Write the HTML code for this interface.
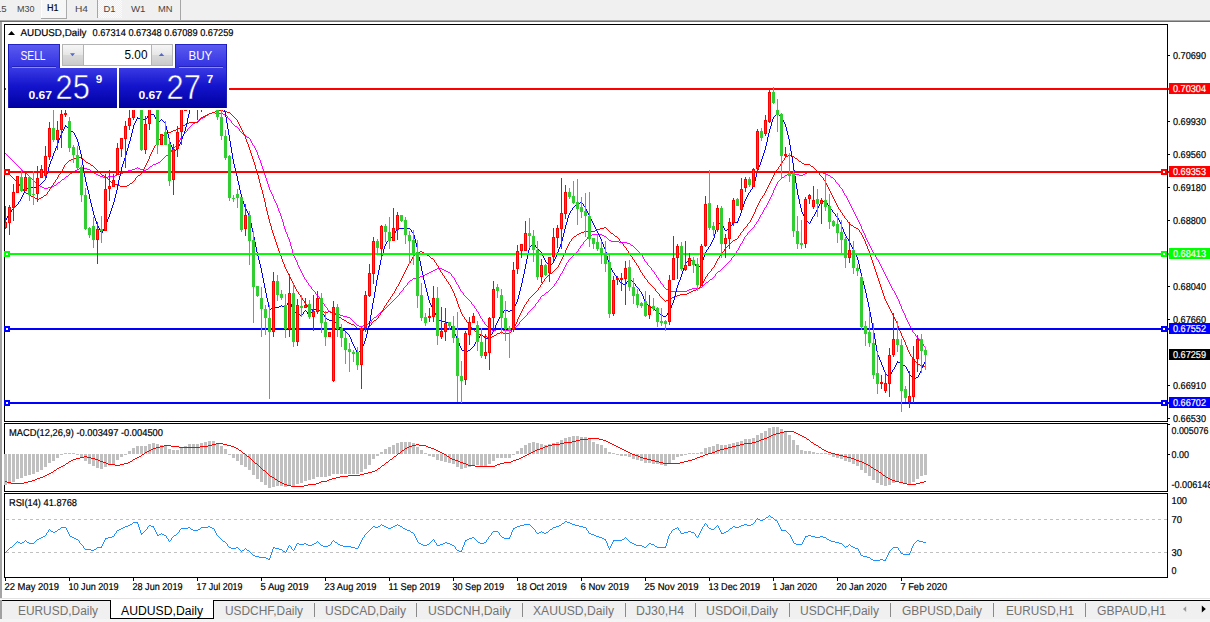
<!DOCTYPE html>
<html><head><meta charset="utf-8"><title>AUDUSD,Daily</title>
<style>
html,body{margin:0;padding:0;background:#fff;overflow:hidden;}
body{width:1210px;height:622px;font-family:"Liberation Sans",sans-serif;}
svg{display:block;}
svg text{font-family:"Liberation Sans",sans-serif;}
.c{shape-rendering:crispEdges;}
</style></head><body>
<svg width="1210" height="622" viewBox="0 0 1210 622">
<rect x="0" y="0" width="1210" height="622" fill="#fff" />
<rect x="0" y="0" width="1210" height="20" fill="#f0f0f0" />
<rect x="0" y="20" width="1210" height="1" fill="#a8a8a8" />
<rect x="0" y="21" width="1210" height="1" fill="#6e6e6e" />
<rect x="0" y="22" width="2" height="577" fill="#a4a4a4" />
<text x="6.6" y="11.8" font-size="9.6" fill="#454545" text-anchor="end" >M15</text>
<text x="17" y="11.8" font-size="9.6" fill="#454545" textLength="17.5" lengthAdjust="spacingAndGlyphs" >M30</text>
<rect x="41" y="0" width="26" height="19" fill="#f6f6f6" />
<rect x="41" y="0" width="1" height="19" fill="#fdfdfd" />
<rect x="66" y="0" width="1" height="19" fill="#ababab" />
<rect x="41" y="18" width="26" height="1" fill="#a6a6a6" />
<text x="47" y="10.8" font-size="10" fill="#000" textLength="11.5" lengthAdjust="spacingAndGlyphs" text-rendering="geometricPrecision" stroke="#000" stroke-width="0.2" >H1</text>
<text x="75" y="11.8" font-size="9.6" fill="#454545" textLength="13" lengthAdjust="spacingAndGlyphs" >H4</text>
<rect x="97" y="0" width="1" height="18" fill="#a6a6a6" />
<defs><pattern id="hatch" width="2" height="2" patternUnits="userSpaceOnUse"><rect width="2" height="2" fill="#f0f0f0"/><rect width="1" height="1" fill="#fbfbfb"/><rect x="1" y="1" width="1" height="1" fill="#fbfbfb"/></pattern></defs>
<rect x="98" y="0" width="24" height="18" fill="url(#hatch)" />
<text x="103.5" y="11.8" font-size="9.6" fill="#454545" textLength="12" lengthAdjust="spacingAndGlyphs" >D1</text>
<text x="131" y="11.8" font-size="9.6" fill="#454545" textLength="14.5" lengthAdjust="spacingAndGlyphs" >W1</text>
<text x="158" y="11.8" font-size="9.6" fill="#454545" textLength="14.5" lengthAdjust="spacingAndGlyphs" >MN</text>
<rect x="180" y="0" width="1" height="20" fill="#a6a6a6" />
<path class="c" d="M5.5 153v1M6.5 154v1M7.5 155v1M8.5 156v1M9.5 157v1M10.5 158v1M11.5 159v1M12.5 160v1M13.5 161v1M14.5 162v1M15.5 163v1M16.5 164v1M17.5 165v1M18.5 166v1M19.5 167v1M20.5 168v1M21.5 169v1M22.5 170v1M23.5 171v1M24.5 172v1M25.5 173v1M26.5 173v1M27.5 174v1M28.5 175v1M29.5 176v1M30.5 177v1M31.5 178v1M32.5 179v1M33.5 180v1M34.5 181v1M35.5 182v1M36.5 183v1M37.5 184v1M38.5 185v1M39.5 185v1M40.5 186v1M41.5 186v1M42.5 187v1M43.5 187v1M44.5 188v1M45.5 188v1M46.5 188v1M47.5 188v1M48.5 187v1M49.5 187v1M50.5 187v1M51.5 187v1M52.5 186v1M53.5 186v1M54.5 185v1M55.5 185v1M56.5 184v1M57.5 183v1M58.5 182v1M59.5 182v1M60.5 181v1M61.5 180v1M62.5 179v1M63.5 179v1M64.5 178v1M65.5 177v1M66.5 176v1M67.5 176v1M68.5 175v1M69.5 174v1M70.5 173v1M71.5 173v1M72.5 172v1M73.5 172v1M74.5 171v1M75.5 170v1M76.5 170v1M77.5 169v1M78.5 169v1M79.5 168v1M80.5 168v1M81.5 167v1M82.5 167v1M83.5 168v1M84.5 168v1M85.5 168v1M86.5 168v1M87.5 169v1M88.5 169v1M89.5 169v1M90.5 170v1M91.5 171v1M92.5 171v1M93.5 172v1M94.5 173v1M95.5 173v1M96.5 174v1M97.5 174v1M98.5 175v1M99.5 175v1M100.5 176v1M101.5 176v1M102.5 176v1M103.5 177v1M104.5 177v1M105.5 177v1M106.5 177v1M107.5 177v1M108.5 176v1M109.5 176v1M110.5 176v1M111.5 176v1M112.5 176v1M113.5 176v1M114.5 176v1M115.5 175v1M116.5 175v1M117.5 174v1M118.5 174v1M119.5 174v1M120.5 173v1M121.5 173v1M122.5 173v1M123.5 172v1M124.5 172v1M125.5 171v1M126.5 171v1M127.5 171v1M128.5 170v1M129.5 170v1M130.5 170v1M131.5 170v1M132.5 169v1M133.5 169v1M134.5 169v1M135.5 168v1M136.5 168v1M137.5 167v1M138.5 168v1M139.5 168v1M140.5 169v1M141.5 169v1M142.5 169v1M143.5 170v1M144.5 170v1M145.5 170v1M146.5 169v1M147.5 169v1M148.5 168v1M149.5 167v1M150.5 166v1M151.5 166v1M152.5 165v1M153.5 164v1M154.5 164v1M155.5 164v1M156.5 163v1M157.5 163v1M158.5 162v1M159.5 162v1M160.5 161v1M161.5 160v1M162.5 159v1M163.5 158v1M164.5 157v1M165.5 156v1M166.5 155v1M167.5 155v1M168.5 154v1M169.5 153v1M170.5 152v1M171.5 150v2M172.5 149v1M173.5 148v1M174.5 147v1M175.5 146v1M176.5 145v1M177.5 144v1M178.5 142v2M179.5 140v2M180.5 138v2M181.5 137v1M182.5 136v1M183.5 134v2M184.5 133v1M185.5 132v1M186.5 131v1M187.5 129v2M188.5 128v1M189.5 127v1M190.5 126v1M191.5 125v1M192.5 124v1M193.5 123v1M194.5 123v1M195.5 122v1M196.5 122v1M197.5 121v1M198.5 120v1M199.5 120v1M200.5 119v1M201.5 118v1M202.5 118v1M203.5 117v1M204.5 117v1M205.5 116v1M206.5 115v1M207.5 115v1M208.5 114v1M209.5 113v1M210.5 113v1M211.5 113v1M212.5 112v1M213.5 112v1M214.5 112v1M215.5 113v1M216.5 113v1M217.5 113v1M218.5 113v1M219.5 113v1M220.5 113v1M221.5 113v1M222.5 113v1M223.5 114v1M224.5 114v1M225.5 114v1M226.5 115v1M227.5 116v2M228.5 118v1M229.5 119v1M230.5 120v1M231.5 121v2M232.5 123v1M233.5 124v1M234.5 125v1M235.5 126v1M236.5 126v1M237.5 127v1M238.5 128v1M239.5 129v2M240.5 131v1M241.5 132v1M242.5 133v1M243.5 134v1M244.5 134v1M245.5 135v1M246.5 136v1M247.5 137v1M248.5 137v1M249.5 138v1M250.5 139v2M251.5 141v2M252.5 143v2M253.5 145v1M254.5 146v2M255.5 148v2M256.5 150v2M257.5 152v3M258.5 155v3M259.5 158v2M260.5 160v3M261.5 163v3M262.5 166v3M263.5 169v3M264.5 172v3M265.5 175v3M266.5 178v3M267.5 181v3M268.5 184v3M269.5 187v3M270.5 190v2M271.5 192v2M272.5 194v2M273.5 196v3M274.5 199v2M275.5 201v2M276.5 203v2M277.5 205v3M278.5 208v3M279.5 211v2M280.5 213v3M281.5 216v3M282.5 219v3M283.5 222v4M284.5 226v3M285.5 229v3M286.5 232v2M287.5 234v3M288.5 237v2M289.5 239v3M290.5 242v4M291.5 246v3M292.5 249v4M293.5 253v3M294.5 256v2M295.5 258v2M296.5 260v2M297.5 262v3M298.5 265v2M299.5 267v2M300.5 269v2M301.5 271v2M302.5 273v2M303.5 275v2M304.5 277v2M305.5 279v1M306.5 280v2M307.5 282v1M308.5 283v2M309.5 285v1M310.5 286v1M311.5 287v2M312.5 289v1M313.5 290v1M314.5 291v1M315.5 292v2M316.5 294v1M317.5 295v1M318.5 296v1M319.5 297v2M320.5 299v1M321.5 300v1M322.5 301v2M323.5 303v1M324.5 304v2M325.5 306v1M326.5 307v1M327.5 308v2M328.5 310v1M329.5 311v1M330.5 311v1M331.5 312v1M332.5 312v1M333.5 312v1M334.5 312v1M335.5 313v1M336.5 313v1M337.5 313v1M338.5 314v1M339.5 314v1M340.5 315v1M341.5 315v1M342.5 315v1M343.5 316v1M344.5 316v1M345.5 316v1M346.5 316v1M347.5 317v1M348.5 317v1M349.5 317v1M350.5 318v1M351.5 319v1M352.5 320v1M353.5 321v1M354.5 322v1M355.5 323v1M356.5 324v1M357.5 325v1M358.5 325v1M359.5 326v1M360.5 326v1M361.5 326v1M362.5 326v1M363.5 325v1M364.5 325v1M365.5 324v1M366.5 324v1M367.5 324v1M368.5 323v1M369.5 323v1M370.5 322v1M371.5 320v2M372.5 319v1M373.5 318v1M374.5 317v1M375.5 317v1M376.5 316v1M377.5 315v1M378.5 314v1M379.5 313v1M380.5 312v1M381.5 311v1M382.5 310v1M383.5 310v1M384.5 309v1M385.5 308v1M386.5 307v1M387.5 306v1M388.5 305v1M389.5 304v1M390.5 303v1M391.5 302v1M392.5 301v1M393.5 300v1M394.5 299v1M395.5 298v1M396.5 297v1M397.5 296v1M398.5 295v1M399.5 293v2M400.5 292v1M401.5 291v1M402.5 290v1M403.5 288v2M404.5 287v1M405.5 286v1M406.5 285v1M407.5 283v2M408.5 282v1M409.5 281v1M410.5 280v1M411.5 280v1M412.5 279v1M413.5 278v1M414.5 278v1M415.5 278v1M416.5 277v1M417.5 277v1M418.5 277v1M419.5 277v1M420.5 276v1M421.5 276v1M422.5 276v1M423.5 275v1M424.5 275v1M425.5 274v1M426.5 274v1M427.5 273v1M428.5 273v1M429.5 272v1M430.5 272v1M431.5 271v1M432.5 271v1M433.5 270v1M434.5 270v1M435.5 269v1M436.5 269v1M437.5 268v1M438.5 268v1M439.5 268v1M440.5 268v1M441.5 268v1M442.5 269v1M443.5 269v1M444.5 270v1M445.5 270v1M446.5 271v1M447.5 271v1M448.5 272v1M449.5 272v1M450.5 273v1M451.5 274v2M452.5 276v1M453.5 277v1M454.5 278v2M455.5 280v2M456.5 282v2M457.5 284v1M458.5 285v2M459.5 287v2M460.5 289v2M461.5 291v1M462.5 292v1M463.5 293v2M464.5 295v1M465.5 296v1M466.5 297v1M467.5 298v1M468.5 299v1M469.5 300v1M470.5 301v1M471.5 302v2M472.5 304v1M473.5 305v1M474.5 306v2M475.5 308v1M476.5 309v2M477.5 311v1M478.5 312v2M479.5 314v2M480.5 316v2M481.5 318v1M482.5 319v2M483.5 321v1M484.5 322v2M485.5 324v1M486.5 325v1M487.5 326v1M488.5 327v1M489.5 328v1M490.5 329v1M491.5 329v1M492.5 330v1M493.5 330v1M494.5 330v1M495.5 330v1M496.5 329v1M497.5 329v1M498.5 329v1M499.5 329v1M500.5 329v1M501.5 329v1M502.5 329v1M503.5 330v1M504.5 330v1M505.5 330v1M506.5 330v1M507.5 330v1M508.5 330v1M509.5 330v1M510.5 330v1M511.5 330v1M512.5 329v1M513.5 329v1M514.5 328v1M515.5 327v1M516.5 326v1M517.5 325v1M518.5 324v1M519.5 322v2M520.5 321v1M521.5 320v1M522.5 319v1M523.5 318v1M524.5 317v1M525.5 316v1M526.5 315v1M527.5 313v2M528.5 312v1M529.5 311v1M530.5 310v1M531.5 309v1M532.5 308v1M533.5 307v1M534.5 306v1M535.5 304v2M536.5 303v1M537.5 302v1M538.5 300v2M539.5 299v1M540.5 297v2M541.5 296v1M542.5 295v1M543.5 295v1M544.5 294v1M545.5 293v1M546.5 292v1M547.5 292v1M548.5 291v1M549.5 290v1M550.5 289v1M551.5 288v1M552.5 287v1M553.5 286v1M554.5 284v2M555.5 283v1M556.5 281v2M557.5 280v1M558.5 278v2M559.5 276v2M560.5 274v2M561.5 273v1M562.5 271v2M563.5 269v2M564.5 267v2M565.5 265v2M566.5 263v2M567.5 262v1M568.5 260v2M569.5 259v1M570.5 258v1M571.5 257v1M572.5 256v1M573.5 255v1M574.5 254v1M575.5 253v1M576.5 252v1M577.5 251v1M578.5 249v2M579.5 248v1M580.5 246v2M581.5 245v1M582.5 244v1M583.5 242v2M584.5 241v1M585.5 240v1M586.5 239v1M587.5 237v2M588.5 236v1M589.5 235v1M590.5 235v1M591.5 235v1M592.5 234v1M593.5 234v1M594.5 234v1M595.5 234v1M596.5 234v1M597.5 234v1M598.5 234v1M599.5 234v1M600.5 234v1M601.5 234v1M602.5 235v1M603.5 235v1M604.5 236v1M605.5 236v1M606.5 237v1M607.5 238v1M608.5 239v1M609.5 240v1M610.5 240v1M611.5 241v1M612.5 241v1M613.5 241v1M614.5 241v1M615.5 241v1M616.5 241v1M617.5 241v1M618.5 241v1M619.5 242v1M620.5 242v1M621.5 242v1M622.5 242v1M623.5 242v1M624.5 242v1M625.5 242v1M626.5 242v1M627.5 243v1M628.5 243v1M629.5 243v1M630.5 244v1M631.5 245v1M632.5 245v1M633.5 246v1M634.5 247v1M635.5 248v1M636.5 249v1M637.5 250v1M638.5 251v1M639.5 252v1M640.5 253v1M641.5 254v1M642.5 255v2M643.5 257v2M644.5 259v2M645.5 261v1M646.5 262v1M647.5 263v2M648.5 265v1M649.5 266v1M650.5 267v1M651.5 268v2M652.5 270v1M653.5 271v1M654.5 272v2M655.5 274v1M656.5 275v2M657.5 277v1M658.5 278v2M659.5 280v1M660.5 281v2M661.5 283v1M662.5 284v1M663.5 285v2M664.5 287v1M665.5 288v1M666.5 289v1M667.5 289v1M668.5 290v1M669.5 290v1M670.5 290v1M671.5 291v1M672.5 291v1M673.5 291v1M674.5 291v1M675.5 291v1M676.5 291v1M677.5 291v1M678.5 291v1M679.5 291v1M680.5 291v1M681.5 291v1M682.5 291v1M683.5 291v1M684.5 291v1M685.5 291v1M686.5 291v1M687.5 290v1M688.5 290v1M689.5 289v1M690.5 289v1M691.5 289v1M692.5 288v1M693.5 288v1M694.5 288v1M695.5 288v1M696.5 288v1M697.5 288v1M698.5 288v1M699.5 288v1M700.5 287v1M701.5 287v1M702.5 286v1M703.5 285v1M704.5 284v1M705.5 283v1M706.5 282v1M707.5 282v1M708.5 281v1M709.5 280v1M710.5 279v1M711.5 279v1M712.5 278v1M713.5 277v1M714.5 276v1M715.5 274v2M716.5 273v1M717.5 272v1M718.5 271v1M719.5 271v1M720.5 270v1M721.5 269v1M722.5 268v1M723.5 267v1M724.5 266v1M725.5 265v1M726.5 264v1M727.5 263v1M728.5 262v1M729.5 261v1M730.5 260v1M731.5 258v2M732.5 257v1M733.5 256v1M734.5 254v2M735.5 253v1M736.5 251v2M737.5 250v1M738.5 248v2M739.5 246v2M740.5 244v2M741.5 243v1M742.5 241v2M743.5 239v2M744.5 237v2M745.5 236v1M746.5 235v1M747.5 233v2M748.5 232v1M749.5 231v1M750.5 230v1M751.5 229v1M752.5 228v1M753.5 227v1M754.5 225v2M755.5 224v1M756.5 222v2M757.5 221v1M758.5 219v2M759.5 217v2M760.5 215v2M761.5 214v1M762.5 212v2M763.5 210v2M764.5 208v2M765.5 207v1M766.5 205v2M767.5 203v2M768.5 201v2M769.5 199v2M770.5 197v2M771.5 195v2M772.5 193v2M773.5 190v3M774.5 188v2M775.5 186v2M776.5 184v2M777.5 182v2M778.5 181v1M779.5 180v1M780.5 179v1M781.5 178v1M782.5 177v1M783.5 177v1M784.5 176v1M785.5 175v1M786.5 175v1M787.5 174v1M788.5 174v1M789.5 173v1M790.5 173v1M791.5 173v1M792.5 173v1M793.5 173v1M794.5 173v1M795.5 174v1M796.5 174v1M797.5 174v1M798.5 174v1M799.5 175v1M800.5 175v1M801.5 175v1M802.5 175v1M803.5 174v1M804.5 174v1M805.5 173v1M806.5 173v1M807.5 172v1M808.5 172v1M809.5 171v1M810.5 171v1M811.5 171v1M812.5 171v1M813.5 171v1M814.5 171v1M815.5 171v1M816.5 171v1M817.5 171v1M818.5 171v1M819.5 172v1M820.5 172v1M821.5 172v1M822.5 172v1M823.5 173v1M824.5 173v1M825.5 173v1M826.5 174v1M827.5 174v1M828.5 175v1M829.5 175v1M830.5 176v1M831.5 177v1M832.5 177v1M833.5 178v1M834.5 179v1M835.5 180v2M836.5 182v1M837.5 183v1M838.5 184v1M839.5 185v2M840.5 187v1M841.5 188v1M842.5 189v2M843.5 191v2M844.5 193v2M845.5 195v1M846.5 196v2M847.5 198v2M848.5 200v2M849.5 202v2M850.5 204v2M851.5 206v2M852.5 208v2M853.5 210v2M854.5 212v2M855.5 214v2M856.5 216v2M857.5 218v2M858.5 220v2M859.5 222v2M860.5 224v2M861.5 226v3M862.5 229v2M863.5 231v2M864.5 233v2M865.5 235v3M866.5 238v2M867.5 240v2M868.5 242v2M869.5 244v2M870.5 246v2M871.5 248v2M872.5 250v2M873.5 252v1M874.5 253v2M875.5 255v2M876.5 257v2M877.5 259v1M878.5 260v2M879.5 262v2M880.5 264v2M881.5 266v2M882.5 268v2M883.5 270v2M884.5 272v2M885.5 274v2M886.5 276v2M887.5 278v2M888.5 280v2M889.5 282v2M890.5 284v2M891.5 286v2M892.5 288v2M893.5 290v1M894.5 291v2M895.5 293v2M896.5 295v2M897.5 297v2M898.5 299v2M899.5 301v3M900.5 304v2M901.5 306v3M902.5 309v2M903.5 311v2M904.5 313v2M905.5 315v3M906.5 318v2M907.5 320v2M908.5 322v2M909.5 324v2M910.5 326v2M911.5 328v2M912.5 330v2M913.5 332v1M914.5 333v1M915.5 334v2M916.5 336v1M917.5 337v1M918.5 338v1M919.5 339v2M920.5 341v1M921.5 342v1M922.5 343v1M923.5 344v2M924.5 346v1M925.5 347v1" fill="none" stroke="#ff00ff" stroke-width="1"/>
<path class="c" d="M5.5 170v1M6.5 171v1M7.5 172v1M8.5 173v1M9.5 174v1M10.5 175v1M11.5 176v1M12.5 177v1M13.5 178v1M14.5 179v1M15.5 180v1M16.5 181v1M17.5 182v1M18.5 183v1M19.5 184v2M20.5 186v1M21.5 187v1M22.5 188v1M23.5 189v2M24.5 191v1M25.5 192v1M26.5 193v1M27.5 193v1M28.5 194v1M29.5 195v1M30.5 195v1M31.5 196v1M32.5 196v1M33.5 197v1M34.5 197v1M35.5 198v1M36.5 198v1M37.5 199v1M38.5 199v1M39.5 198v1M40.5 198v1M41.5 197v1M42.5 197v1M43.5 196v1M44.5 195v1M45.5 195v1M46.5 194v1M47.5 192v2M48.5 191v1M49.5 189v2M50.5 188v1M51.5 186v2M52.5 185v1M53.5 183v2M54.5 182v1M55.5 180v2M56.5 179v1M57.5 177v2M58.5 175v2M59.5 174v1M60.5 172v2M61.5 171v1M62.5 169v2M63.5 167v2M64.5 165v2M65.5 164v1M66.5 163v1M67.5 162v1M68.5 161v1M69.5 160v1M70.5 160v1M71.5 159v1M72.5 159v1M73.5 158v1M74.5 158v1M75.5 158v1M76.5 157v1M77.5 157v1M78.5 157v1M79.5 157v1M80.5 157v1M81.5 157v1M82.5 158v1M83.5 159v1M84.5 160v1M85.5 161v1M86.5 162v1M87.5 162v1M88.5 163v1M89.5 163v1M90.5 164v1M91.5 165v1M92.5 165v1M93.5 166v1M94.5 167v1M95.5 168v1M96.5 169v1M97.5 170v1M98.5 171v1M99.5 172v1M100.5 173v1M101.5 174v1M102.5 175v1M103.5 175v1M104.5 176v1M105.5 176v1M106.5 177v1M107.5 178v1M108.5 179v1M109.5 180v1M110.5 181v1M111.5 182v1M112.5 182v1M113.5 183v1M114.5 183v1M115.5 184v1M116.5 184v1M117.5 184v1M118.5 185v1M119.5 185v1M120.5 186v1M121.5 186v1M122.5 186v1M123.5 186v1M124.5 186v1M125.5 186v1M126.5 186v1M127.5 185v1M128.5 185v1M129.5 184v1M130.5 183v1M131.5 183v1M132.5 182v1M133.5 181v1M134.5 180v1M135.5 178v2M136.5 177v1M137.5 176v1M138.5 175v1M139.5 175v1M140.5 174v1M141.5 173v1M142.5 171v2M143.5 169v2M144.5 167v2M145.5 165v2M146.5 163v2M147.5 161v2M148.5 159v2M149.5 156v3M150.5 154v2M151.5 152v2M152.5 150v2M153.5 148v2M154.5 146v2M155.5 145v1M156.5 143v2M157.5 142v1M158.5 140v2M159.5 139v1M160.5 137v2M161.5 136v1M162.5 135v1M163.5 135v1M164.5 134v1M165.5 133v1M166.5 133v1M167.5 133v1M168.5 132v1M169.5 132v1M170.5 132v1M171.5 131v1M172.5 131v1M173.5 130v1M174.5 130v1M175.5 130v1M176.5 129v1M177.5 129v1M178.5 128v1M179.5 128v1M180.5 127v1M181.5 126v1M182.5 126v1M183.5 125v1M184.5 125v1M185.5 124v1M186.5 124v1M187.5 123v1M188.5 123v1M189.5 122v1M190.5 122v1M191.5 122v1M192.5 122v1M193.5 122v1M194.5 122v1M195.5 122v1M196.5 122v1M197.5 122v1M198.5 121v1M199.5 119v2M200.5 118v1M201.5 117v1M202.5 117v1M203.5 116v1M204.5 116v1M205.5 115v1M206.5 115v1M207.5 114v1M208.5 114v1M209.5 113v1M210.5 113v1M211.5 113v1M212.5 112v1M213.5 112v1M214.5 112v1M215.5 111v1M216.5 111v1M217.5 110v1M218.5 110v1M219.5 110v1M220.5 110v1M221.5 110v1M222.5 110v1M223.5 111v1M224.5 111v1M225.5 111v1M226.5 111v1M227.5 112v1M228.5 112v1M229.5 112v1M230.5 113v1M231.5 114v1M232.5 115v1M233.5 116v1M234.5 117v1M235.5 118v1M236.5 119v1M237.5 120v2M238.5 122v2M239.5 124v2M240.5 126v2M241.5 128v2M242.5 130v2M243.5 132v2M244.5 134v2M245.5 136v3M246.5 139v3M247.5 142v2M248.5 144v3M249.5 147v3M250.5 150v3M251.5 153v3M252.5 156v3M253.5 159v3M254.5 162v3M255.5 165v4M256.5 169v3M257.5 172v3M258.5 175v4M259.5 179v4M260.5 183v4M261.5 187v3M262.5 190v4M263.5 194v4M264.5 198v4M265.5 202v5M266.5 207v4M267.5 211v4M268.5 215v4M269.5 219v4M270.5 223v3M271.5 226v4M272.5 230v3M273.5 233v3M274.5 236v3M275.5 239v3M276.5 242v3M277.5 245v3M278.5 248v3M279.5 251v2M280.5 253v3M281.5 256v3M282.5 259v3M283.5 262v2M284.5 264v3M285.5 267v2M286.5 269v2M287.5 271v2M288.5 273v2M289.5 275v2M290.5 277v2M291.5 279v2M292.5 281v2M293.5 283v2M294.5 285v2M295.5 287v2M296.5 289v2M297.5 291v1M298.5 292v2M299.5 294v1M300.5 295v2M301.5 297v1M302.5 298v2M303.5 300v1M304.5 301v2M305.5 303v1M306.5 304v1M307.5 305v2M308.5 307v1M309.5 308v1M310.5 308v1M311.5 309v1M312.5 309v1M313.5 309v1M314.5 309v1M315.5 309v1M316.5 309v1M317.5 309v1M318.5 309v1M319.5 310v1M320.5 310v1M321.5 310v1M322.5 311v1M323.5 311v1M324.5 312v1M325.5 312v1M326.5 312v1M327.5 312v1M328.5 311v1M329.5 311v1M330.5 312v1M331.5 312v1M332.5 313v1M333.5 313v1M334.5 314v1M335.5 314v1M336.5 315v1M337.5 315v1M338.5 316v1M339.5 317v1M340.5 317v1M341.5 318v1M342.5 319v1M343.5 319v1M344.5 320v1M345.5 320v1M346.5 321v1M347.5 322v1M348.5 322v1M349.5 323v1M350.5 323v1M351.5 324v1M352.5 324v1M353.5 324v1M354.5 325v1M355.5 326v1M356.5 327v1M357.5 328v1M358.5 329v1M359.5 329v1M360.5 330v1M361.5 330v1M362.5 330v1M363.5 330v1M364.5 329v1M365.5 329v1M366.5 328v1M367.5 328v1M368.5 327v1M369.5 326v1M370.5 325v1M371.5 323v2M372.5 322v1M373.5 321v1M374.5 320v1M375.5 320v1M376.5 319v1M377.5 318v1M378.5 316v2M379.5 315v1M380.5 313v2M381.5 312v1M382.5 310v2M383.5 308v2M384.5 306v2M385.5 305v1M386.5 303v2M387.5 302v1M388.5 300v2M389.5 299v1M390.5 297v2M391.5 296v1M392.5 294v2M393.5 293v1M394.5 291v2M395.5 289v2M396.5 287v2M397.5 286v1M398.5 284v2M399.5 282v2M400.5 280v2M401.5 278v2M402.5 276v2M403.5 274v2M404.5 272v2M405.5 270v2M406.5 268v2M407.5 266v2M408.5 264v2M409.5 263v1M410.5 261v2M411.5 259v2M412.5 257v2M413.5 256v1M414.5 255v1M415.5 254v1M416.5 253v1M417.5 252v1M418.5 252v1M419.5 252v1M420.5 251v1M421.5 251v1M422.5 252v1M423.5 252v1M424.5 253v1M425.5 253v1M426.5 254v1M427.5 255v1M428.5 255v1M429.5 256v1M430.5 257v1M431.5 258v1M432.5 258v1M433.5 259v1M434.5 260v2M435.5 262v1M436.5 263v2M437.5 265v1M438.5 266v2M439.5 268v2M440.5 270v2M441.5 272v1M442.5 273v2M443.5 275v1M444.5 276v2M445.5 278v1M446.5 279v2M447.5 281v1M448.5 282v2M449.5 284v1M450.5 285v2M451.5 287v2M452.5 289v2M453.5 291v2M454.5 293v3M455.5 296v2M456.5 298v3M457.5 301v3M458.5 304v3M459.5 307v2M460.5 309v3M461.5 312v2M462.5 314v2M463.5 316v1M464.5 317v2M465.5 319v1M466.5 320v2M467.5 322v1M468.5 323v2M469.5 325v1M470.5 326v1M471.5 327v1M472.5 328v1M473.5 329v1M474.5 330v1M475.5 331v1M476.5 331v1M477.5 332v1M478.5 333v1M479.5 334v1M480.5 334v1M481.5 335v1M482.5 335v1M483.5 336v1M484.5 336v1M485.5 336v1M486.5 336v1M487.5 337v1M488.5 337v1M489.5 337v1M490.5 337v1M491.5 337v1M492.5 336v1M493.5 336v1M494.5 335v1M495.5 335v1M496.5 334v1M497.5 333v1M498.5 333v1M499.5 333v1M500.5 332v1M501.5 332v1M502.5 332v1M503.5 333v1M504.5 333v1M505.5 333v1M506.5 333v1M507.5 333v1M508.5 333v1M509.5 333v1M510.5 332v1M511.5 330v2M512.5 329v1M513.5 328v1M514.5 326v2M515.5 324v2M516.5 322v2M517.5 319v3M518.5 317v2M519.5 315v2M520.5 313v2M521.5 311v2M522.5 309v2M523.5 307v2M524.5 305v2M525.5 304v1M526.5 302v2M527.5 301v1M528.5 299v2M529.5 298v1M530.5 297v1M531.5 296v1M532.5 295v1M533.5 294v1M534.5 293v1M535.5 292v1M536.5 291v1M537.5 290v1M538.5 288v2M539.5 287v1M540.5 285v2M541.5 284v1M542.5 282v2M543.5 281v1M544.5 279v2M545.5 278v1M546.5 277v1M547.5 276v1M548.5 275v1M549.5 274v1M550.5 273v1M551.5 273v1M552.5 272v1M553.5 271v1M554.5 270v1M555.5 269v1M556.5 268v1M557.5 267v1M558.5 265v2M559.5 263v2M560.5 261v2M561.5 259v2M562.5 257v2M563.5 255v2M564.5 253v2M565.5 250v3M566.5 248v2M567.5 246v2M568.5 244v2M569.5 242v2M570.5 241v1M571.5 239v2M572.5 238v1M573.5 237v1M574.5 236v1M575.5 236v1M576.5 235v1M577.5 234v1M578.5 234v1M579.5 233v1M580.5 233v1M581.5 232v1M582.5 232v1M583.5 232v1M584.5 231v1M585.5 231v1M586.5 231v1M587.5 231v1M588.5 231v1M589.5 231v1M590.5 231v1M591.5 231v1M592.5 231v1M593.5 231v1M594.5 231v1M595.5 230v1M596.5 230v1M597.5 229v1M598.5 229v1M599.5 229v1M600.5 228v1M601.5 228v1M602.5 228v1M603.5 228v1M604.5 227v1M605.5 227v1M606.5 228v1M607.5 229v1M608.5 230v1M609.5 231v1M610.5 232v1M611.5 233v1M612.5 233v1M613.5 234v1M614.5 235v1M615.5 236v1M616.5 236v1M617.5 237v1M618.5 238v1M619.5 239v2M620.5 241v1M621.5 242v1M622.5 243v1M623.5 244v2M624.5 246v1M625.5 247v1M626.5 248v2M627.5 250v1M628.5 251v2M629.5 253v1M630.5 254v2M631.5 256v1M632.5 257v2M633.5 259v1M634.5 260v2M635.5 262v1M636.5 263v2M637.5 265v1M638.5 266v2M639.5 268v2M640.5 270v2M641.5 272v1M642.5 273v2M643.5 275v1M644.5 276v2M645.5 278v1M646.5 279v1M647.5 280v2M648.5 282v1M649.5 283v1M650.5 284v1M651.5 285v1M652.5 286v1M653.5 287v1M654.5 288v1M655.5 289v2M656.5 291v1M657.5 292v1M658.5 293v1M659.5 294v2M660.5 296v1M661.5 297v1M662.5 298v1M663.5 299v1M664.5 300v1M665.5 301v1M666.5 300v1M667.5 300v1M668.5 299v1M669.5 298v1M670.5 298v1M671.5 298v1M672.5 297v1M673.5 297v1M674.5 297v1M675.5 296v1M676.5 296v1M677.5 295v1M678.5 295v1M679.5 295v1M680.5 294v1M681.5 294v1M682.5 294v1M683.5 294v1M684.5 294v1M685.5 294v1M686.5 294v1M687.5 293v1M688.5 293v1M689.5 292v1M690.5 292v1M691.5 291v1M692.5 291v1M693.5 290v1M694.5 290v1M695.5 290v1M696.5 289v1M697.5 289v1M698.5 288v1M699.5 287v1M700.5 286v1M701.5 285v1M702.5 283v2M703.5 281v2M704.5 279v2M705.5 277v2M706.5 276v1M707.5 274v2M708.5 273v1M709.5 272v1M710.5 271v1M711.5 269v2M712.5 268v1M713.5 267v1M714.5 265v2M715.5 263v2M716.5 261v2M717.5 259v2M718.5 258v1M719.5 256v2M720.5 255v1M721.5 254v1M722.5 252v2M723.5 251v1M724.5 249v2M725.5 248v1M726.5 247v1M727.5 246v1M728.5 245v1M729.5 244v1M730.5 243v1M731.5 242v1M732.5 241v1M733.5 240v1M734.5 240v1M735.5 239v1M736.5 239v1M737.5 238v1M738.5 236v2M739.5 235v1M740.5 233v2M741.5 232v1M742.5 231v1M743.5 229v2M744.5 228v1M745.5 227v1M746.5 226v1M747.5 224v2M748.5 223v1M749.5 222v1M750.5 220v2M751.5 218v2M752.5 216v2M753.5 214v2M754.5 212v2M755.5 209v3M756.5 207v2M757.5 205v2M758.5 203v2M759.5 201v2M760.5 199v2M761.5 198v1M762.5 196v2M763.5 195v1M764.5 193v2M765.5 191v2M766.5 189v2M767.5 187v2M768.5 185v2M769.5 183v2M770.5 181v2M771.5 179v2M772.5 177v2M773.5 175v2M774.5 173v2M775.5 172v1M776.5 170v2M777.5 169v1M778.5 167v2M779.5 166v1M780.5 164v2M781.5 163v1M782.5 161v2M783.5 160v1M784.5 158v2M785.5 157v1M786.5 156v1M787.5 156v1M788.5 155v1M789.5 154v1M790.5 155v1M791.5 155v1M792.5 156v1M793.5 156v1M794.5 157v1M795.5 158v1M796.5 158v1M797.5 159v1M798.5 160v1M799.5 161v1M800.5 161v1M801.5 162v1M802.5 163v1M803.5 163v1M804.5 164v1M805.5 164v1M806.5 164v1M807.5 164v1M808.5 164v1M809.5 164v1M810.5 165v1M811.5 166v1M812.5 166v1M813.5 167v1M814.5 168v1M815.5 169v1M816.5 170v1M817.5 171v1M818.5 172v1M819.5 173v2M820.5 175v1M821.5 176v1M822.5 177v1M823.5 178v2M824.5 180v1M825.5 181v2M826.5 183v2M827.5 185v2M828.5 187v2M829.5 189v2M830.5 191v2M831.5 193v2M832.5 195v2M833.5 197v2M834.5 199v2M835.5 201v2M836.5 203v2M837.5 205v2M838.5 207v2M839.5 209v1M840.5 210v2M841.5 212v1M842.5 213v2M843.5 215v1M844.5 216v2M845.5 218v1M846.5 219v1M847.5 220v2M848.5 222v1M849.5 223v1M850.5 224v1M851.5 225v1M852.5 225v1M853.5 226v1M854.5 227v1M855.5 227v1M856.5 228v1M857.5 228v1M858.5 229v1M859.5 230v2M860.5 232v1M861.5 233v2M862.5 235v2M863.5 237v2M864.5 239v2M865.5 241v3M866.5 244v2M867.5 246v3M868.5 249v2M869.5 251v3M870.5 254v3M871.5 257v3M872.5 260v3M873.5 263v3M874.5 266v3M875.5 269v3M876.5 272v3M877.5 275v3M878.5 278v3M879.5 281v3M880.5 284v3M881.5 287v3M882.5 290v3M883.5 293v3M884.5 296v3M885.5 299v2M886.5 301v2M887.5 303v2M888.5 305v2M889.5 307v2M890.5 309v2M891.5 311v2M892.5 313v2M893.5 315v2M894.5 317v2M895.5 319v2M896.5 321v2M897.5 323v3M898.5 326v2M899.5 328v3M900.5 331v2M901.5 333v3M902.5 336v2M903.5 338v2M904.5 340v2M905.5 342v3M906.5 345v2M907.5 347v3M908.5 350v2M909.5 352v2M910.5 354v2M911.5 356v1M912.5 357v2M913.5 359v1M914.5 360v1M915.5 361v1M916.5 362v1M917.5 363v1M918.5 364v1M919.5 364v1M920.5 365v1M921.5 365v1M922.5 365v1M923.5 366v1M924.5 366v1M925.5 366v1" fill="none" stroke="#ff0000" stroke-width="1"/>
<path class="c" d="M5.5 220v1M6.5 218v2M7.5 216v2M8.5 214v2M9.5 213v1M10.5 212v1M11.5 210v2M12.5 209v1M13.5 208v1M14.5 207v1M15.5 206v1M16.5 205v1M17.5 204v1M18.5 202v2M19.5 201v1M20.5 199v2M21.5 197v2M22.5 195v2M23.5 193v2M24.5 191v2M25.5 189v2M26.5 188v1M27.5 188v1M28.5 187v1M29.5 186v1M30.5 186v1M31.5 187v1M32.5 187v1M33.5 187v1M34.5 187v1M35.5 187v1M36.5 187v1M37.5 187v1M38.5 186v1M39.5 185v1M40.5 184v1M41.5 183v1M42.5 182v1M43.5 181v1M44.5 180v1M45.5 178v2M46.5 174v4M47.5 171v3M48.5 167v4M49.5 164v3M50.5 161v3M51.5 159v2M52.5 156v3M53.5 153v3M54.5 151v2M55.5 148v3M56.5 146v2M57.5 143v3M58.5 140v3M59.5 138v2M60.5 135v3M61.5 133v2M62.5 131v2M63.5 129v2M64.5 127v2M65.5 125v2M66.5 126v1M67.5 127v1M68.5 128v1M69.5 129v1M70.5 130v1M71.5 131v1M72.5 131v1M73.5 132v1M74.5 133v2M75.5 135v2M76.5 137v2M77.5 139v3M78.5 142v4M79.5 146v4M80.5 150v4M81.5 154v5M82.5 159v6M83.5 165v6M84.5 171v6M85.5 177v5M86.5 182v4M87.5 186v4M88.5 190v4M89.5 194v5M90.5 199v4M91.5 203v4M92.5 207v4M93.5 211v4M94.5 215v3M95.5 218v3M96.5 221v3M97.5 224v2M98.5 226v2M99.5 228v2M100.5 230v2M101.5 232v2M102.5 231v2M103.5 229v2M104.5 227v2M105.5 224v3M106.5 222v2M107.5 219v3M108.5 217v2M109.5 214v3M110.5 211v3M111.5 208v3M112.5 205v3M113.5 202v3M114.5 198v4M115.5 194v4M116.5 190v4M117.5 185v5M118.5 180v5M119.5 176v4M120.5 171v5M121.5 167v4M122.5 164v3M123.5 161v3M124.5 158v3M125.5 155v3M126.5 151v4M127.5 148v3M128.5 144v4M129.5 141v3M130.5 137v4M131.5 133v4M132.5 129v4M133.5 125v4M134.5 123v2M135.5 121v2M136.5 119v2M137.5 117v2M138.5 118v1M139.5 118v1M140.5 119v1M141.5 119v1M142.5 119v1M143.5 119v1M144.5 119v1M145.5 119v1M146.5 118v1M147.5 116v2M148.5 115v1M149.5 114v1M150.5 114v1M151.5 114v1M152.5 114v1M153.5 114v1M154.5 115v2M155.5 117v2M156.5 119v2M157.5 121v2M158.5 121v1M159.5 121v1M160.5 120v1M161.5 119v1M162.5 120v1M163.5 121v1M164.5 122v1M165.5 123v3M166.5 126v4M167.5 130v4M168.5 134v4M169.5 138v4M170.5 142v3M171.5 145v2M172.5 147v3M173.5 150v2M174.5 150v1M175.5 150v1M176.5 149v1M177.5 148v1M178.5 146v2M179.5 144v2M180.5 142v2M181.5 139v3M182.5 136v3M183.5 134v2M184.5 131v3M185.5 127v4M186.5 123v4M187.5 118v5M188.5 114v4M189.5 110v4M190.5 108v2M191.5 106v2M192.5 104v2M193.5 102v2M194.5 100v2M195.5 98v2M196.5 96v2M197.5 95v1M198.5 95v1M199.5 95v1M200.5 94v1M201.5 94v1M202.5 94v1M203.5 93v1M204.5 93v1M205.5 92v1M206.5 91v1M207.5 91v1M208.5 90v1M209.5 89v1M210.5 88v1M211.5 86v2M212.5 85v1M213.5 84v1M214.5 85v1M215.5 86v1M216.5 86v1M217.5 87v2M218.5 89v3M219.5 92v2M220.5 94v3M221.5 97v3M222.5 100v4M223.5 104v4M224.5 108v4M225.5 112v5M226.5 117v6M227.5 123v6M228.5 129v6M229.5 135v6M230.5 141v6M231.5 147v6M232.5 153v6M233.5 159v5M234.5 164v4M235.5 168v4M236.5 172v4M237.5 176v5M238.5 181v4M239.5 185v5M240.5 190v4M241.5 194v4M242.5 198v3M243.5 201v3M244.5 204v3M245.5 207v2M246.5 209v2M247.5 211v2M248.5 213v2M249.5 215v4M250.5 219v4M251.5 223v5M252.5 228v4M253.5 232v5M254.5 237v5M255.5 242v5M256.5 247v5M257.5 252v4M258.5 256v4M259.5 260v4M260.5 264v4M261.5 268v5M262.5 273v5M263.5 278v5M264.5 283v5M265.5 288v5M266.5 293v5M267.5 298v4M268.5 302v5M269.5 307v3M270.5 309v1M271.5 308v1M272.5 308v1M273.5 307v1M274.5 307v1M275.5 307v1M276.5 307v1M277.5 307v1M278.5 307v1M279.5 306v1M280.5 306v1M281.5 305v1M282.5 306v1M283.5 306v1M284.5 307v1M285.5 307v1M286.5 305v2M287.5 303v2M288.5 301v2M289.5 299v2M290.5 301v3M291.5 304v3M292.5 307v3M293.5 310v2M294.5 312v1M295.5 312v1M296.5 313v1M297.5 313v1M298.5 314v1M299.5 314v1M300.5 315v1M301.5 315v1M302.5 314v1M303.5 312v2M304.5 311v1M305.5 310v1M306.5 311v1M307.5 312v2M308.5 314v1M309.5 315v1M310.5 313v2M311.5 312v1M312.5 310v2M313.5 309v1M314.5 309v1M315.5 309v1M316.5 308v1M317.5 308v1M318.5 309v1M319.5 310v1M320.5 310v1M321.5 311v1M322.5 312v2M323.5 314v1M324.5 315v2M325.5 317v1M326.5 318v1M327.5 319v1M328.5 319v1M329.5 320v1M330.5 320v1M331.5 320v1M332.5 319v1M333.5 319v1M334.5 320v2M335.5 322v1M336.5 323v2M337.5 325v1M338.5 326v1M339.5 327v1M340.5 327v1M341.5 328v1M342.5 329v1M343.5 330v1M344.5 330v1M345.5 331v1M346.5 332v1M347.5 333v1M348.5 334v1M349.5 335v2M350.5 337v2M351.5 339v3M352.5 342v2M353.5 344v2M354.5 346v2M355.5 348v2M356.5 350v2M357.5 352v1M358.5 352v1M359.5 351v1M360.5 351v1M361.5 349v2M362.5 346v3M363.5 344v2M364.5 341v3M365.5 338v3M366.5 334v4M367.5 330v4M368.5 326v4M369.5 321v5M370.5 315v6M371.5 309v6M372.5 303v6M373.5 298v5M374.5 292v6M375.5 286v6M376.5 280v6M377.5 275v5M378.5 270v5M379.5 265v5M380.5 260v5M381.5 256v4M382.5 253v3M383.5 249v4M384.5 246v3M385.5 244v2M386.5 242v2M387.5 241v1M388.5 239v2M389.5 238v1M390.5 237v1M391.5 237v1M392.5 236v1M393.5 235v1M394.5 233v2M395.5 231v2M396.5 229v2M397.5 228v1M398.5 228v1M399.5 228v1M400.5 228v1M401.5 228v1M402.5 228v1M403.5 228v1M404.5 228v1M405.5 228v1M406.5 228v1M407.5 228v1M408.5 228v1M409.5 228v1M410.5 229v1M411.5 230v2M412.5 232v1M413.5 233v2M414.5 235v4M415.5 239v4M416.5 243v4M417.5 247v5M418.5 252v5M419.5 257v4M420.5 261v5M421.5 266v5M422.5 271v4M423.5 275v5M424.5 280v4M425.5 284v4M426.5 288v4M427.5 292v4M428.5 296v4M429.5 300v3M430.5 303v2M431.5 305v2M432.5 307v2M433.5 309v2M434.5 311v2M435.5 313v2M436.5 315v2M437.5 317v2M438.5 319v1M439.5 320v1M440.5 320v1M441.5 321v1M442.5 321v1M443.5 321v1M444.5 321v1M445.5 321v1M446.5 322v1M447.5 322v1M448.5 323v1M449.5 323v1M450.5 324v2M451.5 326v2M452.5 328v2M453.5 330v2M454.5 332v2M455.5 334v2M456.5 336v2M457.5 338v3M458.5 341v2M459.5 343v3M460.5 346v2M461.5 348v2M462.5 350v1M463.5 350v1M464.5 351v1M465.5 351v1M466.5 351v1M467.5 351v1M468.5 350v1M469.5 350v1M470.5 349v1M471.5 348v1M472.5 347v1M473.5 346v1M474.5 344v2M475.5 342v2M476.5 340v2M477.5 339v1M478.5 338v1M479.5 336v2M480.5 335v1M481.5 334v1M482.5 335v1M483.5 336v1M484.5 337v1M485.5 338v1M486.5 338v1M487.5 338v1M488.5 337v1M489.5 337v1M490.5 335v2M491.5 334v1M492.5 332v2M493.5 330v2M494.5 328v2M495.5 325v3M496.5 323v2M497.5 321v2M498.5 319v2M499.5 317v2M500.5 315v2M501.5 314v1M502.5 313v1M503.5 311v2M504.5 310v1M505.5 309v1M506.5 310v1M507.5 310v1M508.5 311v1M509.5 311v1M510.5 310v1M511.5 310v1M512.5 309v1M513.5 308v1M514.5 306v2M515.5 304v2M516.5 302v2M517.5 299v3M518.5 295v4M519.5 291v4M520.5 287v4M521.5 283v4M522.5 278v5M523.5 274v4M524.5 269v5M525.5 264v5M526.5 259v5M527.5 255v4M528.5 250v5M529.5 247v3M530.5 246v1M531.5 245v1M532.5 244v1M533.5 243v1M534.5 244v1M535.5 245v2M536.5 247v1M537.5 248v1M538.5 249v1M539.5 250v1M540.5 251v1M541.5 252v2M542.5 254v2M543.5 256v2M544.5 258v2M545.5 260v2M546.5 262v1M547.5 263v1M548.5 264v1M549.5 265v1M550.5 264v1M551.5 264v1M552.5 263v1M553.5 261v2M554.5 259v2M555.5 257v2M556.5 255v2M557.5 252v3M558.5 249v3M559.5 247v2M560.5 244v3M561.5 241v3M562.5 237v4M563.5 233v4M564.5 229v4M565.5 225v4M566.5 222v3M567.5 218v4M568.5 215v3M569.5 213v2M570.5 211v2M571.5 210v1M572.5 208v2M573.5 207v1M574.5 206v1M575.5 205v1M576.5 204v1M577.5 203v1M578.5 203v1M579.5 203v1M580.5 202v1M581.5 202v1M582.5 203v1M583.5 204v2M584.5 206v1M585.5 207v2M586.5 209v2M587.5 211v2M588.5 213v2M589.5 215v2M590.5 217v2M591.5 219v2M592.5 221v2M593.5 223v2M594.5 225v2M595.5 227v2M596.5 229v2M597.5 231v2M598.5 233v2M599.5 235v2M600.5 237v2M601.5 239v3M602.5 242v2M603.5 244v3M604.5 247v2M605.5 249v3M606.5 252v4M607.5 256v4M608.5 260v4M609.5 264v2M610.5 266v2M611.5 268v2M612.5 270v2M613.5 272v1M614.5 273v2M615.5 275v1M616.5 276v2M617.5 278v1M618.5 279v1M619.5 280v2M620.5 282v1M621.5 283v1M622.5 283v1M623.5 284v1M624.5 284v1M625.5 284v1M626.5 282v2M627.5 281v1M628.5 279v2M629.5 278v1M630.5 279v1M631.5 280v1M632.5 281v1M633.5 282v1M634.5 283v1M635.5 284v2M636.5 286v1M637.5 287v1M638.5 288v1M639.5 289v2M640.5 291v1M641.5 292v2M642.5 294v2M643.5 296v3M644.5 299v2M645.5 301v2M646.5 303v1M647.5 304v1M648.5 305v1M649.5 306v1M650.5 307v1M651.5 307v1M652.5 308v1M653.5 308v1M654.5 309v1M655.5 310v1M656.5 310v1M657.5 311v1M658.5 312v1M659.5 313v1M660.5 314v1M661.5 315v1M662.5 315v1M663.5 316v1M664.5 316v1M665.5 316v1M666.5 315v1M667.5 313v2M668.5 312v1M669.5 310v2M670.5 308v2M671.5 305v3M672.5 303v2M673.5 300v3M674.5 296v4M675.5 292v4M676.5 288v4M677.5 285v3M678.5 282v3M679.5 280v2M680.5 277v3M681.5 274v3M682.5 271v3M683.5 268v3M684.5 265v3M685.5 263v2M686.5 262v1M687.5 261v1M688.5 260v1M689.5 259v1M690.5 260v1M691.5 260v1M692.5 261v1M693.5 261v1M694.5 262v2M695.5 264v2M696.5 266v2M697.5 268v1M698.5 267v1M699.5 266v1M700.5 265v1M701.5 263v2M702.5 260v3M703.5 257v3M704.5 254v3M705.5 252v2M706.5 250v2M707.5 249v1M708.5 247v2M709.5 246v1M710.5 244v2M711.5 242v2M712.5 240v2M713.5 238v2M714.5 234v4M715.5 230v4M716.5 226v4M717.5 223v3M718.5 223v1M719.5 223v1M720.5 223v1M721.5 223v1M722.5 224v2M723.5 226v2M724.5 228v2M725.5 230v1M726.5 230v1M727.5 229v1M728.5 229v1M729.5 228v1M730.5 226v2M731.5 225v1M732.5 223v2M733.5 222v1M734.5 222v1M735.5 222v1M736.5 222v1M737.5 221v2M738.5 218v3M739.5 216v2M740.5 213v3M741.5 210v3M742.5 207v3M743.5 204v3M744.5 201v3M745.5 199v2M746.5 197v2M747.5 195v2M748.5 193v2M749.5 192v1M750.5 190v2M751.5 189v1M752.5 187v2M753.5 185v2M754.5 181v4M755.5 177v4M756.5 173v4M757.5 170v3M758.5 167v3M759.5 165v2M760.5 162v3M761.5 159v3M762.5 156v3M763.5 153v3M764.5 150v3M765.5 146v4M766.5 142v4M767.5 137v5M768.5 133v4M769.5 129v4M770.5 126v3M771.5 122v4M772.5 119v3M773.5 117v2M774.5 116v1M775.5 115v1M776.5 114v1M777.5 113v1M778.5 114v1M779.5 115v1M780.5 116v1M781.5 117v1M782.5 118v2M783.5 120v2M784.5 122v2M785.5 124v3M786.5 127v4M787.5 131v4M788.5 135v4M789.5 139v6M790.5 145v6M791.5 151v6M792.5 157v6M793.5 163v7M794.5 170v6M795.5 176v7M796.5 183v6M797.5 189v6M798.5 195v4M799.5 199v5M800.5 204v4M801.5 208v4M802.5 212v2M803.5 214v2M804.5 216v2M805.5 218v2M806.5 220v1M807.5 221v1M808.5 222v1M809.5 223v1M810.5 221v2M811.5 219v2M812.5 217v2M813.5 216v1M814.5 214v2M815.5 212v2M816.5 210v2M817.5 208v2M818.5 206v2M819.5 204v2M820.5 202v2M821.5 200v2M822.5 200v1M823.5 201v1M824.5 201v1M825.5 201v1M826.5 202v1M827.5 203v2M828.5 205v1M829.5 206v1M830.5 207v2M831.5 209v1M832.5 210v2M833.5 212v1M834.5 213v1M835.5 214v2M836.5 216v1M837.5 217v1M838.5 218v2M839.5 220v2M840.5 222v2M841.5 224v3M842.5 227v2M843.5 229v3M844.5 232v2M845.5 234v2M846.5 236v2M847.5 238v1M848.5 239v2M849.5 241v2M850.5 243v2M851.5 245v2M852.5 247v2M853.5 249v2M854.5 251v2M855.5 253v2M856.5 255v2M857.5 257v3M858.5 260v4M859.5 264v5M860.5 269v4M861.5 273v4M862.5 277v4M863.5 281v4M864.5 285v4M865.5 289v4M866.5 293v5M867.5 298v4M868.5 302v5M869.5 307v5M870.5 312v5M871.5 317v6M872.5 323v5M873.5 328v5M874.5 333v6M875.5 339v6M876.5 345v6M877.5 351v4M878.5 355v2M879.5 357v3M880.5 360v2M881.5 362v3M882.5 365v2M883.5 367v3M884.5 370v2M885.5 372v2M886.5 374v1M887.5 375v1M888.5 375v1M889.5 376v1M890.5 374v2M891.5 372v2M892.5 370v2M893.5 369v1M894.5 367v2M895.5 365v2M896.5 363v2M897.5 361v2M898.5 362v1M899.5 362v1M900.5 363v1M901.5 363v1M902.5 364v1M903.5 365v1M904.5 365v1M905.5 366v1M906.5 367v2M907.5 369v2M908.5 371v2M909.5 373v2M910.5 375v1M911.5 376v1M912.5 377v1M913.5 378v1M914.5 378v1M915.5 378v1M916.5 377v1M917.5 377v1M918.5 375v2M919.5 373v2M920.5 371v2M921.5 368v3M922.5 366v2M923.5 364v2M924.5 362v2M925.5 360v2" fill="none" stroke="#0000ff" stroke-width="1"/>
<g class="c">
<rect x="5" y="88" width="1162" height="2" fill="#ff0000" />
</g>
<g class="c">
<rect x="5" y="171" width="1162" height="2" fill="#ff0000" />
<rect x="4" y="169" width="6" height="6" fill="#ff0000" />
<rect x="6" y="171" width="2" height="2" fill="#fff" />
<rect x="1161" y="169" width="6" height="6" fill="#ff0000" />
<rect x="1163" y="171" width="2" height="2" fill="#fff" />
</g>
<g class="c">
<rect x="5" y="253" width="1162" height="2" fill="#00ff00" />
<rect x="4" y="251" width="6" height="6" fill="#00ff00" />
<rect x="6" y="253" width="2" height="2" fill="#fff" />
<rect x="1161" y="251" width="6" height="6" fill="#00ff00" />
<rect x="1163" y="253" width="2" height="2" fill="#fff" />
</g>
<g class="c">
<rect x="5" y="328" width="1162" height="2" fill="#0000ff" />
<rect x="4" y="326" width="6" height="6" fill="#0000ff" />
<rect x="6" y="328" width="2" height="2" fill="#fff" />
<rect x="1161" y="326" width="6" height="6" fill="#0000ff" />
<rect x="1163" y="328" width="2" height="2" fill="#fff" />
</g>
<g class="c">
<rect x="5" y="402" width="1162" height="2" fill="#0000ff" />
<rect x="4" y="400" width="6" height="6" fill="#0000ff" />
<rect x="6" y="402" width="2" height="2" fill="#fff" />
<rect x="1161" y="400" width="6" height="6" fill="#0000ff" />
<rect x="1163" y="402" width="2" height="2" fill="#fff" />
</g>
<g class="c">
<rect x="5" y="206" width="1" height="23" fill="#ff0000" />
<rect x="4" y="222" width="3" height="6" fill="#ff0000" />
<rect x="5" y="223" width="1" height="4" fill="#ff4500" />
<rect x="9" y="205" width="1" height="30" fill="#ff0000" />
<rect x="8" y="207" width="3" height="16" fill="#ff0000" />
<rect x="9" y="208" width="1" height="14" fill="#ff4500" />
<rect x="13" y="184" width="1" height="37" fill="#ff0000" />
<rect x="12" y="192" width="3" height="16" fill="#ff0000" />
<rect x="13" y="193" width="1" height="14" fill="#ff4500" />
<rect x="17" y="176" width="1" height="17" fill="#ff0000" />
<rect x="16" y="176" width="3" height="17" fill="#ff0000" />
<rect x="17" y="177" width="1" height="15" fill="#ff4500" />
<rect x="21" y="170" width="1" height="22" fill="#32cd32" />
<rect x="20" y="177" width="3" height="14" fill="#32cd32" />
<rect x="25" y="173" width="1" height="18" fill="#ff0000" />
<rect x="24" y="177" width="3" height="14" fill="#ff0000" />
<rect x="25" y="178" width="1" height="12" fill="#ff4500" />
<rect x="29" y="176" width="1" height="25" fill="#32cd32" />
<rect x="28" y="177" width="3" height="18" fill="#32cd32" />
<rect x="33" y="171" width="1" height="34" fill="#32cd32" />
<rect x="32" y="194" width="3" height="1" fill="#32cd32" />
<rect x="37" y="166" width="1" height="36" fill="#ff0000" />
<rect x="36" y="178" width="3" height="16" fill="#ff0000" />
<rect x="37" y="179" width="1" height="14" fill="#ff4500" />
<rect x="41" y="165" width="1" height="13" fill="#ff0000" />
<rect x="40" y="169" width="3" height="9" fill="#ff0000" />
<rect x="41" y="170" width="1" height="7" fill="#ff4500" />
<rect x="45" y="146" width="1" height="34" fill="#ff0000" />
<rect x="44" y="156" width="3" height="20" fill="#ff0000" />
<rect x="45" y="157" width="1" height="18" fill="#ff4500" />
<rect x="49" y="122" width="1" height="38" fill="#ff0000" />
<rect x="48" y="128" width="3" height="29" fill="#ff0000" />
<rect x="49" y="129" width="1" height="27" fill="#ff4500" />
<rect x="53" y="110" width="1" height="32" fill="#32cd32" />
<rect x="52" y="128" width="3" height="12" fill="#32cd32" />
<rect x="57" y="121" width="1" height="29" fill="#ff0000" />
<rect x="56" y="130" width="3" height="10" fill="#ff0000" />
<rect x="57" y="131" width="1" height="8" fill="#ff4500" />
<rect x="61" y="110" width="1" height="38" fill="#ff0000" />
<rect x="60" y="114" width="3" height="16" fill="#ff0000" />
<rect x="61" y="115" width="1" height="14" fill="#ff4500" />
<rect x="65" y="110" width="1" height="7" fill="#ff0000" />
<rect x="64" y="113" width="3" height="2" fill="#ff0000" />
<rect x="69" y="117" width="1" height="35" fill="#32cd32" />
<rect x="68" y="121" width="3" height="27" fill="#32cd32" />
<rect x="73" y="145" width="1" height="18" fill="#32cd32" />
<rect x="72" y="147" width="3" height="8" fill="#32cd32" />
<rect x="77" y="146" width="1" height="23" fill="#32cd32" />
<rect x="76" y="155" width="3" height="13" fill="#32cd32" />
<rect x="81" y="165" width="1" height="37" fill="#32cd32" />
<rect x="80" y="167" width="3" height="28" fill="#32cd32" />
<rect x="85" y="188" width="1" height="42" fill="#32cd32" />
<rect x="84" y="195" width="3" height="34" fill="#32cd32" />
<rect x="89" y="227" width="1" height="11" fill="#32cd32" />
<rect x="88" y="228" width="3" height="7" fill="#32cd32" />
<rect x="93" y="217" width="1" height="31" fill="#32cd32" />
<rect x="92" y="226" width="3" height="14" fill="#32cd32" />
<rect x="97" y="222" width="1" height="42" fill="#ff0000" />
<rect x="96" y="229" width="3" height="11" fill="#ff0000" />
<rect x="97" y="230" width="1" height="9" fill="#ff4500" />
<rect x="101" y="216" width="1" height="27" fill="#32cd32" />
<rect x="100" y="229" width="3" height="2" fill="#32cd32" />
<rect x="105" y="174" width="1" height="57" fill="#ff0000" />
<rect x="104" y="189" width="3" height="42" fill="#ff0000" />
<rect x="105" y="190" width="1" height="40" fill="#ff4500" />
<rect x="109" y="170" width="1" height="31" fill="#ff0000" />
<rect x="108" y="186" width="3" height="3" fill="#ff0000" />
<rect x="109" y="187" width="1" height="1" fill="#ff4500" />
<rect x="113" y="174" width="1" height="13" fill="#ff0000" />
<rect x="112" y="180" width="3" height="7" fill="#ff0000" />
<rect x="113" y="181" width="1" height="5" fill="#ff4500" />
<rect x="117" y="143" width="1" height="32" fill="#ff0000" />
<rect x="116" y="148" width="3" height="27" fill="#ff0000" />
<rect x="117" y="149" width="1" height="25" fill="#ff4500" />
<rect x="121" y="138" width="1" height="19" fill="#ff0000" />
<rect x="120" y="138" width="3" height="11" fill="#ff0000" />
<rect x="121" y="139" width="1" height="9" fill="#ff4500" />
<rect x="125" y="121" width="1" height="47" fill="#ff0000" />
<rect x="124" y="126" width="3" height="13" fill="#ff0000" />
<rect x="125" y="127" width="1" height="11" fill="#ff4500" />
<rect x="129" y="105" width="1" height="25" fill="#ff0000" />
<rect x="128" y="118" width="3" height="8" fill="#ff0000" />
<rect x="129" y="119" width="1" height="6" fill="#ff4500" />
<rect x="133" y="98" width="1" height="22" fill="#ff0000" />
<rect x="132" y="101" width="3" height="17" fill="#ff0000" />
<rect x="133" y="102" width="1" height="15" fill="#ff4500" />
<rect x="137" y="99" width="1" height="8" fill="#ff0000" />
<rect x="136" y="102" width="3" height="4" fill="#ff0000" />
<rect x="137" y="103" width="1" height="2" fill="#ff4500" />
<rect x="141" y="95" width="1" height="56" fill="#32cd32" />
<rect x="140" y="98" width="3" height="52" fill="#32cd32" />
<rect x="145" y="116" width="1" height="38" fill="#ff0000" />
<rect x="144" y="124" width="3" height="26" fill="#ff0000" />
<rect x="145" y="125" width="1" height="24" fill="#ff4500" />
<rect x="149" y="92" width="1" height="38" fill="#ff0000" />
<rect x="148" y="95" width="3" height="29" fill="#ff0000" />
<rect x="149" y="96" width="1" height="27" fill="#ff4500" />
<rect x="153" y="94" width="1" height="10" fill="#ff0000" />
<rect x="152" y="98" width="3" height="4" fill="#ff0000" />
<rect x="153" y="99" width="1" height="2" fill="#ff4500" />
<rect x="157" y="95" width="1" height="59" fill="#32cd32" />
<rect x="156" y="97" width="3" height="48" fill="#32cd32" />
<rect x="161" y="134" width="1" height="11" fill="#ff0000" />
<rect x="160" y="134" width="3" height="11" fill="#ff0000" />
<rect x="161" y="135" width="1" height="9" fill="#ff4500" />
<rect x="165" y="121" width="1" height="24" fill="#32cd32" />
<rect x="164" y="132" width="3" height="13" fill="#32cd32" />
<rect x="169" y="139" width="1" height="47" fill="#32cd32" />
<rect x="168" y="144" width="3" height="37" fill="#32cd32" />
<rect x="173" y="144" width="1" height="51" fill="#ff0000" />
<rect x="172" y="149" width="3" height="31" fill="#ff0000" />
<rect x="173" y="150" width="1" height="29" fill="#ff4500" />
<rect x="177" y="126" width="1" height="31" fill="#ff0000" />
<rect x="176" y="132" width="3" height="17" fill="#ff0000" />
<rect x="177" y="133" width="1" height="15" fill="#ff4500" />
<rect x="181" y="90" width="1" height="55" fill="#ff0000" />
<rect x="180" y="92" width="3" height="40" fill="#ff0000" />
<rect x="181" y="93" width="1" height="38" fill="#ff4500" />
<rect x="185" y="90" width="1" height="21" fill="#ff0000" />
<rect x="184" y="92" width="3" height="19" fill="#ff0000" />
<rect x="185" y="93" width="1" height="17" fill="#ff4500" />
<rect x="189" y="85" width="1" height="9" fill="#ff0000" />
<rect x="188" y="88" width="3" height="4" fill="#ff0000" />
<rect x="189" y="89" width="1" height="2" fill="#ff4500" />
<rect x="193" y="86" width="1" height="20" fill="#32cd32" />
<rect x="192" y="88" width="3" height="16" fill="#32cd32" />
<rect x="197" y="95" width="1" height="25" fill="#ff0000" />
<rect x="196" y="100" width="3" height="4" fill="#ff0000" />
<rect x="197" y="101" width="1" height="2" fill="#ff4500" />
<rect x="201" y="80" width="1" height="32" fill="#ff0000" />
<rect x="200" y="84" width="3" height="16" fill="#ff0000" />
<rect x="201" y="85" width="1" height="14" fill="#ff4500" />
<rect x="205" y="60" width="1" height="26" fill="#ff0000" />
<rect x="204" y="82" width="3" height="2" fill="#ff0000" />
<rect x="209" y="70" width="1" height="12" fill="#ff0000" />
<rect x="208" y="73" width="3" height="8" fill="#ff0000" />
<rect x="209" y="74" width="1" height="6" fill="#ff4500" />
<rect x="213" y="70" width="1" height="14" fill="#32cd32" />
<rect x="212" y="73" width="3" height="7" fill="#32cd32" />
<rect x="217" y="78" width="1" height="42" fill="#32cd32" />
<rect x="216" y="80" width="3" height="37" fill="#32cd32" />
<rect x="221" y="105" width="1" height="35" fill="#32cd32" />
<rect x="220" y="117" width="3" height="19" fill="#32cd32" />
<rect x="225" y="130" width="1" height="30" fill="#32cd32" />
<rect x="224" y="136" width="3" height="22" fill="#32cd32" />
<rect x="229" y="155" width="1" height="46" fill="#32cd32" />
<rect x="228" y="156" width="3" height="42" fill="#32cd32" />
<rect x="233" y="195" width="1" height="7" fill="#32cd32" />
<rect x="232" y="198" width="3" height="1" fill="#32cd32" />
<rect x="237" y="189" width="1" height="19" fill="#32cd32" />
<rect x="236" y="194" width="3" height="4" fill="#32cd32" />
<rect x="241" y="197" width="1" height="35" fill="#32cd32" />
<rect x="240" y="197" width="3" height="33" fill="#32cd32" />
<rect x="245" y="204" width="1" height="32" fill="#ff0000" />
<rect x="244" y="215" width="3" height="14" fill="#ff0000" />
<rect x="245" y="216" width="1" height="12" fill="#ff4500" />
<rect x="249" y="211" width="1" height="54" fill="#32cd32" />
<rect x="248" y="215" width="3" height="26" fill="#32cd32" />
<rect x="253" y="231" width="1" height="92" fill="#32cd32" />
<rect x="252" y="240" width="3" height="47" fill="#32cd32" />
<rect x="257" y="286" width="1" height="11" fill="#32cd32" />
<rect x="256" y="286" width="3" height="10" fill="#32cd32" />
<rect x="261" y="287" width="1" height="50" fill="#32cd32" />
<rect x="260" y="298" width="3" height="11" fill="#32cd32" />
<rect x="265" y="305" width="1" height="30" fill="#32cd32" />
<rect x="264" y="309" width="3" height="9" fill="#32cd32" />
<rect x="269" y="305" width="1" height="94" fill="#32cd32" />
<rect x="268" y="318" width="3" height="14" fill="#32cd32" />
<rect x="273" y="272" width="1" height="65" fill="#ff0000" />
<rect x="272" y="281" width="3" height="51" fill="#ff0000" />
<rect x="273" y="282" width="1" height="49" fill="#ff4500" />
<rect x="277" y="275" width="1" height="26" fill="#32cd32" />
<rect x="276" y="281" width="3" height="14" fill="#32cd32" />
<rect x="281" y="290" width="1" height="10" fill="#32cd32" />
<rect x="280" y="294" width="3" height="4" fill="#32cd32" />
<rect x="285" y="294" width="1" height="44" fill="#32cd32" />
<rect x="284" y="305" width="3" height="24" fill="#32cd32" />
<rect x="289" y="274" width="1" height="63" fill="#ff0000" />
<rect x="288" y="293" width="3" height="36" fill="#ff0000" />
<rect x="289" y="294" width="1" height="34" fill="#ff4500" />
<rect x="293" y="284" width="1" height="63" fill="#32cd32" />
<rect x="292" y="293" width="3" height="49" fill="#32cd32" />
<rect x="297" y="299" width="1" height="47" fill="#ff0000" />
<rect x="296" y="305" width="3" height="37" fill="#ff0000" />
<rect x="297" y="306" width="1" height="35" fill="#ff4500" />
<rect x="301" y="295" width="1" height="22" fill="#32cd32" />
<rect x="300" y="306" width="3" height="2" fill="#32cd32" />
<rect x="305" y="298" width="1" height="10" fill="#ff0000" />
<rect x="304" y="305" width="3" height="3" fill="#ff0000" />
<rect x="305" y="306" width="1" height="1" fill="#ff4500" />
<rect x="309" y="300" width="1" height="19" fill="#32cd32" />
<rect x="308" y="304" width="3" height="13" fill="#32cd32" />
<rect x="313" y="295" width="1" height="36" fill="#ff0000" />
<rect x="312" y="311" width="3" height="6" fill="#ff0000" />
<rect x="313" y="312" width="1" height="4" fill="#ff4500" />
<rect x="317" y="291" width="1" height="23" fill="#ff0000" />
<rect x="316" y="298" width="3" height="14" fill="#ff0000" />
<rect x="317" y="299" width="1" height="12" fill="#ff4500" />
<rect x="321" y="293" width="1" height="40" fill="#32cd32" />
<rect x="320" y="298" width="3" height="25" fill="#32cd32" />
<rect x="325" y="311" width="1" height="35" fill="#32cd32" />
<rect x="324" y="322" width="3" height="15" fill="#32cd32" />
<rect x="329" y="332" width="1" height="5" fill="#ff0000" />
<rect x="328" y="332" width="3" height="5" fill="#ff0000" />
<rect x="329" y="333" width="1" height="3" fill="#ff4500" />
<rect x="333" y="301" width="1" height="81" fill="#ff0000" />
<rect x="332" y="307" width="3" height="74" fill="#ff0000" />
<rect x="333" y="308" width="1" height="72" fill="#ff4500" />
<rect x="337" y="304" width="1" height="33" fill="#32cd32" />
<rect x="336" y="307" width="3" height="22" fill="#32cd32" />
<rect x="341" y="324" width="1" height="23" fill="#32cd32" />
<rect x="340" y="328" width="3" height="10" fill="#32cd32" />
<rect x="345" y="332" width="1" height="32" fill="#32cd32" />
<rect x="344" y="338" width="3" height="12" fill="#32cd32" />
<rect x="349" y="343" width="1" height="29" fill="#32cd32" />
<rect x="348" y="349" width="3" height="3" fill="#32cd32" />
<rect x="353" y="350" width="1" height="12" fill="#32cd32" />
<rect x="352" y="352" width="3" height="2" fill="#32cd32" />
<rect x="357" y="347" width="1" height="23" fill="#32cd32" />
<rect x="356" y="352" width="3" height="13" fill="#32cd32" />
<rect x="361" y="327" width="1" height="62" fill="#ff0000" />
<rect x="360" y="328" width="3" height="37" fill="#ff0000" />
<rect x="361" y="329" width="1" height="35" fill="#ff4500" />
<rect x="365" y="291" width="1" height="41" fill="#ff0000" />
<rect x="364" y="295" width="3" height="33" fill="#ff0000" />
<rect x="365" y="296" width="1" height="31" fill="#ff4500" />
<rect x="369" y="264" width="1" height="33" fill="#ff0000" />
<rect x="368" y="273" width="3" height="23" fill="#ff0000" />
<rect x="369" y="274" width="1" height="21" fill="#ff4500" />
<rect x="373" y="237" width="1" height="47" fill="#ff0000" />
<rect x="372" y="241" width="3" height="33" fill="#ff0000" />
<rect x="373" y="242" width="1" height="31" fill="#ff4500" />
<rect x="377" y="239" width="1" height="15" fill="#32cd32" />
<rect x="376" y="241" width="3" height="7" fill="#32cd32" />
<rect x="381" y="225" width="1" height="35" fill="#ff0000" />
<rect x="380" y="226" width="3" height="23" fill="#ff0000" />
<rect x="381" y="227" width="1" height="21" fill="#ff4500" />
<rect x="385" y="224" width="1" height="18" fill="#32cd32" />
<rect x="384" y="226" width="3" height="6" fill="#32cd32" />
<rect x="389" y="217" width="1" height="32" fill="#32cd32" />
<rect x="388" y="232" width="3" height="9" fill="#32cd32" />
<rect x="393" y="208" width="1" height="33" fill="#ff0000" />
<rect x="392" y="228" width="3" height="13" fill="#ff0000" />
<rect x="393" y="229" width="1" height="11" fill="#ff4500" />
<rect x="397" y="212" width="1" height="28" fill="#ff0000" />
<rect x="396" y="215" width="3" height="15" fill="#ff0000" />
<rect x="397" y="216" width="1" height="13" fill="#ff4500" />
<rect x="401" y="215" width="1" height="7" fill="#32cd32" />
<rect x="400" y="215" width="3" height="6" fill="#32cd32" />
<rect x="405" y="217" width="1" height="27" fill="#32cd32" />
<rect x="404" y="220" width="3" height="15" fill="#32cd32" />
<rect x="409" y="231" width="1" height="33" fill="#32cd32" />
<rect x="408" y="235" width="3" height="6" fill="#32cd32" />
<rect x="413" y="230" width="1" height="35" fill="#32cd32" />
<rect x="412" y="240" width="3" height="13" fill="#32cd32" />
<rect x="417" y="240" width="1" height="68" fill="#32cd32" />
<rect x="416" y="252" width="3" height="44" fill="#32cd32" />
<rect x="421" y="283" width="1" height="38" fill="#32cd32" />
<rect x="420" y="295" width="3" height="23" fill="#32cd32" />
<rect x="425" y="313" width="1" height="13" fill="#32cd32" />
<rect x="424" y="317" width="3" height="6" fill="#32cd32" />
<rect x="429" y="308" width="1" height="14" fill="#ff0000" />
<rect x="428" y="316" width="3" height="2" fill="#ff0000" />
<rect x="433" y="286" width="1" height="36" fill="#ff0000" />
<rect x="432" y="298" width="3" height="19" fill="#ff0000" />
<rect x="433" y="299" width="1" height="17" fill="#ff4500" />
<rect x="437" y="287" width="1" height="58" fill="#32cd32" />
<rect x="436" y="298" width="3" height="38" fill="#32cd32" />
<rect x="441" y="307" width="1" height="32" fill="#ff0000" />
<rect x="440" y="331" width="3" height="6" fill="#ff0000" />
<rect x="441" y="332" width="1" height="4" fill="#ff4500" />
<rect x="445" y="308" width="1" height="33" fill="#ff0000" />
<rect x="444" y="323" width="3" height="9" fill="#ff0000" />
<rect x="445" y="324" width="1" height="7" fill="#ff4500" />
<rect x="449" y="322" width="1" height="8" fill="#32cd32" />
<rect x="448" y="322" width="3" height="4" fill="#32cd32" />
<rect x="453" y="316" width="1" height="27" fill="#32cd32" />
<rect x="452" y="326" width="3" height="12" fill="#32cd32" />
<rect x="457" y="312" width="1" height="90" fill="#32cd32" />
<rect x="456" y="338" width="3" height="38" fill="#32cd32" />
<rect x="461" y="361" width="1" height="42" fill="#32cd32" />
<rect x="460" y="376" width="3" height="5" fill="#32cd32" />
<rect x="465" y="331" width="1" height="54" fill="#ff0000" />
<rect x="464" y="333" width="3" height="47" fill="#ff0000" />
<rect x="465" y="334" width="1" height="45" fill="#ff4500" />
<rect x="469" y="317" width="1" height="28" fill="#ff0000" />
<rect x="468" y="322" width="3" height="13" fill="#ff0000" />
<rect x="469" y="323" width="1" height="11" fill="#ff4500" />
<rect x="473" y="313" width="1" height="10" fill="#ff0000" />
<rect x="472" y="316" width="3" height="7" fill="#ff0000" />
<rect x="473" y="317" width="1" height="5" fill="#ff4500" />
<rect x="477" y="321" width="1" height="30" fill="#32cd32" />
<rect x="476" y="325" width="3" height="17" fill="#32cd32" />
<rect x="481" y="328" width="1" height="30" fill="#32cd32" />
<rect x="480" y="342" width="3" height="14" fill="#32cd32" />
<rect x="485" y="334" width="1" height="25" fill="#ff0000" />
<rect x="484" y="352" width="3" height="4" fill="#ff0000" />
<rect x="485" y="353" width="1" height="2" fill="#ff4500" />
<rect x="489" y="317" width="1" height="53" fill="#ff0000" />
<rect x="488" y="318" width="3" height="35" fill="#ff0000" />
<rect x="489" y="319" width="1" height="33" fill="#ff4500" />
<rect x="493" y="281" width="1" height="48" fill="#ff0000" />
<rect x="492" y="289" width="3" height="29" fill="#ff0000" />
<rect x="493" y="290" width="1" height="27" fill="#ff4500" />
<rect x="497" y="284" width="1" height="14" fill="#32cd32" />
<rect x="496" y="287" width="3" height="4" fill="#32cd32" />
<rect x="501" y="289" width="1" height="45" fill="#32cd32" />
<rect x="500" y="295" width="3" height="23" fill="#32cd32" />
<rect x="505" y="301" width="1" height="40" fill="#32cd32" />
<rect x="504" y="318" width="3" height="11" fill="#32cd32" />
<rect x="509" y="326" width="1" height="32" fill="#32cd32" />
<rect x="508" y="328" width="3" height="2" fill="#32cd32" />
<rect x="513" y="262" width="1" height="70" fill="#ff0000" />
<rect x="512" y="270" width="3" height="60" fill="#ff0000" />
<rect x="513" y="271" width="1" height="58" fill="#ff4500" />
<rect x="517" y="245" width="1" height="29" fill="#ff0000" />
<rect x="516" y="251" width="3" height="18" fill="#ff0000" />
<rect x="517" y="252" width="1" height="16" fill="#ff4500" />
<rect x="521" y="244" width="1" height="14" fill="#ff0000" />
<rect x="520" y="244" width="3" height="7" fill="#ff0000" />
<rect x="521" y="245" width="1" height="5" fill="#ff4500" />
<rect x="525" y="221" width="1" height="30" fill="#ff0000" />
<rect x="524" y="233" width="3" height="18" fill="#ff0000" />
<rect x="525" y="234" width="1" height="16" fill="#ff4500" />
<rect x="529" y="218" width="1" height="30" fill="#32cd32" />
<rect x="528" y="233" width="3" height="3" fill="#32cd32" />
<rect x="533" y="230" width="1" height="32" fill="#32cd32" />
<rect x="532" y="236" width="3" height="14" fill="#32cd32" />
<rect x="537" y="241" width="1" height="39" fill="#32cd32" />
<rect x="536" y="250" width="3" height="27" fill="#32cd32" />
<rect x="541" y="259" width="1" height="24" fill="#ff0000" />
<rect x="540" y="265" width="3" height="12" fill="#ff0000" />
<rect x="541" y="266" width="1" height="10" fill="#ff4500" />
<rect x="545" y="264" width="1" height="12" fill="#32cd32" />
<rect x="544" y="265" width="3" height="10" fill="#32cd32" />
<rect x="549" y="257" width="1" height="25" fill="#ff0000" />
<rect x="548" y="257" width="3" height="16" fill="#ff0000" />
<rect x="549" y="258" width="1" height="14" fill="#ff4500" />
<rect x="553" y="228" width="1" height="33" fill="#ff0000" />
<rect x="552" y="237" width="3" height="20" fill="#ff0000" />
<rect x="553" y="238" width="1" height="18" fill="#ff4500" />
<rect x="557" y="225" width="1" height="23" fill="#ff0000" />
<rect x="556" y="228" width="3" height="10" fill="#ff0000" />
<rect x="557" y="229" width="1" height="8" fill="#ff4500" />
<rect x="561" y="178" width="1" height="71" fill="#ff0000" />
<rect x="560" y="213" width="3" height="16" fill="#ff0000" />
<rect x="561" y="214" width="1" height="14" fill="#ff4500" />
<rect x="565" y="185" width="1" height="34" fill="#ff0000" />
<rect x="564" y="192" width="3" height="22" fill="#ff0000" />
<rect x="565" y="193" width="1" height="20" fill="#ff4500" />
<rect x="569" y="188" width="1" height="11" fill="#32cd32" />
<rect x="568" y="192" width="3" height="5" fill="#32cd32" />
<rect x="573" y="181" width="1" height="23" fill="#32cd32" />
<rect x="572" y="196" width="3" height="7" fill="#32cd32" />
<rect x="577" y="179" width="1" height="46" fill="#32cd32" />
<rect x="576" y="202" width="3" height="7" fill="#32cd32" />
<rect x="581" y="197" width="1" height="21" fill="#32cd32" />
<rect x="580" y="207" width="3" height="5" fill="#32cd32" />
<rect x="585" y="193" width="1" height="44" fill="#32cd32" />
<rect x="584" y="211" width="3" height="5" fill="#32cd32" />
<rect x="589" y="192" width="1" height="55" fill="#32cd32" />
<rect x="588" y="216" width="3" height="23" fill="#32cd32" />
<rect x="593" y="238" width="1" height="11" fill="#32cd32" />
<rect x="592" y="238" width="3" height="6" fill="#32cd32" />
<rect x="597" y="234" width="1" height="17" fill="#32cd32" />
<rect x="596" y="242" width="3" height="7" fill="#32cd32" />
<rect x="601" y="241" width="1" height="23" fill="#32cd32" />
<rect x="600" y="248" width="3" height="5" fill="#32cd32" />
<rect x="605" y="241" width="1" height="31" fill="#32cd32" />
<rect x="604" y="253" width="3" height="11" fill="#32cd32" />
<rect x="609" y="254" width="1" height="64" fill="#32cd32" />
<rect x="608" y="262" width="3" height="52" fill="#32cd32" />
<rect x="613" y="276" width="1" height="40" fill="#ff0000" />
<rect x="612" y="280" width="3" height="34" fill="#ff0000" />
<rect x="613" y="281" width="1" height="32" fill="#ff4500" />
<rect x="617" y="276" width="1" height="9" fill="#ff0000" />
<rect x="616" y="278" width="3" height="2" fill="#ff0000" />
<rect x="621" y="273" width="1" height="18" fill="#ff0000" />
<rect x="620" y="278" width="3" height="2" fill="#ff0000" />
<rect x="625" y="261" width="1" height="44" fill="#ff0000" />
<rect x="624" y="268" width="3" height="11" fill="#ff0000" />
<rect x="625" y="269" width="1" height="9" fill="#ff4500" />
<rect x="629" y="260" width="1" height="31" fill="#32cd32" />
<rect x="628" y="267" width="3" height="20" fill="#32cd32" />
<rect x="633" y="278" width="1" height="26" fill="#32cd32" />
<rect x="632" y="287" width="3" height="9" fill="#32cd32" />
<rect x="637" y="289" width="1" height="19" fill="#32cd32" />
<rect x="636" y="294" width="3" height="11" fill="#32cd32" />
<rect x="641" y="302" width="1" height="6" fill="#32cd32" />
<rect x="640" y="303" width="3" height="3" fill="#32cd32" />
<rect x="645" y="291" width="1" height="26" fill="#32cd32" />
<rect x="644" y="301" width="3" height="15" fill="#32cd32" />
<rect x="649" y="295" width="1" height="24" fill="#ff0000" />
<rect x="648" y="306" width="3" height="9" fill="#ff0000" />
<rect x="649" y="307" width="1" height="7" fill="#ff4500" />
<rect x="653" y="298" width="1" height="13" fill="#32cd32" />
<rect x="652" y="306" width="3" height="3" fill="#32cd32" />
<rect x="657" y="307" width="1" height="20" fill="#32cd32" />
<rect x="656" y="308" width="3" height="14" fill="#32cd32" />
<rect x="661" y="308" width="1" height="18" fill="#32cd32" />
<rect x="660" y="321" width="3" height="2" fill="#32cd32" />
<rect x="665" y="320" width="1" height="11" fill="#32cd32" />
<rect x="664" y="321" width="3" height="3" fill="#32cd32" />
<rect x="669" y="275" width="1" height="50" fill="#ff0000" />
<rect x="668" y="280" width="3" height="42" fill="#ff0000" />
<rect x="669" y="281" width="1" height="40" fill="#ff4500" />
<rect x="673" y="236" width="1" height="44" fill="#ff0000" />
<rect x="672" y="258" width="3" height="22" fill="#ff0000" />
<rect x="673" y="259" width="1" height="20" fill="#ff4500" />
<rect x="677" y="244" width="1" height="35" fill="#ff0000" />
<rect x="676" y="246" width="3" height="12" fill="#ff0000" />
<rect x="677" y="247" width="1" height="10" fill="#ff4500" />
<rect x="681" y="242" width="1" height="29" fill="#32cd32" />
<rect x="680" y="246" width="3" height="23" fill="#32cd32" />
<rect x="685" y="241" width="1" height="30" fill="#ff0000" />
<rect x="684" y="265" width="3" height="5" fill="#ff0000" />
<rect x="685" y="266" width="1" height="3" fill="#ff4500" />
<rect x="689" y="253" width="1" height="13" fill="#ff0000" />
<rect x="688" y="258" width="3" height="8" fill="#ff0000" />
<rect x="689" y="259" width="1" height="6" fill="#ff4500" />
<rect x="693" y="257" width="1" height="16" fill="#32cd32" />
<rect x="692" y="260" width="3" height="5" fill="#32cd32" />
<rect x="697" y="258" width="1" height="33" fill="#32cd32" />
<rect x="696" y="264" width="3" height="21" fill="#32cd32" />
<rect x="701" y="244" width="1" height="42" fill="#ff0000" />
<rect x="700" y="246" width="3" height="40" fill="#ff0000" />
<rect x="701" y="247" width="1" height="38" fill="#ff4500" />
<rect x="705" y="196" width="1" height="51" fill="#ff0000" />
<rect x="704" y="204" width="3" height="42" fill="#ff0000" />
<rect x="705" y="205" width="1" height="40" fill="#ff4500" />
<rect x="709" y="170" width="1" height="60" fill="#32cd32" />
<rect x="708" y="203" width="3" height="25" fill="#32cd32" />
<rect x="713" y="222" width="1" height="14" fill="#32cd32" />
<rect x="712" y="226" width="3" height="4" fill="#32cd32" />
<rect x="717" y="205" width="1" height="27" fill="#ff0000" />
<rect x="716" y="208" width="3" height="22" fill="#ff0000" />
<rect x="717" y="209" width="1" height="20" fill="#ff4500" />
<rect x="721" y="206" width="1" height="52" fill="#32cd32" />
<rect x="720" y="208" width="3" height="36" fill="#32cd32" />
<rect x="725" y="234" width="1" height="24" fill="#ff0000" />
<rect x="724" y="238" width="3" height="6" fill="#ff0000" />
<rect x="725" y="239" width="1" height="4" fill="#ff4500" />
<rect x="729" y="218" width="1" height="31" fill="#ff0000" />
<rect x="728" y="222" width="3" height="17" fill="#ff0000" />
<rect x="729" y="223" width="1" height="15" fill="#ff4500" />
<rect x="733" y="198" width="1" height="28" fill="#ff0000" />
<rect x="732" y="200" width="3" height="23" fill="#ff0000" />
<rect x="733" y="201" width="1" height="21" fill="#ff4500" />
<rect x="737" y="198" width="1" height="8" fill="#32cd32" />
<rect x="736" y="199" width="3" height="7" fill="#32cd32" />
<rect x="741" y="178" width="1" height="32" fill="#ff0000" />
<rect x="740" y="189" width="3" height="21" fill="#ff0000" />
<rect x="741" y="190" width="1" height="19" fill="#ff4500" />
<rect x="745" y="177" width="1" height="15" fill="#ff0000" />
<rect x="744" y="179" width="3" height="9" fill="#ff0000" />
<rect x="745" y="180" width="1" height="7" fill="#ff4500" />
<rect x="749" y="177" width="1" height="10" fill="#32cd32" />
<rect x="748" y="179" width="3" height="6" fill="#32cd32" />
<rect x="753" y="168" width="1" height="19" fill="#ff0000" />
<rect x="752" y="169" width="3" height="18" fill="#ff0000" />
<rect x="753" y="170" width="1" height="16" fill="#ff4500" />
<rect x="757" y="129" width="1" height="42" fill="#ff0000" />
<rect x="756" y="131" width="3" height="38" fill="#ff0000" />
<rect x="757" y="132" width="1" height="36" fill="#ff4500" />
<rect x="761" y="128" width="1" height="13" fill="#32cd32" />
<rect x="760" y="131" width="3" height="7" fill="#32cd32" />
<rect x="765" y="115" width="1" height="21" fill="#ff0000" />
<rect x="764" y="120" width="3" height="14" fill="#ff0000" />
<rect x="765" y="121" width="1" height="12" fill="#ff4500" />
<rect x="769" y="89" width="1" height="34" fill="#ff0000" />
<rect x="768" y="92" width="3" height="30" fill="#ff0000" />
<rect x="769" y="93" width="1" height="28" fill="#ff4500" />
<rect x="773" y="87" width="1" height="17" fill="#32cd32" />
<rect x="772" y="92" width="3" height="11" fill="#32cd32" />
<rect x="777" y="99" width="1" height="33" fill="#32cd32" />
<rect x="776" y="110" width="3" height="5" fill="#32cd32" />
<rect x="781" y="113" width="1" height="65" fill="#32cd32" />
<rect x="780" y="114" width="3" height="42" fill="#32cd32" />
<rect x="785" y="147" width="1" height="10" fill="#ff0000" />
<rect x="784" y="154" width="3" height="2" fill="#ff0000" />
<rect x="789" y="153" width="1" height="29" fill="#32cd32" />
<rect x="788" y="173" width="3" height="3" fill="#32cd32" />
<rect x="793" y="170" width="1" height="67" fill="#32cd32" />
<rect x="792" y="173" width="3" height="58" fill="#32cd32" />
<rect x="797" y="216" width="1" height="33" fill="#32cd32" />
<rect x="796" y="231" width="3" height="13" fill="#32cd32" />
<rect x="801" y="220" width="1" height="29" fill="#32cd32" />
<rect x="800" y="243" width="3" height="2" fill="#32cd32" />
<rect x="805" y="197" width="1" height="51" fill="#ff0000" />
<rect x="804" y="199" width="3" height="45" fill="#ff0000" />
<rect x="805" y="200" width="1" height="43" fill="#ff4500" />
<rect x="809" y="194" width="1" height="10" fill="#ff0000" />
<rect x="808" y="195" width="3" height="4" fill="#ff0000" />
<rect x="809" y="196" width="1" height="2" fill="#ff4500" />
<rect x="813" y="186" width="1" height="23" fill="#ff0000" />
<rect x="812" y="200" width="3" height="7" fill="#ff0000" />
<rect x="813" y="201" width="1" height="5" fill="#ff4500" />
<rect x="817" y="189" width="1" height="28" fill="#32cd32" />
<rect x="816" y="199" width="3" height="5" fill="#32cd32" />
<rect x="821" y="198" width="1" height="26" fill="#ff0000" />
<rect x="820" y="200" width="3" height="4" fill="#ff0000" />
<rect x="821" y="201" width="1" height="2" fill="#ff4500" />
<rect x="825" y="174" width="1" height="37" fill="#32cd32" />
<rect x="824" y="200" width="3" height="7" fill="#32cd32" />
<rect x="829" y="194" width="1" height="35" fill="#32cd32" />
<rect x="828" y="206" width="3" height="16" fill="#32cd32" />
<rect x="833" y="220" width="1" height="7" fill="#32cd32" />
<rect x="832" y="221" width="3" height="5" fill="#32cd32" />
<rect x="837" y="213" width="1" height="30" fill="#32cd32" />
<rect x="836" y="224" width="3" height="9" fill="#32cd32" />
<rect x="841" y="220" width="1" height="33" fill="#32cd32" />
<rect x="840" y="232" width="3" height="8" fill="#32cd32" />
<rect x="845" y="237" width="1" height="31" fill="#32cd32" />
<rect x="844" y="239" width="3" height="19" fill="#32cd32" />
<rect x="849" y="222" width="1" height="41" fill="#ff0000" />
<rect x="848" y="250" width="3" height="8" fill="#ff0000" />
<rect x="849" y="251" width="1" height="6" fill="#ff4500" />
<rect x="853" y="241" width="1" height="33" fill="#32cd32" />
<rect x="852" y="250" width="3" height="18" fill="#32cd32" />
<rect x="857" y="264" width="1" height="12" fill="#32cd32" />
<rect x="856" y="268" width="3" height="3" fill="#32cd32" />
<rect x="861" y="276" width="1" height="54" fill="#32cd32" />
<rect x="860" y="277" width="3" height="50" fill="#32cd32" />
<rect x="865" y="321" width="1" height="25" fill="#32cd32" />
<rect x="864" y="326" width="3" height="8" fill="#32cd32" />
<rect x="869" y="311" width="1" height="36" fill="#32cd32" />
<rect x="868" y="332" width="3" height="11" fill="#32cd32" />
<rect x="873" y="323" width="1" height="56" fill="#32cd32" />
<rect x="872" y="343" width="3" height="32" fill="#32cd32" />
<rect x="877" y="352" width="1" height="42" fill="#32cd32" />
<rect x="876" y="373" width="3" height="11" fill="#32cd32" />
<rect x="881" y="375" width="1" height="14" fill="#ff0000" />
<rect x="880" y="382" width="3" height="2" fill="#ff0000" />
<rect x="885" y="372" width="1" height="21" fill="#ff0000" />
<rect x="884" y="383" width="3" height="8" fill="#ff0000" />
<rect x="885" y="384" width="1" height="6" fill="#ff4500" />
<rect x="889" y="348" width="1" height="49" fill="#ff0000" />
<rect x="888" y="355" width="3" height="29" fill="#ff0000" />
<rect x="889" y="356" width="1" height="27" fill="#ff4500" />
<rect x="893" y="313" width="1" height="44" fill="#ff0000" />
<rect x="892" y="339" width="3" height="16" fill="#ff0000" />
<rect x="893" y="340" width="1" height="14" fill="#ff4500" />
<rect x="897" y="321" width="1" height="31" fill="#32cd32" />
<rect x="896" y="339" width="3" height="6" fill="#32cd32" />
<rect x="901" y="339" width="1" height="73" fill="#32cd32" />
<rect x="900" y="345" width="3" height="46" fill="#32cd32" />
<rect x="905" y="386" width="1" height="16" fill="#32cd32" />
<rect x="904" y="389" width="3" height="9" fill="#32cd32" />
<rect x="909" y="371" width="1" height="37" fill="#ff0000" />
<rect x="908" y="396" width="3" height="6" fill="#ff0000" />
<rect x="909" y="397" width="1" height="4" fill="#ff4500" />
<rect x="913" y="346" width="1" height="57" fill="#ff0000" />
<rect x="912" y="359" width="3" height="38" fill="#ff0000" />
<rect x="913" y="360" width="1" height="36" fill="#ff4500" />
<rect x="917" y="335" width="1" height="37" fill="#ff0000" />
<rect x="916" y="339" width="3" height="20" fill="#ff0000" />
<rect x="917" y="340" width="1" height="18" fill="#ff4500" />
<rect x="921" y="334" width="1" height="39" fill="#32cd32" />
<rect x="920" y="339" width="3" height="12" fill="#32cd32" />
<rect x="925" y="347" width="1" height="23" fill="#32cd32" />
<rect x="924" y="350" width="3" height="5" fill="#32cd32" />
</g>
<defs>
<linearGradient id="gTop" x1="0" y1="0" x2="0" y2="1"><stop offset="0" stop-color="#5c5cf0"/><stop offset="1" stop-color="#3030e2"/></linearGradient>
<linearGradient id="gBot" gradientUnits="userSpaceOnUse" x1="0" y1="68" x2="0" y2="108"><stop offset="0" stop-color="#3a3ae4"/><stop offset="0.45" stop-color="#1414cc"/><stop offset="1" stop-color="#0000a0"/></linearGradient>
<linearGradient id="gBtn" x1="0" y1="0" x2="0" y2="1"><stop offset="0" stop-color="#f6f6f6"/><stop offset="0.5" stop-color="#e6e6e6"/><stop offset="0.5" stop-color="#dadada"/><stop offset="1" stop-color="#cacaca"/></linearGradient>
</defs>
<g class="c">
<rect x="6" y="42" width="223" height="68" fill="#fff" />
<rect x="8" y="44" width="52" height="24" fill="url(#gTop)" />
<rect x="175" y="44" width="52" height="24" fill="url(#gTop)" />
<rect x="8" y="68" width="109" height="40" fill="url(#gBot)" />
<rect x="119" y="68" width="108" height="40" fill="url(#gBot)" />
<rect x="12" y="66" width="44" height="1" fill="#2222b8" />
<rect x="179" y="66" width="44" height="1" fill="#2222b8" />
<rect x="12" y="67" width="44" height="1" fill="#8c8cf4" />
<rect x="179" y="67" width="44" height="1" fill="#8c8cf4" />
<rect x="8" y="44" width="52" height="1" fill="#2424c4" />
<rect x="8" y="44" width="1" height="64" fill="#1a1ab8" />
<rect x="175" y="44" width="52" height="1" fill="#2424c4" />
<rect x="226" y="44" width="1" height="64" fill="#1a1ab8" />
<rect x="59" y="44" width="1" height="24" fill="#2424c4" />
<rect x="175" y="44" width="1" height="24" fill="#2424c4" />
<rect x="62" y="44" width="111" height="22" fill="#b4b4b4" />
<rect x="63" y="45" width="109" height="20" fill="#fff" />
<rect x="63" y="45" width="20" height="20" fill="url(#gBtn)" />
<rect x="83" y="45" width="1" height="20" fill="#b4b4b4" />
<rect x="152" y="45" width="20" height="20" fill="url(#gBtn)" />
<rect x="151" y="45" width="1" height="20" fill="#b4b4b4" />
</g>
<path d="M70 53.3 L75 53.3 L72.5 56.2 Z" fill="#5468c8"/>
<path d="M158.8 56 L164.2 56 L161.5 53 Z" fill="#5468c8"/>
<text x="124.5" y="58.5" font-size="12.2" fill="#000" textLength="23" lengthAdjust="spacingAndGlyphs" >5.00</text>
<text x="20.4" y="59.8" font-size="12" fill="#fff" textLength="25.2" lengthAdjust="spacingAndGlyphs" >SELL</text>
<text x="188.5" y="59.8" font-size="12" fill="#fff" textLength="23.8" lengthAdjust="spacingAndGlyphs" >BUY</text>
<text x="28.4" y="99" font-size="11.7" fill="#fff" textLength="23.6" lengthAdjust="spacingAndGlyphs" font-weight="bold" >0.67</text>
<text x="138.4" y="99" font-size="11.7" fill="#fff" textLength="23.6" lengthAdjust="spacingAndGlyphs" font-weight="bold" >0.67</text>
<text x="55.5" y="99" font-size="35.5" fill="#fff" textLength="34.3" lengthAdjust="spacingAndGlyphs" stroke="url(#gBot)" stroke-width="0.55">25</text>
<text x="166.5" y="99" font-size="35.5" fill="#fff" textLength="34.3" lengthAdjust="spacingAndGlyphs" stroke="url(#gBot)" stroke-width="0.55">27</text>
<text x="95.8" y="83.3" font-size="11.7" fill="#fff" font-weight="bold" >9</text>
<text x="206.8" y="83.3" font-size="11.7" fill="#fff" font-weight="bold" >7</text>
<path d="M8 35 L11.5 31 L15 35 Z" fill="#000"/>
<text x="20.5" y="36" font-size="10" fill="#000" textLength="66" lengthAdjust="spacingAndGlyphs" text-rendering="geometricPrecision" stroke="#000" stroke-width="0.2" >AUDUSD,Daily</text>
<text x="92.5" y="36" font-size="10" fill="#000" textLength="141" lengthAdjust="spacingAndGlyphs" text-rendering="geometricPrecision" stroke="#000" stroke-width="0.2" >0.67314 0.67348 0.67089 0.67259</text>
<g class="c">
<rect x="4" y="24" width="1164" height="1" fill="#000" />
<rect x="4" y="421" width="1164" height="1" fill="#000" />
<rect x="4" y="24" width="1" height="398" fill="#000" />
<rect x="1167" y="24" width="1" height="398" fill="#000" />
<rect x="4" y="423" width="1164" height="1" fill="#000" />
<rect x="4" y="491" width="1164" height="1" fill="#000" />
<rect x="4" y="423" width="1" height="69" fill="#000" />
<rect x="1167" y="423" width="1" height="69" fill="#000" />
<rect x="4" y="493" width="1164" height="1" fill="#000" />
<rect x="4" y="577" width="1164" height="1" fill="#000" />
<rect x="4" y="493" width="1" height="85" fill="#000" />
<rect x="1167" y="493" width="1" height="85" fill="#000" />
<rect x="1168" y="88" width="1" height="2" fill="#ff0000" />
<rect x="4" y="169" width="1" height="6" fill="#ff0000" />
<rect x="1168" y="171" width="1" height="2" fill="#ff0000" />
<rect x="4" y="251" width="1" height="6" fill="#00ff00" />
<rect x="1168" y="253" width="1" height="2" fill="#00ff00" />
<rect x="4" y="326" width="1" height="6" fill="#0000ff" />
<rect x="1168" y="328" width="1" height="2" fill="#0000ff" />
<rect x="4" y="400" width="1" height="6" fill="#0000ff" />
<rect x="1168" y="402" width="1" height="2" fill="#0000ff" />
</g>
<g class="c">
<rect x="1168" y="55" width="2" height="1" fill="#000" />
<rect x="1168" y="121" width="2" height="1" fill="#000" />
<rect x="1168" y="154" width="2" height="1" fill="#000" />
<rect x="1168" y="187" width="2" height="1" fill="#000" />
<rect x="1168" y="220" width="2" height="1" fill="#000" />
<rect x="1168" y="286" width="2" height="1" fill="#000" />
<rect x="1168" y="319" width="2" height="1" fill="#000" />
<rect x="1168" y="385" width="2" height="1" fill="#000" />
<rect x="1168" y="418" width="2" height="1" fill="#000" />
</g>
<text x="1173" y="59" font-size="10" fill="#000" textLength="33" lengthAdjust="spacingAndGlyphs" text-rendering="geometricPrecision" stroke="#000" stroke-width="0.2" >0.70690</text>
<text x="1173" y="125" font-size="10" fill="#000" textLength="33" lengthAdjust="spacingAndGlyphs" text-rendering="geometricPrecision" stroke="#000" stroke-width="0.2" >0.69930</text>
<text x="1173" y="158" font-size="10" fill="#000" textLength="33" lengthAdjust="spacingAndGlyphs" text-rendering="geometricPrecision" stroke="#000" stroke-width="0.2" >0.69560</text>
<text x="1173" y="191" font-size="10" fill="#000" textLength="33" lengthAdjust="spacingAndGlyphs" text-rendering="geometricPrecision" stroke="#000" stroke-width="0.2" >0.69180</text>
<text x="1173" y="224" font-size="10" fill="#000" textLength="33" lengthAdjust="spacingAndGlyphs" text-rendering="geometricPrecision" stroke="#000" stroke-width="0.2" >0.68800</text>
<text x="1173" y="290" font-size="10" fill="#000" textLength="33" lengthAdjust="spacingAndGlyphs" text-rendering="geometricPrecision" stroke="#000" stroke-width="0.2" >0.68040</text>
<text x="1173" y="323" font-size="10" fill="#000" textLength="33" lengthAdjust="spacingAndGlyphs" text-rendering="geometricPrecision" stroke="#000" stroke-width="0.2" >0.67660</text>
<text x="1173" y="389" font-size="10" fill="#000" textLength="33" lengthAdjust="spacingAndGlyphs" text-rendering="geometricPrecision" stroke="#000" stroke-width="0.2" >0.66910</text>
<text x="1173" y="422" font-size="10" fill="#000" textLength="33" lengthAdjust="spacingAndGlyphs" text-rendering="geometricPrecision" stroke="#000" stroke-width="0.2" >0.66530</text>
<g class="c">
<rect x="1169" y="83" width="41" height="11" fill="#ff0000" />
</g>
<text x="1173" y="92" font-size="10" fill="#fff" textLength="33" lengthAdjust="spacingAndGlyphs" text-rendering="geometricPrecision" stroke="#fff" stroke-width="0.2" >0.70304</text>
<g class="c">
<rect x="1169" y="166" width="41" height="11" fill="#ff0000" />
</g>
<text x="1173" y="175" font-size="10" fill="#fff" textLength="33" lengthAdjust="spacingAndGlyphs" text-rendering="geometricPrecision" stroke="#fff" stroke-width="0.2" >0.69353</text>
<g class="c">
<rect x="1169" y="248" width="41" height="11" fill="#00ff00" />
</g>
<text x="1173" y="257" font-size="10" fill="#fff" textLength="33" lengthAdjust="spacingAndGlyphs" text-rendering="geometricPrecision" stroke="#fff" stroke-width="0.2" >0.68413</text>
<g class="c">
<rect x="1169" y="323" width="41" height="11" fill="#0000ff" />
</g>
<text x="1173" y="332" font-size="10" fill="#fff" textLength="33" lengthAdjust="spacingAndGlyphs" text-rendering="geometricPrecision" stroke="#fff" stroke-width="0.2" >0.67552</text>
<g class="c">
<rect x="1169" y="397" width="41" height="11" fill="#0000ff" />
</g>
<text x="1173" y="406" font-size="10" fill="#fff" textLength="33" lengthAdjust="spacingAndGlyphs" text-rendering="geometricPrecision" stroke="#fff" stroke-width="0.2" >0.66702</text>
<g class="c">
<rect x="1169" y="349" width="41" height="11" fill="#000" />
</g>
<text x="1173" y="358" font-size="10" fill="#fff" textLength="33" lengthAdjust="spacingAndGlyphs" text-rendering="geometricPrecision" stroke="#fff" stroke-width="0.2" >0.67259</text>
<g class="c">
<rect x="4" y="454" width="3" height="31" fill="#c0c0c0" />
<rect x="8" y="454" width="3" height="30" fill="#c0c0c0" />
<rect x="12" y="454" width="3" height="28" fill="#c0c0c0" />
<rect x="16" y="454" width="3" height="25" fill="#c0c0c0" />
<rect x="20" y="454" width="3" height="24" fill="#c0c0c0" />
<rect x="24" y="454" width="3" height="22" fill="#c0c0c0" />
<rect x="28" y="454" width="3" height="21" fill="#c0c0c0" />
<rect x="32" y="454" width="3" height="20" fill="#c0c0c0" />
<rect x="36" y="454" width="3" height="18" fill="#c0c0c0" />
<rect x="40" y="454" width="3" height="16" fill="#c0c0c0" />
<rect x="44" y="454" width="3" height="13" fill="#c0c0c0" />
<rect x="48" y="454" width="3" height="9" fill="#c0c0c0" />
<rect x="52" y="454" width="3" height="7" fill="#c0c0c0" />
<rect x="56" y="454" width="3" height="4" fill="#c0c0c0" />
<rect x="60" y="454" width="3" height="1" fill="#c0c0c0" />
<rect x="64" y="453" width="3" height="1" fill="#c0c0c0" />
<rect x="68" y="453" width="3" height="1" fill="#c0c0c0" />
<rect x="72" y="453" width="3" height="1" fill="#c0c0c0" />
<rect x="76" y="454" width="3" height="1" fill="#c0c0c0" />
<rect x="80" y="454" width="3" height="3" fill="#c0c0c0" />
<rect x="84" y="454" width="3" height="7" fill="#c0c0c0" />
<rect x="88" y="454" width="3" height="10" fill="#c0c0c0" />
<rect x="92" y="454" width="3" height="12" fill="#c0c0c0" />
<rect x="96" y="454" width="3" height="14" fill="#c0c0c0" />
<rect x="100" y="454" width="3" height="15" fill="#c0c0c0" />
<rect x="104" y="454" width="3" height="13" fill="#c0c0c0" />
<rect x="108" y="454" width="3" height="11" fill="#c0c0c0" />
<rect x="112" y="454" width="3" height="10" fill="#c0c0c0" />
<rect x="116" y="454" width="3" height="6" fill="#c0c0c0" />
<rect x="120" y="454" width="3" height="3" fill="#c0c0c0" />
<rect x="124" y="454" width="3" height="1" fill="#c0c0c0" />
<rect x="128" y="451" width="3" height="3" fill="#c0c0c0" />
<rect x="132" y="448" width="3" height="6" fill="#c0c0c0" />
<rect x="136" y="446" width="3" height="8" fill="#c0c0c0" />
<rect x="140" y="446" width="3" height="8" fill="#c0c0c0" />
<rect x="144" y="446" width="3" height="8" fill="#c0c0c0" />
<rect x="148" y="444" width="3" height="10" fill="#c0c0c0" />
<rect x="152" y="443" width="3" height="11" fill="#c0c0c0" />
<rect x="156" y="444" width="3" height="10" fill="#c0c0c0" />
<rect x="160" y="445" width="3" height="9" fill="#c0c0c0" />
<rect x="164" y="446" width="3" height="8" fill="#c0c0c0" />
<rect x="168" y="449" width="3" height="5" fill="#c0c0c0" />
<rect x="172" y="450" width="3" height="4" fill="#c0c0c0" />
<rect x="176" y="450" width="3" height="4" fill="#c0c0c0" />
<rect x="180" y="448" width="3" height="6" fill="#c0c0c0" />
<rect x="184" y="446" width="3" height="8" fill="#c0c0c0" />
<rect x="188" y="444" width="3" height="10" fill="#c0c0c0" />
<rect x="192" y="444" width="3" height="10" fill="#c0c0c0" />
<rect x="196" y="444" width="3" height="10" fill="#c0c0c0" />
<rect x="200" y="443" width="3" height="11" fill="#c0c0c0" />
<rect x="204" y="442" width="3" height="12" fill="#c0c0c0" />
<rect x="208" y="441" width="3" height="13" fill="#c0c0c0" />
<rect x="212" y="441" width="3" height="13" fill="#c0c0c0" />
<rect x="216" y="443" width="3" height="11" fill="#c0c0c0" />
<rect x="220" y="446" width="3" height="8" fill="#c0c0c0" />
<rect x="224" y="449" width="3" height="5" fill="#c0c0c0" />
<rect x="228" y="454" width="3" height="1" fill="#c0c0c0" />
<rect x="232" y="454" width="3" height="4" fill="#c0c0c0" />
<rect x="236" y="454" width="3" height="7" fill="#c0c0c0" />
<rect x="240" y="454" width="3" height="11" fill="#c0c0c0" />
<rect x="244" y="454" width="3" height="13" fill="#c0c0c0" />
<rect x="248" y="454" width="3" height="16" fill="#c0c0c0" />
<rect x="252" y="454" width="3" height="21" fill="#c0c0c0" />
<rect x="256" y="454" width="3" height="25" fill="#c0c0c0" />
<rect x="260" y="454" width="3" height="28" fill="#c0c0c0" />
<rect x="264" y="454" width="3" height="31" fill="#c0c0c0" />
<rect x="268" y="454" width="3" height="34" fill="#c0c0c0" />
<rect x="272" y="454" width="3" height="33" fill="#c0c0c0" />
<rect x="276" y="454" width="3" height="32" fill="#c0c0c0" />
<rect x="280" y="454" width="3" height="32" fill="#c0c0c0" />
<rect x="284" y="454" width="3" height="33" fill="#c0c0c0" />
<rect x="288" y="454" width="3" height="31" fill="#c0c0c0" />
<rect x="292" y="454" width="3" height="32" fill="#c0c0c0" />
<rect x="296" y="454" width="3" height="30" fill="#c0c0c0" />
<rect x="300" y="454" width="3" height="29" fill="#c0c0c0" />
<rect x="304" y="454" width="3" height="27" fill="#c0c0c0" />
<rect x="308" y="454" width="3" height="26" fill="#c0c0c0" />
<rect x="312" y="454" width="3" height="25" fill="#c0c0c0" />
<rect x="316" y="454" width="3" height="23" fill="#c0c0c0" />
<rect x="320" y="454" width="3" height="23" fill="#c0c0c0" />
<rect x="324" y="454" width="3" height="23" fill="#c0c0c0" />
<rect x="328" y="454" width="3" height="22" fill="#c0c0c0" />
<rect x="332" y="454" width="3" height="20" fill="#c0c0c0" />
<rect x="336" y="454" width="3" height="20" fill="#c0c0c0" />
<rect x="340" y="454" width="3" height="20" fill="#c0c0c0" />
<rect x="344" y="454" width="3" height="20" fill="#c0c0c0" />
<rect x="348" y="454" width="3" height="20" fill="#c0c0c0" />
<rect x="352" y="454" width="3" height="20" fill="#c0c0c0" />
<rect x="356" y="454" width="3" height="20" fill="#c0c0c0" />
<rect x="360" y="454" width="3" height="18" fill="#c0c0c0" />
<rect x="364" y="454" width="3" height="15" fill="#c0c0c0" />
<rect x="368" y="454" width="3" height="11" fill="#c0c0c0" />
<rect x="372" y="454" width="3" height="5" fill="#c0c0c0" />
<rect x="376" y="454" width="3" height="2" fill="#c0c0c0" />
<rect x="380" y="452" width="3" height="2" fill="#c0c0c0" />
<rect x="384" y="449" width="3" height="5" fill="#c0c0c0" />
<rect x="388" y="447" width="3" height="7" fill="#c0c0c0" />
<rect x="392" y="445" width="3" height="9" fill="#c0c0c0" />
<rect x="396" y="443" width="3" height="11" fill="#c0c0c0" />
<rect x="400" y="442" width="3" height="12" fill="#c0c0c0" />
<rect x="404" y="442" width="3" height="12" fill="#c0c0c0" />
<rect x="408" y="442" width="3" height="12" fill="#c0c0c0" />
<rect x="412" y="443" width="3" height="11" fill="#c0c0c0" />
<rect x="416" y="447" width="3" height="7" fill="#c0c0c0" />
<rect x="420" y="450" width="3" height="4" fill="#c0c0c0" />
<rect x="424" y="453" width="3" height="1" fill="#c0c0c0" />
<rect x="428" y="454" width="3" height="2" fill="#c0c0c0" />
<rect x="432" y="454" width="3" height="3" fill="#c0c0c0" />
<rect x="436" y="454" width="3" height="6" fill="#c0c0c0" />
<rect x="440" y="454" width="3" height="7" fill="#c0c0c0" />
<rect x="444" y="454" width="3" height="8" fill="#c0c0c0" />
<rect x="448" y="454" width="3" height="9" fill="#c0c0c0" />
<rect x="452" y="454" width="3" height="10" fill="#c0c0c0" />
<rect x="456" y="454" width="3" height="13" fill="#c0c0c0" />
<rect x="460" y="454" width="3" height="15" fill="#c0c0c0" />
<rect x="464" y="454" width="3" height="14" fill="#c0c0c0" />
<rect x="468" y="454" width="3" height="13" fill="#c0c0c0" />
<rect x="472" y="454" width="3" height="11" fill="#c0c0c0" />
<rect x="476" y="454" width="3" height="11" fill="#c0c0c0" />
<rect x="480" y="454" width="3" height="12" fill="#c0c0c0" />
<rect x="484" y="454" width="3" height="12" fill="#c0c0c0" />
<rect x="488" y="454" width="3" height="10" fill="#c0c0c0" />
<rect x="492" y="454" width="3" height="7" fill="#c0c0c0" />
<rect x="496" y="454" width="3" height="4" fill="#c0c0c0" />
<rect x="500" y="454" width="3" height="4" fill="#c0c0c0" />
<rect x="504" y="454" width="3" height="4" fill="#c0c0c0" />
<rect x="508" y="454" width="3" height="4" fill="#c0c0c0" />
<rect x="512" y="454" width="3" height="1" fill="#c0c0c0" />
<rect x="516" y="451" width="3" height="3" fill="#c0c0c0" />
<rect x="520" y="448" width="3" height="6" fill="#c0c0c0" />
<rect x="524" y="445" width="3" height="9" fill="#c0c0c0" />
<rect x="528" y="443" width="3" height="11" fill="#c0c0c0" />
<rect x="532" y="442" width="3" height="12" fill="#c0c0c0" />
<rect x="536" y="443" width="3" height="11" fill="#c0c0c0" />
<rect x="540" y="444" width="3" height="10" fill="#c0c0c0" />
<rect x="544" y="445" width="3" height="9" fill="#c0c0c0" />
<rect x="548" y="444" width="3" height="10" fill="#c0c0c0" />
<rect x="552" y="443" width="3" height="11" fill="#c0c0c0" />
<rect x="556" y="442" width="3" height="12" fill="#c0c0c0" />
<rect x="560" y="440" width="3" height="14" fill="#c0c0c0" />
<rect x="564" y="438" width="3" height="16" fill="#c0c0c0" />
<rect x="568" y="437" width="3" height="17" fill="#c0c0c0" />
<rect x="572" y="436" width="3" height="18" fill="#c0c0c0" />
<rect x="576" y="436" width="3" height="18" fill="#c0c0c0" />
<rect x="580" y="437" width="3" height="17" fill="#c0c0c0" />
<rect x="584" y="437" width="3" height="17" fill="#c0c0c0" />
<rect x="588" y="439" width="3" height="15" fill="#c0c0c0" />
<rect x="592" y="442" width="3" height="12" fill="#c0c0c0" />
<rect x="596" y="444" width="3" height="10" fill="#c0c0c0" />
<rect x="600" y="445" width="3" height="9" fill="#c0c0c0" />
<rect x="604" y="448" width="3" height="6" fill="#c0c0c0" />
<rect x="608" y="452" width="3" height="2" fill="#c0c0c0" />
<rect x="612" y="453" width="3" height="1" fill="#c0c0c0" />
<rect x="616" y="454" width="3" height="1" fill="#c0c0c0" />
<rect x="620" y="454" width="3" height="2" fill="#c0c0c0" />
<rect x="624" y="454" width="3" height="2" fill="#c0c0c0" />
<rect x="628" y="454" width="3" height="3" fill="#c0c0c0" />
<rect x="632" y="454" width="3" height="5" fill="#c0c0c0" />
<rect x="636" y="454" width="3" height="6" fill="#c0c0c0" />
<rect x="640" y="454" width="3" height="7" fill="#c0c0c0" />
<rect x="644" y="454" width="3" height="9" fill="#c0c0c0" />
<rect x="648" y="454" width="3" height="9" fill="#c0c0c0" />
<rect x="652" y="454" width="3" height="10" fill="#c0c0c0" />
<rect x="656" y="454" width="3" height="10" fill="#c0c0c0" />
<rect x="660" y="454" width="3" height="11" fill="#c0c0c0" />
<rect x="664" y="454" width="3" height="12" fill="#c0c0c0" />
<rect x="668" y="454" width="3" height="9" fill="#c0c0c0" />
<rect x="672" y="454" width="3" height="6" fill="#c0c0c0" />
<rect x="676" y="454" width="3" height="3" fill="#c0c0c0" />
<rect x="680" y="454" width="3" height="2" fill="#c0c0c0" />
<rect x="684" y="454" width="3" height="1" fill="#c0c0c0" />
<rect x="688" y="453" width="3" height="1" fill="#c0c0c0" />
<rect x="692" y="453" width="3" height="1" fill="#c0c0c0" />
<rect x="696" y="453" width="3" height="1" fill="#c0c0c0" />
<rect x="700" y="452" width="3" height="2" fill="#c0c0c0" />
<rect x="704" y="448" width="3" height="6" fill="#c0c0c0" />
<rect x="708" y="447" width="3" height="7" fill="#c0c0c0" />
<rect x="712" y="446" width="3" height="8" fill="#c0c0c0" />
<rect x="716" y="444" width="3" height="10" fill="#c0c0c0" />
<rect x="720" y="445" width="3" height="9" fill="#c0c0c0" />
<rect x="724" y="445" width="3" height="9" fill="#c0c0c0" />
<rect x="728" y="444" width="3" height="10" fill="#c0c0c0" />
<rect x="732" y="443" width="3" height="11" fill="#c0c0c0" />
<rect x="736" y="442" width="3" height="12" fill="#c0c0c0" />
<rect x="740" y="441" width="3" height="13" fill="#c0c0c0" />
<rect x="744" y="439" width="3" height="15" fill="#c0c0c0" />
<rect x="748" y="439" width="3" height="15" fill="#c0c0c0" />
<rect x="752" y="438" width="3" height="16" fill="#c0c0c0" />
<rect x="756" y="435" width="3" height="19" fill="#c0c0c0" />
<rect x="760" y="433" width="3" height="21" fill="#c0c0c0" />
<rect x="764" y="431" width="3" height="23" fill="#c0c0c0" />
<rect x="768" y="428" width="3" height="26" fill="#c0c0c0" />
<rect x="772" y="427" width="3" height="27" fill="#c0c0c0" />
<rect x="776" y="427" width="3" height="27" fill="#c0c0c0" />
<rect x="780" y="429" width="3" height="25" fill="#c0c0c0" />
<rect x="784" y="431" width="3" height="23" fill="#c0c0c0" />
<rect x="788" y="435" width="3" height="19" fill="#c0c0c0" />
<rect x="792" y="440" width="3" height="14" fill="#c0c0c0" />
<rect x="796" y="445" width="3" height="9" fill="#c0c0c0" />
<rect x="800" y="450" width="3" height="4" fill="#c0c0c0" />
<rect x="804" y="451" width="3" height="3" fill="#c0c0c0" />
<rect x="808" y="451" width="3" height="3" fill="#c0c0c0" />
<rect x="812" y="452" width="3" height="2" fill="#c0c0c0" />
<rect x="816" y="453" width="3" height="1" fill="#c0c0c0" />
<rect x="820" y="453" width="3" height="1" fill="#c0c0c0" />
<rect x="824" y="453" width="3" height="1" fill="#c0c0c0" />
<rect x="828" y="454" width="3" height="1" fill="#c0c0c0" />
<rect x="832" y="454" width="3" height="3" fill="#c0c0c0" />
<rect x="836" y="454" width="3" height="4" fill="#c0c0c0" />
<rect x="840" y="454" width="3" height="5" fill="#c0c0c0" />
<rect x="844" y="454" width="3" height="7" fill="#c0c0c0" />
<rect x="848" y="454" width="3" height="8" fill="#c0c0c0" />
<rect x="852" y="454" width="3" height="10" fill="#c0c0c0" />
<rect x="856" y="454" width="3" height="12" fill="#c0c0c0" />
<rect x="860" y="454" width="3" height="16" fill="#c0c0c0" />
<rect x="864" y="454" width="3" height="19" fill="#c0c0c0" />
<rect x="868" y="454" width="3" height="22" fill="#c0c0c0" />
<rect x="872" y="454" width="3" height="26" fill="#c0c0c0" />
<rect x="876" y="454" width="3" height="29" fill="#c0c0c0" />
<rect x="880" y="454" width="3" height="31" fill="#c0c0c0" />
<rect x="884" y="454" width="3" height="32" fill="#c0c0c0" />
<rect x="888" y="454" width="3" height="31" fill="#c0c0c0" />
<rect x="892" y="454" width="3" height="29" fill="#c0c0c0" />
<rect x="896" y="454" width="3" height="28" fill="#c0c0c0" />
<rect x="900" y="454" width="3" height="29" fill="#c0c0c0" />
<rect x="904" y="454" width="3" height="30" fill="#c0c0c0" />
<rect x="908" y="454" width="3" height="30" fill="#c0c0c0" />
<rect x="912" y="454" width="3" height="28" fill="#c0c0c0" />
<rect x="916" y="454" width="3" height="25" fill="#c0c0c0" />
<rect x="920" y="454" width="3" height="22" fill="#c0c0c0" />
<rect x="924" y="454" width="3" height="21" fill="#c0c0c0" />
</g>
<path class="c" d="M5.5 481v1M6.5 481v1M7.5 482v1M8.5 482v1M9.5 482v1M10.5 482v1M11.5 483v1M12.5 483v1M13.5 483v1M14.5 483v1M15.5 483v1M16.5 483v1M17.5 483v1M18.5 483v1M19.5 483v1M20.5 483v1M21.5 483v1M22.5 483v1M23.5 483v1M24.5 482v1M25.5 482v1M26.5 482v1M27.5 482v1M28.5 481v1M29.5 481v1M30.5 481v1M31.5 481v1M32.5 480v1M33.5 480v1M34.5 480v1M35.5 479v1M36.5 479v1M37.5 478v1M38.5 478v1M39.5 478v1M40.5 477v1M41.5 477v1M42.5 477v1M43.5 476v1M44.5 476v1M45.5 475v1M46.5 475v1M47.5 474v1M48.5 474v1M49.5 473v1M50.5 473v1M51.5 472v1M52.5 472v1M53.5 471v1M54.5 470v1M55.5 470v1M56.5 469v1M57.5 468v1M58.5 468v1M59.5 467v1M60.5 467v1M61.5 466v1M62.5 466v1M63.5 465v1M64.5 465v1M65.5 464v1M66.5 463v1M67.5 463v1M68.5 462v1M69.5 461v1M70.5 461v1M71.5 460v1M72.5 460v1M73.5 459v1M74.5 459v1M75.5 459v1M76.5 458v1M77.5 458v1M78.5 458v1M79.5 458v1M80.5 457v1M81.5 457v1M82.5 457v1M83.5 457v1M84.5 456v1M85.5 456v1M86.5 456v1M87.5 457v1M88.5 457v1M89.5 457v1M90.5 457v1M91.5 458v1M92.5 458v1M93.5 458v1M94.5 458v1M95.5 459v1M96.5 459v1M97.5 459v1M98.5 460v1M99.5 460v1M100.5 461v1M101.5 461v1M102.5 461v1M103.5 462v1M104.5 462v1M105.5 462v1M106.5 463v1M107.5 463v1M108.5 464v1M109.5 464v1M110.5 464v1M111.5 464v1M112.5 464v1M113.5 464v1M114.5 464v1M115.5 465v1M116.5 465v1M117.5 465v1M118.5 465v1M119.5 465v1M120.5 464v1M121.5 464v1M122.5 464v1M123.5 464v1M124.5 463v1M125.5 463v1M126.5 463v1M127.5 463v1M128.5 462v1M129.5 462v1M130.5 461v1M131.5 461v1M132.5 460v1M133.5 459v1M134.5 459v1M135.5 458v1M136.5 458v1M137.5 457v1M138.5 457v1M139.5 456v1M140.5 456v1M141.5 455v1M142.5 454v1M143.5 454v1M144.5 453v1M145.5 452v1M146.5 452v1M147.5 451v1M148.5 451v1M149.5 450v1M150.5 450v1M151.5 449v1M152.5 449v1M153.5 448v1M154.5 448v1M155.5 448v1M156.5 447v1M157.5 447v1M158.5 447v1M159.5 447v1M160.5 446v1M161.5 446v1M162.5 446v1M163.5 446v1M164.5 445v1M165.5 445v1M166.5 445v1M167.5 445v1M168.5 445v1M169.5 445v1M170.5 445v1M171.5 446v1M172.5 446v1M173.5 446v1M174.5 446v1M175.5 446v1M176.5 446v1M177.5 446v1M178.5 446v1M179.5 447v1M180.5 447v1M181.5 447v1M182.5 447v1M183.5 447v1M184.5 447v1M185.5 447v1M186.5 447v1M187.5 447v1M188.5 447v1M189.5 447v1M190.5 447v1M191.5 447v1M192.5 447v1M193.5 447v1M194.5 447v1M195.5 447v1M196.5 447v1M197.5 447v1M198.5 447v1M199.5 447v1M200.5 446v1M201.5 446v1M202.5 446v1M203.5 446v1M204.5 446v1M205.5 446v1M206.5 446v1M207.5 446v1M208.5 445v1M209.5 445v1M210.5 445v1M211.5 445v1M212.5 444v1M213.5 444v1M214.5 444v1M215.5 444v1M216.5 443v1M217.5 443v1M218.5 443v1M219.5 443v1M220.5 443v1M221.5 443v1M222.5 443v1M223.5 444v1M224.5 444v1M225.5 444v1M226.5 444v1M227.5 445v1M228.5 445v1M229.5 445v1M230.5 445v1M231.5 446v1M232.5 446v1M233.5 446v1M234.5 447v1M235.5 447v1M236.5 448v1M237.5 448v1M238.5 449v1M239.5 450v1M240.5 450v1M241.5 451v1M242.5 452v1M243.5 453v1M244.5 453v1M245.5 454v1M246.5 455v1M247.5 456v1M248.5 456v1M249.5 457v1M250.5 458v1M251.5 459v1M252.5 460v1M253.5 461v1M254.5 462v1M255.5 463v1M256.5 463v1M257.5 464v1M258.5 465v1M259.5 466v1M260.5 467v1M261.5 468v1M262.5 469v1M263.5 470v1M264.5 470v1M265.5 471v1M266.5 472v1M267.5 473v1M268.5 474v1M269.5 475v1M270.5 476v1M271.5 476v1M272.5 477v1M273.5 477v1M274.5 478v1M275.5 479v1M276.5 479v1M277.5 480v1M278.5 481v1M279.5 481v1M280.5 482v1M281.5 482v1M282.5 483v1M283.5 483v1M284.5 484v1M285.5 484v1M286.5 484v1M287.5 485v1M288.5 485v1M289.5 485v1M290.5 485v1M291.5 486v1M292.5 486v1M293.5 486v1M294.5 486v1M295.5 486v1M296.5 486v1M297.5 486v1M298.5 486v1M299.5 486v1M300.5 486v1M301.5 486v1M302.5 486v1M303.5 486v1M304.5 485v1M305.5 485v1M306.5 485v1M307.5 485v1M308.5 484v1M309.5 484v1M310.5 484v1M311.5 484v1M312.5 484v1M313.5 484v1M314.5 484v1M315.5 484v1M316.5 483v1M317.5 483v1M318.5 483v1M319.5 482v1M320.5 482v1M321.5 481v1M322.5 481v1M323.5 481v1M324.5 481v1M325.5 481v1M326.5 481v1M327.5 480v1M328.5 480v1M329.5 479v1M330.5 479v1M331.5 479v1M332.5 478v1M333.5 478v1M334.5 478v1M335.5 478v1M336.5 477v1M337.5 477v1M338.5 477v1M339.5 477v1M340.5 476v1M341.5 476v1M342.5 476v1M343.5 476v1M344.5 476v1M345.5 476v1M346.5 476v1M347.5 476v1M348.5 475v1M349.5 475v1M350.5 475v1M351.5 475v1M352.5 475v1M353.5 475v1M354.5 475v1M355.5 475v1M356.5 475v1M357.5 475v1M358.5 475v1M359.5 475v1M360.5 474v1M361.5 474v1M362.5 474v1M363.5 474v1M364.5 473v1M365.5 473v1M366.5 473v1M367.5 473v1M368.5 472v1M369.5 472v1M370.5 472v1M371.5 472v1M372.5 471v1M373.5 471v1M374.5 471v1M375.5 470v1M376.5 470v1M377.5 469v1M378.5 468v1M379.5 468v1M380.5 467v1M381.5 466v1M382.5 465v1M383.5 465v1M384.5 464v1M385.5 463v1M386.5 462v1M387.5 462v1M388.5 461v1M389.5 460v1M390.5 459v1M391.5 459v1M392.5 458v1M393.5 457v1M394.5 456v1M395.5 456v1M396.5 455v1M397.5 454v1M398.5 453v1M399.5 453v1M400.5 452v1M401.5 451v1M402.5 450v1M403.5 450v1M404.5 449v1M405.5 448v1M406.5 448v1M407.5 447v1M408.5 447v1M409.5 446v1M410.5 446v1M411.5 446v1M412.5 445v1M413.5 445v1M414.5 445v1M415.5 445v1M416.5 444v1M417.5 444v1M418.5 444v1M419.5 445v1M420.5 445v1M421.5 445v1M422.5 445v1M423.5 445v1M424.5 445v1M425.5 445v1M426.5 446v1M427.5 446v1M428.5 447v1M429.5 447v1M430.5 447v1M431.5 448v1M432.5 448v1M433.5 448v1M434.5 449v1M435.5 449v1M436.5 450v1M437.5 450v1M438.5 451v1M439.5 451v1M440.5 452v1M441.5 452v1M442.5 453v1M443.5 453v1M444.5 454v1M445.5 454v1M446.5 455v1M447.5 456v1M448.5 456v1M449.5 457v1M450.5 458v1M451.5 458v1M452.5 459v1M453.5 459v1M454.5 459v1M455.5 460v1M456.5 460v1M457.5 460v1M458.5 461v1M459.5 461v1M460.5 462v1M461.5 462v1M462.5 462v1M463.5 463v1M464.5 463v1M465.5 463v1M466.5 464v1M467.5 464v1M468.5 465v1M469.5 465v1M470.5 465v1M471.5 465v1M472.5 465v1M473.5 465v1M474.5 465v1M475.5 466v1M476.5 466v1M477.5 466v1M478.5 466v1M479.5 466v1M480.5 466v1M481.5 466v1M482.5 466v1M483.5 466v1M484.5 466v1M485.5 466v1M486.5 466v1M487.5 466v1M488.5 466v1M489.5 466v1M490.5 466v1M491.5 466v1M492.5 466v1M493.5 466v1M494.5 466v1M495.5 465v1M496.5 465v1M497.5 464v1M498.5 464v1M499.5 464v1M500.5 463v1M501.5 463v1M502.5 463v1M503.5 463v1M504.5 462v1M505.5 462v1M506.5 462v1M507.5 462v1M508.5 462v1M509.5 462v1M510.5 462v1M511.5 461v1M512.5 461v1M513.5 460v1M514.5 460v1M515.5 460v1M516.5 459v1M517.5 459v1M518.5 459v1M519.5 458v1M520.5 458v1M521.5 457v1M522.5 457v1M523.5 456v1M524.5 456v1M525.5 455v1M526.5 455v1M527.5 454v1M528.5 454v1M529.5 453v1M530.5 453v1M531.5 452v1M532.5 452v1M533.5 451v1M534.5 451v1M535.5 450v1M536.5 450v1M537.5 449v1M538.5 449v1M539.5 449v1M540.5 448v1M541.5 448v1M542.5 448v1M543.5 447v1M544.5 447v1M545.5 446v1M546.5 446v1M547.5 446v1M548.5 445v1M549.5 445v1M550.5 445v1M551.5 445v1M552.5 444v1M553.5 444v1M554.5 444v1M555.5 444v1M556.5 444v1M557.5 444v1M558.5 444v1M559.5 444v1M560.5 443v1M561.5 443v1M562.5 443v1M563.5 443v1M564.5 442v1M565.5 442v1M566.5 442v1M567.5 442v1M568.5 442v1M569.5 442v1M570.5 442v1M571.5 442v1M572.5 441v1M573.5 441v1M574.5 441v1M575.5 441v1M576.5 440v1M577.5 440v1M578.5 440v1M579.5 440v1M580.5 439v1M581.5 439v1M582.5 439v1M583.5 439v1M584.5 439v1M585.5 439v1M586.5 439v1M587.5 439v1M588.5 438v1M589.5 438v1M590.5 438v1M591.5 438v1M592.5 438v1M593.5 438v1M594.5 438v1M595.5 438v1M596.5 438v1M597.5 438v1M598.5 438v1M599.5 439v1M600.5 439v1M601.5 439v1M602.5 439v1M603.5 440v1M604.5 440v1M605.5 440v1M606.5 441v1M607.5 441v1M608.5 442v1M609.5 442v1M610.5 443v1M611.5 443v1M612.5 444v1M613.5 444v1M614.5 445v1M615.5 445v1M616.5 446v1M617.5 446v1M618.5 447v1M619.5 447v1M620.5 448v1M621.5 448v1M622.5 449v1M623.5 449v1M624.5 450v1M625.5 450v1M626.5 451v1M627.5 451v1M628.5 452v1M629.5 452v1M630.5 453v1M631.5 453v1M632.5 454v1M633.5 454v1M634.5 454v1M635.5 455v1M636.5 455v1M637.5 455v1M638.5 456v1M639.5 456v1M640.5 457v1M641.5 457v1M642.5 457v1M643.5 458v1M644.5 458v1M645.5 458v1M646.5 458v1M647.5 459v1M648.5 459v1M649.5 459v1M650.5 459v1M651.5 460v1M652.5 460v1M653.5 460v1M654.5 460v1M655.5 461v1M656.5 461v1M657.5 461v1M658.5 461v1M659.5 462v1M660.5 462v1M661.5 462v1M662.5 462v1M663.5 463v1M664.5 463v1M665.5 463v1M666.5 463v1M667.5 463v1M668.5 463v1M669.5 463v1M670.5 463v1M671.5 463v1M672.5 463v1M673.5 463v1M674.5 463v1M675.5 463v1M676.5 463v1M677.5 463v1M678.5 463v1M679.5 463v1M680.5 462v1M681.5 462v1M682.5 462v1M683.5 462v1M684.5 461v1M685.5 461v1M686.5 461v1M687.5 461v1M688.5 460v1M689.5 460v1M690.5 460v1M691.5 460v1M692.5 459v1M693.5 459v1M694.5 459v1M695.5 458v1M696.5 458v1M697.5 457v1M698.5 457v1M699.5 457v1M700.5 456v1M701.5 456v1M702.5 456v1M703.5 455v1M704.5 455v1M705.5 454v1M706.5 454v1M707.5 454v1M708.5 453v1M709.5 453v1M710.5 453v1M711.5 453v1M712.5 452v1M713.5 452v1M714.5 452v1M715.5 451v1M716.5 451v1M717.5 450v1M718.5 450v1M719.5 450v1M720.5 449v1M721.5 449v1M722.5 449v1M723.5 449v1M724.5 448v1M725.5 448v1M726.5 448v1M727.5 448v1M728.5 447v1M729.5 447v1M730.5 447v1M731.5 447v1M732.5 446v1M733.5 446v1M734.5 446v1M735.5 446v1M736.5 445v1M737.5 445v1M738.5 445v1M739.5 445v1M740.5 444v1M741.5 444v1M742.5 444v1M743.5 444v1M744.5 443v1M745.5 443v1M746.5 443v1M747.5 443v1M748.5 443v1M749.5 443v1M750.5 443v1M751.5 443v1M752.5 442v1M753.5 442v1M754.5 442v1M755.5 442v1M756.5 441v1M757.5 441v1M758.5 441v1M759.5 440v1M760.5 440v1M761.5 439v1M762.5 439v1M763.5 439v1M764.5 438v1M765.5 438v1M766.5 438v1M767.5 437v1M768.5 437v1M769.5 436v1M770.5 436v1M771.5 435v1M772.5 435v1M773.5 434v1M774.5 434v1M775.5 434v1M776.5 433v1M777.5 433v1M778.5 433v1M779.5 433v1M780.5 432v1M781.5 432v1M782.5 432v1M783.5 432v1M784.5 431v1M785.5 431v1M786.5 431v1M787.5 431v1M788.5 431v1M789.5 431v1M790.5 431v1M791.5 431v1M792.5 431v1M793.5 431v1M794.5 432v1M795.5 432v1M796.5 433v1M797.5 433v1M798.5 434v1M799.5 434v1M800.5 435v1M801.5 435v1M802.5 436v1M803.5 436v1M804.5 437v1M805.5 437v1M806.5 438v1M807.5 439v1M808.5 439v1M809.5 440v1M810.5 441v1M811.5 442v1M812.5 442v1M813.5 443v1M814.5 444v1M815.5 444v1M816.5 445v1M817.5 445v1M818.5 446v1M819.5 447v1M820.5 447v1M821.5 448v1M822.5 449v1M823.5 449v1M824.5 450v1M825.5 450v1M826.5 451v1M827.5 451v1M828.5 452v1M829.5 452v1M830.5 452v1M831.5 453v1M832.5 453v1M833.5 453v1M834.5 453v1M835.5 454v1M836.5 454v1M837.5 454v1M838.5 454v1M839.5 455v1M840.5 455v1M841.5 455v1M842.5 455v1M843.5 456v1M844.5 456v1M845.5 456v1M846.5 456v1M847.5 457v1M848.5 457v1M849.5 457v1M850.5 457v1M851.5 458v1M852.5 458v1M853.5 458v1M854.5 459v1M855.5 459v1M856.5 460v1M857.5 460v1M858.5 460v1M859.5 461v1M860.5 461v1M861.5 461v1M862.5 462v1M863.5 462v1M864.5 463v1M865.5 463v1M866.5 464v1M867.5 464v1M868.5 465v1M869.5 465v1M870.5 466v1M871.5 467v1M872.5 467v1M873.5 468v1M874.5 469v1M875.5 469v1M876.5 470v1M877.5 470v1M878.5 471v1M879.5 472v1M880.5 472v1M881.5 473v1M882.5 474v1M883.5 475v1M884.5 475v1M885.5 476v1M886.5 477v1M887.5 477v1M888.5 478v1M889.5 478v1M890.5 479v1M891.5 479v1M892.5 480v1M893.5 480v1M894.5 480v1M895.5 481v1M896.5 481v1M897.5 481v1M898.5 481v1M899.5 482v1M900.5 482v1M901.5 482v1M902.5 482v1M903.5 483v1M904.5 483v1M905.5 483v1M906.5 483v1M907.5 484v1M908.5 484v1M909.5 484v1M910.5 484v1M911.5 484v1M912.5 484v1M913.5 484v1M914.5 484v1M915.5 484v1M916.5 483v1M917.5 483v1M918.5 483v1M919.5 483v1M920.5 482v1M921.5 482v1M922.5 482v1M923.5 482v1M924.5 481v1M925.5 481v1" fill="none" stroke="#ff0000" stroke-width="1"/>
<text x="9" y="436" font-size="10" fill="#000" textLength="154" lengthAdjust="spacingAndGlyphs" text-rendering="geometricPrecision" stroke="#000" stroke-width="0.2" >MACD(12,26,9) -0.003497 -0.004500</text>
<text x="1171.5" y="434" font-size="10" fill="#000" textLength="37" lengthAdjust="spacingAndGlyphs" text-rendering="geometricPrecision" stroke="#000" stroke-width="0.2" >0.005076</text>
<text x="1171.5" y="458" font-size="10" fill="#000" textLength="17.5" lengthAdjust="spacingAndGlyphs" text-rendering="geometricPrecision" stroke="#000" stroke-width="0.2" >0.00</text>
<text x="1171.5" y="488" font-size="10" fill="#000" textLength="41" lengthAdjust="spacingAndGlyphs" text-rendering="geometricPrecision" stroke="#000" stroke-width="0.2" >-0.006148</text>
<g class="c">
<rect x="1168" y="454" width="2" height="1" fill="#000" />
<rect x="1168" y="424" width="2" height="1" fill="#000" />
</g>
<g class="c">
<rect x="6" y="519" width="3" height="1" fill="#c0c0c0" />
<rect x="12" y="519" width="3" height="1" fill="#c0c0c0" />
<rect x="18" y="519" width="3" height="1" fill="#c0c0c0" />
<rect x="24" y="519" width="3" height="1" fill="#c0c0c0" />
<rect x="30" y="519" width="3" height="1" fill="#c0c0c0" />
<rect x="36" y="519" width="3" height="1" fill="#c0c0c0" />
<rect x="42" y="519" width="3" height="1" fill="#c0c0c0" />
<rect x="48" y="519" width="3" height="1" fill="#c0c0c0" />
<rect x="54" y="519" width="3" height="1" fill="#c0c0c0" />
<rect x="60" y="519" width="3" height="1" fill="#c0c0c0" />
<rect x="66" y="519" width="3" height="1" fill="#c0c0c0" />
<rect x="72" y="519" width="3" height="1" fill="#c0c0c0" />
<rect x="78" y="519" width="3" height="1" fill="#c0c0c0" />
<rect x="84" y="519" width="3" height="1" fill="#c0c0c0" />
<rect x="90" y="519" width="3" height="1" fill="#c0c0c0" />
<rect x="96" y="519" width="3" height="1" fill="#c0c0c0" />
<rect x="102" y="519" width="3" height="1" fill="#c0c0c0" />
<rect x="108" y="519" width="3" height="1" fill="#c0c0c0" />
<rect x="114" y="519" width="3" height="1" fill="#c0c0c0" />
<rect x="120" y="519" width="3" height="1" fill="#c0c0c0" />
<rect x="126" y="519" width="3" height="1" fill="#c0c0c0" />
<rect x="132" y="519" width="3" height="1" fill="#c0c0c0" />
<rect x="138" y="519" width="3" height="1" fill="#c0c0c0" />
<rect x="144" y="519" width="3" height="1" fill="#c0c0c0" />
<rect x="150" y="519" width="3" height="1" fill="#c0c0c0" />
<rect x="156" y="519" width="3" height="1" fill="#c0c0c0" />
<rect x="162" y="519" width="3" height="1" fill="#c0c0c0" />
<rect x="168" y="519" width="3" height="1" fill="#c0c0c0" />
<rect x="174" y="519" width="3" height="1" fill="#c0c0c0" />
<rect x="180" y="519" width="3" height="1" fill="#c0c0c0" />
<rect x="186" y="519" width="3" height="1" fill="#c0c0c0" />
<rect x="192" y="519" width="3" height="1" fill="#c0c0c0" />
<rect x="198" y="519" width="3" height="1" fill="#c0c0c0" />
<rect x="204" y="519" width="3" height="1" fill="#c0c0c0" />
<rect x="210" y="519" width="3" height="1" fill="#c0c0c0" />
<rect x="216" y="519" width="3" height="1" fill="#c0c0c0" />
<rect x="222" y="519" width="3" height="1" fill="#c0c0c0" />
<rect x="228" y="519" width="3" height="1" fill="#c0c0c0" />
<rect x="234" y="519" width="3" height="1" fill="#c0c0c0" />
<rect x="240" y="519" width="3" height="1" fill="#c0c0c0" />
<rect x="246" y="519" width="3" height="1" fill="#c0c0c0" />
<rect x="252" y="519" width="3" height="1" fill="#c0c0c0" />
<rect x="258" y="519" width="3" height="1" fill="#c0c0c0" />
<rect x="264" y="519" width="3" height="1" fill="#c0c0c0" />
<rect x="270" y="519" width="3" height="1" fill="#c0c0c0" />
<rect x="276" y="519" width="3" height="1" fill="#c0c0c0" />
<rect x="282" y="519" width="3" height="1" fill="#c0c0c0" />
<rect x="288" y="519" width="3" height="1" fill="#c0c0c0" />
<rect x="294" y="519" width="3" height="1" fill="#c0c0c0" />
<rect x="300" y="519" width="3" height="1" fill="#c0c0c0" />
<rect x="306" y="519" width="3" height="1" fill="#c0c0c0" />
<rect x="312" y="519" width="3" height="1" fill="#c0c0c0" />
<rect x="318" y="519" width="3" height="1" fill="#c0c0c0" />
<rect x="324" y="519" width="3" height="1" fill="#c0c0c0" />
<rect x="330" y="519" width="3" height="1" fill="#c0c0c0" />
<rect x="336" y="519" width="3" height="1" fill="#c0c0c0" />
<rect x="342" y="519" width="3" height="1" fill="#c0c0c0" />
<rect x="348" y="519" width="3" height="1" fill="#c0c0c0" />
<rect x="354" y="519" width="3" height="1" fill="#c0c0c0" />
<rect x="360" y="519" width="3" height="1" fill="#c0c0c0" />
<rect x="366" y="519" width="3" height="1" fill="#c0c0c0" />
<rect x="372" y="519" width="3" height="1" fill="#c0c0c0" />
<rect x="378" y="519" width="3" height="1" fill="#c0c0c0" />
<rect x="384" y="519" width="3" height="1" fill="#c0c0c0" />
<rect x="390" y="519" width="3" height="1" fill="#c0c0c0" />
<rect x="396" y="519" width="3" height="1" fill="#c0c0c0" />
<rect x="402" y="519" width="3" height="1" fill="#c0c0c0" />
<rect x="408" y="519" width="3" height="1" fill="#c0c0c0" />
<rect x="414" y="519" width="3" height="1" fill="#c0c0c0" />
<rect x="420" y="519" width="3" height="1" fill="#c0c0c0" />
<rect x="426" y="519" width="3" height="1" fill="#c0c0c0" />
<rect x="432" y="519" width="3" height="1" fill="#c0c0c0" />
<rect x="438" y="519" width="3" height="1" fill="#c0c0c0" />
<rect x="444" y="519" width="3" height="1" fill="#c0c0c0" />
<rect x="450" y="519" width="3" height="1" fill="#c0c0c0" />
<rect x="456" y="519" width="3" height="1" fill="#c0c0c0" />
<rect x="462" y="519" width="3" height="1" fill="#c0c0c0" />
<rect x="468" y="519" width="3" height="1" fill="#c0c0c0" />
<rect x="474" y="519" width="3" height="1" fill="#c0c0c0" />
<rect x="480" y="519" width="3" height="1" fill="#c0c0c0" />
<rect x="486" y="519" width="3" height="1" fill="#c0c0c0" />
<rect x="492" y="519" width="3" height="1" fill="#c0c0c0" />
<rect x="498" y="519" width="3" height="1" fill="#c0c0c0" />
<rect x="504" y="519" width="3" height="1" fill="#c0c0c0" />
<rect x="510" y="519" width="3" height="1" fill="#c0c0c0" />
<rect x="516" y="519" width="3" height="1" fill="#c0c0c0" />
<rect x="522" y="519" width="3" height="1" fill="#c0c0c0" />
<rect x="528" y="519" width="3" height="1" fill="#c0c0c0" />
<rect x="534" y="519" width="3" height="1" fill="#c0c0c0" />
<rect x="540" y="519" width="3" height="1" fill="#c0c0c0" />
<rect x="546" y="519" width="3" height="1" fill="#c0c0c0" />
<rect x="552" y="519" width="3" height="1" fill="#c0c0c0" />
<rect x="558" y="519" width="3" height="1" fill="#c0c0c0" />
<rect x="564" y="519" width="3" height="1" fill="#c0c0c0" />
<rect x="570" y="519" width="3" height="1" fill="#c0c0c0" />
<rect x="576" y="519" width="3" height="1" fill="#c0c0c0" />
<rect x="582" y="519" width="3" height="1" fill="#c0c0c0" />
<rect x="588" y="519" width="3" height="1" fill="#c0c0c0" />
<rect x="594" y="519" width="3" height="1" fill="#c0c0c0" />
<rect x="600" y="519" width="3" height="1" fill="#c0c0c0" />
<rect x="606" y="519" width="3" height="1" fill="#c0c0c0" />
<rect x="612" y="519" width="3" height="1" fill="#c0c0c0" />
<rect x="618" y="519" width="3" height="1" fill="#c0c0c0" />
<rect x="624" y="519" width="3" height="1" fill="#c0c0c0" />
<rect x="630" y="519" width="3" height="1" fill="#c0c0c0" />
<rect x="636" y="519" width="3" height="1" fill="#c0c0c0" />
<rect x="642" y="519" width="3" height="1" fill="#c0c0c0" />
<rect x="648" y="519" width="3" height="1" fill="#c0c0c0" />
<rect x="654" y="519" width="3" height="1" fill="#c0c0c0" />
<rect x="660" y="519" width="3" height="1" fill="#c0c0c0" />
<rect x="666" y="519" width="3" height="1" fill="#c0c0c0" />
<rect x="672" y="519" width="3" height="1" fill="#c0c0c0" />
<rect x="678" y="519" width="3" height="1" fill="#c0c0c0" />
<rect x="684" y="519" width="3" height="1" fill="#c0c0c0" />
<rect x="690" y="519" width="3" height="1" fill="#c0c0c0" />
<rect x="696" y="519" width="3" height="1" fill="#c0c0c0" />
<rect x="702" y="519" width="3" height="1" fill="#c0c0c0" />
<rect x="708" y="519" width="3" height="1" fill="#c0c0c0" />
<rect x="714" y="519" width="3" height="1" fill="#c0c0c0" />
<rect x="720" y="519" width="3" height="1" fill="#c0c0c0" />
<rect x="726" y="519" width="3" height="1" fill="#c0c0c0" />
<rect x="732" y="519" width="3" height="1" fill="#c0c0c0" />
<rect x="738" y="519" width="3" height="1" fill="#c0c0c0" />
<rect x="744" y="519" width="3" height="1" fill="#c0c0c0" />
<rect x="750" y="519" width="3" height="1" fill="#c0c0c0" />
<rect x="756" y="519" width="3" height="1" fill="#c0c0c0" />
<rect x="762" y="519" width="3" height="1" fill="#c0c0c0" />
<rect x="768" y="519" width="3" height="1" fill="#c0c0c0" />
<rect x="774" y="519" width="3" height="1" fill="#c0c0c0" />
<rect x="780" y="519" width="3" height="1" fill="#c0c0c0" />
<rect x="786" y="519" width="3" height="1" fill="#c0c0c0" />
<rect x="792" y="519" width="3" height="1" fill="#c0c0c0" />
<rect x="798" y="519" width="3" height="1" fill="#c0c0c0" />
<rect x="804" y="519" width="3" height="1" fill="#c0c0c0" />
<rect x="810" y="519" width="3" height="1" fill="#c0c0c0" />
<rect x="816" y="519" width="3" height="1" fill="#c0c0c0" />
<rect x="822" y="519" width="3" height="1" fill="#c0c0c0" />
<rect x="828" y="519" width="3" height="1" fill="#c0c0c0" />
<rect x="834" y="519" width="3" height="1" fill="#c0c0c0" />
<rect x="840" y="519" width="3" height="1" fill="#c0c0c0" />
<rect x="846" y="519" width="3" height="1" fill="#c0c0c0" />
<rect x="852" y="519" width="3" height="1" fill="#c0c0c0" />
<rect x="858" y="519" width="3" height="1" fill="#c0c0c0" />
<rect x="864" y="519" width="3" height="1" fill="#c0c0c0" />
<rect x="870" y="519" width="3" height="1" fill="#c0c0c0" />
<rect x="876" y="519" width="3" height="1" fill="#c0c0c0" />
<rect x="882" y="519" width="3" height="1" fill="#c0c0c0" />
<rect x="888" y="519" width="3" height="1" fill="#c0c0c0" />
<rect x="894" y="519" width="3" height="1" fill="#c0c0c0" />
<rect x="900" y="519" width="3" height="1" fill="#c0c0c0" />
<rect x="906" y="519" width="3" height="1" fill="#c0c0c0" />
<rect x="912" y="519" width="3" height="1" fill="#c0c0c0" />
<rect x="918" y="519" width="3" height="1" fill="#c0c0c0" />
<rect x="924" y="519" width="3" height="1" fill="#c0c0c0" />
<rect x="930" y="519" width="3" height="1" fill="#c0c0c0" />
<rect x="936" y="519" width="3" height="1" fill="#c0c0c0" />
<rect x="942" y="519" width="3" height="1" fill="#c0c0c0" />
<rect x="948" y="519" width="3" height="1" fill="#c0c0c0" />
<rect x="954" y="519" width="3" height="1" fill="#c0c0c0" />
<rect x="960" y="519" width="3" height="1" fill="#c0c0c0" />
<rect x="966" y="519" width="3" height="1" fill="#c0c0c0" />
<rect x="972" y="519" width="3" height="1" fill="#c0c0c0" />
<rect x="978" y="519" width="3" height="1" fill="#c0c0c0" />
<rect x="984" y="519" width="3" height="1" fill="#c0c0c0" />
<rect x="990" y="519" width="3" height="1" fill="#c0c0c0" />
<rect x="996" y="519" width="3" height="1" fill="#c0c0c0" />
<rect x="1002" y="519" width="3" height="1" fill="#c0c0c0" />
<rect x="1008" y="519" width="3" height="1" fill="#c0c0c0" />
<rect x="1014" y="519" width="3" height="1" fill="#c0c0c0" />
<rect x="1020" y="519" width="3" height="1" fill="#c0c0c0" />
<rect x="1026" y="519" width="3" height="1" fill="#c0c0c0" />
<rect x="1032" y="519" width="3" height="1" fill="#c0c0c0" />
<rect x="1038" y="519" width="3" height="1" fill="#c0c0c0" />
<rect x="1044" y="519" width="3" height="1" fill="#c0c0c0" />
<rect x="1050" y="519" width="3" height="1" fill="#c0c0c0" />
<rect x="1056" y="519" width="3" height="1" fill="#c0c0c0" />
<rect x="1062" y="519" width="3" height="1" fill="#c0c0c0" />
<rect x="1068" y="519" width="3" height="1" fill="#c0c0c0" />
<rect x="1074" y="519" width="3" height="1" fill="#c0c0c0" />
<rect x="1080" y="519" width="3" height="1" fill="#c0c0c0" />
<rect x="1086" y="519" width="3" height="1" fill="#c0c0c0" />
<rect x="1092" y="519" width="3" height="1" fill="#c0c0c0" />
<rect x="1098" y="519" width="3" height="1" fill="#c0c0c0" />
<rect x="1104" y="519" width="3" height="1" fill="#c0c0c0" />
<rect x="1110" y="519" width="3" height="1" fill="#c0c0c0" />
<rect x="1116" y="519" width="3" height="1" fill="#c0c0c0" />
<rect x="1122" y="519" width="3" height="1" fill="#c0c0c0" />
<rect x="1128" y="519" width="3" height="1" fill="#c0c0c0" />
<rect x="1134" y="519" width="3" height="1" fill="#c0c0c0" />
<rect x="1140" y="519" width="3" height="1" fill="#c0c0c0" />
<rect x="1146" y="519" width="3" height="1" fill="#c0c0c0" />
<rect x="1152" y="519" width="3" height="1" fill="#c0c0c0" />
<rect x="1158" y="519" width="3" height="1" fill="#c0c0c0" />
<rect x="1164" y="519" width="3" height="1" fill="#c0c0c0" />
<rect x="6" y="552" width="3" height="1" fill="#c0c0c0" />
<rect x="12" y="552" width="3" height="1" fill="#c0c0c0" />
<rect x="18" y="552" width="3" height="1" fill="#c0c0c0" />
<rect x="24" y="552" width="3" height="1" fill="#c0c0c0" />
<rect x="30" y="552" width="3" height="1" fill="#c0c0c0" />
<rect x="36" y="552" width="3" height="1" fill="#c0c0c0" />
<rect x="42" y="552" width="3" height="1" fill="#c0c0c0" />
<rect x="48" y="552" width="3" height="1" fill="#c0c0c0" />
<rect x="54" y="552" width="3" height="1" fill="#c0c0c0" />
<rect x="60" y="552" width="3" height="1" fill="#c0c0c0" />
<rect x="66" y="552" width="3" height="1" fill="#c0c0c0" />
<rect x="72" y="552" width="3" height="1" fill="#c0c0c0" />
<rect x="78" y="552" width="3" height="1" fill="#c0c0c0" />
<rect x="84" y="552" width="3" height="1" fill="#c0c0c0" />
<rect x="90" y="552" width="3" height="1" fill="#c0c0c0" />
<rect x="96" y="552" width="3" height="1" fill="#c0c0c0" />
<rect x="102" y="552" width="3" height="1" fill="#c0c0c0" />
<rect x="108" y="552" width="3" height="1" fill="#c0c0c0" />
<rect x="114" y="552" width="3" height="1" fill="#c0c0c0" />
<rect x="120" y="552" width="3" height="1" fill="#c0c0c0" />
<rect x="126" y="552" width="3" height="1" fill="#c0c0c0" />
<rect x="132" y="552" width="3" height="1" fill="#c0c0c0" />
<rect x="138" y="552" width="3" height="1" fill="#c0c0c0" />
<rect x="144" y="552" width="3" height="1" fill="#c0c0c0" />
<rect x="150" y="552" width="3" height="1" fill="#c0c0c0" />
<rect x="156" y="552" width="3" height="1" fill="#c0c0c0" />
<rect x="162" y="552" width="3" height="1" fill="#c0c0c0" />
<rect x="168" y="552" width="3" height="1" fill="#c0c0c0" />
<rect x="174" y="552" width="3" height="1" fill="#c0c0c0" />
<rect x="180" y="552" width="3" height="1" fill="#c0c0c0" />
<rect x="186" y="552" width="3" height="1" fill="#c0c0c0" />
<rect x="192" y="552" width="3" height="1" fill="#c0c0c0" />
<rect x="198" y="552" width="3" height="1" fill="#c0c0c0" />
<rect x="204" y="552" width="3" height="1" fill="#c0c0c0" />
<rect x="210" y="552" width="3" height="1" fill="#c0c0c0" />
<rect x="216" y="552" width="3" height="1" fill="#c0c0c0" />
<rect x="222" y="552" width="3" height="1" fill="#c0c0c0" />
<rect x="228" y="552" width="3" height="1" fill="#c0c0c0" />
<rect x="234" y="552" width="3" height="1" fill="#c0c0c0" />
<rect x="240" y="552" width="3" height="1" fill="#c0c0c0" />
<rect x="246" y="552" width="3" height="1" fill="#c0c0c0" />
<rect x="252" y="552" width="3" height="1" fill="#c0c0c0" />
<rect x="258" y="552" width="3" height="1" fill="#c0c0c0" />
<rect x="264" y="552" width="3" height="1" fill="#c0c0c0" />
<rect x="270" y="552" width="3" height="1" fill="#c0c0c0" />
<rect x="276" y="552" width="3" height="1" fill="#c0c0c0" />
<rect x="282" y="552" width="3" height="1" fill="#c0c0c0" />
<rect x="288" y="552" width="3" height="1" fill="#c0c0c0" />
<rect x="294" y="552" width="3" height="1" fill="#c0c0c0" />
<rect x="300" y="552" width="3" height="1" fill="#c0c0c0" />
<rect x="306" y="552" width="3" height="1" fill="#c0c0c0" />
<rect x="312" y="552" width="3" height="1" fill="#c0c0c0" />
<rect x="318" y="552" width="3" height="1" fill="#c0c0c0" />
<rect x="324" y="552" width="3" height="1" fill="#c0c0c0" />
<rect x="330" y="552" width="3" height="1" fill="#c0c0c0" />
<rect x="336" y="552" width="3" height="1" fill="#c0c0c0" />
<rect x="342" y="552" width="3" height="1" fill="#c0c0c0" />
<rect x="348" y="552" width="3" height="1" fill="#c0c0c0" />
<rect x="354" y="552" width="3" height="1" fill="#c0c0c0" />
<rect x="360" y="552" width="3" height="1" fill="#c0c0c0" />
<rect x="366" y="552" width="3" height="1" fill="#c0c0c0" />
<rect x="372" y="552" width="3" height="1" fill="#c0c0c0" />
<rect x="378" y="552" width="3" height="1" fill="#c0c0c0" />
<rect x="384" y="552" width="3" height="1" fill="#c0c0c0" />
<rect x="390" y="552" width="3" height="1" fill="#c0c0c0" />
<rect x="396" y="552" width="3" height="1" fill="#c0c0c0" />
<rect x="402" y="552" width="3" height="1" fill="#c0c0c0" />
<rect x="408" y="552" width="3" height="1" fill="#c0c0c0" />
<rect x="414" y="552" width="3" height="1" fill="#c0c0c0" />
<rect x="420" y="552" width="3" height="1" fill="#c0c0c0" />
<rect x="426" y="552" width="3" height="1" fill="#c0c0c0" />
<rect x="432" y="552" width="3" height="1" fill="#c0c0c0" />
<rect x="438" y="552" width="3" height="1" fill="#c0c0c0" />
<rect x="444" y="552" width="3" height="1" fill="#c0c0c0" />
<rect x="450" y="552" width="3" height="1" fill="#c0c0c0" />
<rect x="456" y="552" width="3" height="1" fill="#c0c0c0" />
<rect x="462" y="552" width="3" height="1" fill="#c0c0c0" />
<rect x="468" y="552" width="3" height="1" fill="#c0c0c0" />
<rect x="474" y="552" width="3" height="1" fill="#c0c0c0" />
<rect x="480" y="552" width="3" height="1" fill="#c0c0c0" />
<rect x="486" y="552" width="3" height="1" fill="#c0c0c0" />
<rect x="492" y="552" width="3" height="1" fill="#c0c0c0" />
<rect x="498" y="552" width="3" height="1" fill="#c0c0c0" />
<rect x="504" y="552" width="3" height="1" fill="#c0c0c0" />
<rect x="510" y="552" width="3" height="1" fill="#c0c0c0" />
<rect x="516" y="552" width="3" height="1" fill="#c0c0c0" />
<rect x="522" y="552" width="3" height="1" fill="#c0c0c0" />
<rect x="528" y="552" width="3" height="1" fill="#c0c0c0" />
<rect x="534" y="552" width="3" height="1" fill="#c0c0c0" />
<rect x="540" y="552" width="3" height="1" fill="#c0c0c0" />
<rect x="546" y="552" width="3" height="1" fill="#c0c0c0" />
<rect x="552" y="552" width="3" height="1" fill="#c0c0c0" />
<rect x="558" y="552" width="3" height="1" fill="#c0c0c0" />
<rect x="564" y="552" width="3" height="1" fill="#c0c0c0" />
<rect x="570" y="552" width="3" height="1" fill="#c0c0c0" />
<rect x="576" y="552" width="3" height="1" fill="#c0c0c0" />
<rect x="582" y="552" width="3" height="1" fill="#c0c0c0" />
<rect x="588" y="552" width="3" height="1" fill="#c0c0c0" />
<rect x="594" y="552" width="3" height="1" fill="#c0c0c0" />
<rect x="600" y="552" width="3" height="1" fill="#c0c0c0" />
<rect x="606" y="552" width="3" height="1" fill="#c0c0c0" />
<rect x="612" y="552" width="3" height="1" fill="#c0c0c0" />
<rect x="618" y="552" width="3" height="1" fill="#c0c0c0" />
<rect x="624" y="552" width="3" height="1" fill="#c0c0c0" />
<rect x="630" y="552" width="3" height="1" fill="#c0c0c0" />
<rect x="636" y="552" width="3" height="1" fill="#c0c0c0" />
<rect x="642" y="552" width="3" height="1" fill="#c0c0c0" />
<rect x="648" y="552" width="3" height="1" fill="#c0c0c0" />
<rect x="654" y="552" width="3" height="1" fill="#c0c0c0" />
<rect x="660" y="552" width="3" height="1" fill="#c0c0c0" />
<rect x="666" y="552" width="3" height="1" fill="#c0c0c0" />
<rect x="672" y="552" width="3" height="1" fill="#c0c0c0" />
<rect x="678" y="552" width="3" height="1" fill="#c0c0c0" />
<rect x="684" y="552" width="3" height="1" fill="#c0c0c0" />
<rect x="690" y="552" width="3" height="1" fill="#c0c0c0" />
<rect x="696" y="552" width="3" height="1" fill="#c0c0c0" />
<rect x="702" y="552" width="3" height="1" fill="#c0c0c0" />
<rect x="708" y="552" width="3" height="1" fill="#c0c0c0" />
<rect x="714" y="552" width="3" height="1" fill="#c0c0c0" />
<rect x="720" y="552" width="3" height="1" fill="#c0c0c0" />
<rect x="726" y="552" width="3" height="1" fill="#c0c0c0" />
<rect x="732" y="552" width="3" height="1" fill="#c0c0c0" />
<rect x="738" y="552" width="3" height="1" fill="#c0c0c0" />
<rect x="744" y="552" width="3" height="1" fill="#c0c0c0" />
<rect x="750" y="552" width="3" height="1" fill="#c0c0c0" />
<rect x="756" y="552" width="3" height="1" fill="#c0c0c0" />
<rect x="762" y="552" width="3" height="1" fill="#c0c0c0" />
<rect x="768" y="552" width="3" height="1" fill="#c0c0c0" />
<rect x="774" y="552" width="3" height="1" fill="#c0c0c0" />
<rect x="780" y="552" width="3" height="1" fill="#c0c0c0" />
<rect x="786" y="552" width="3" height="1" fill="#c0c0c0" />
<rect x="792" y="552" width="3" height="1" fill="#c0c0c0" />
<rect x="798" y="552" width="3" height="1" fill="#c0c0c0" />
<rect x="804" y="552" width="3" height="1" fill="#c0c0c0" />
<rect x="810" y="552" width="3" height="1" fill="#c0c0c0" />
<rect x="816" y="552" width="3" height="1" fill="#c0c0c0" />
<rect x="822" y="552" width="3" height="1" fill="#c0c0c0" />
<rect x="828" y="552" width="3" height="1" fill="#c0c0c0" />
<rect x="834" y="552" width="3" height="1" fill="#c0c0c0" />
<rect x="840" y="552" width="3" height="1" fill="#c0c0c0" />
<rect x="846" y="552" width="3" height="1" fill="#c0c0c0" />
<rect x="852" y="552" width="3" height="1" fill="#c0c0c0" />
<rect x="858" y="552" width="3" height="1" fill="#c0c0c0" />
<rect x="864" y="552" width="3" height="1" fill="#c0c0c0" />
<rect x="870" y="552" width="3" height="1" fill="#c0c0c0" />
<rect x="876" y="552" width="3" height="1" fill="#c0c0c0" />
<rect x="882" y="552" width="3" height="1" fill="#c0c0c0" />
<rect x="888" y="552" width="3" height="1" fill="#c0c0c0" />
<rect x="894" y="552" width="3" height="1" fill="#c0c0c0" />
<rect x="900" y="552" width="3" height="1" fill="#c0c0c0" />
<rect x="906" y="552" width="3" height="1" fill="#c0c0c0" />
<rect x="912" y="552" width="3" height="1" fill="#c0c0c0" />
<rect x="918" y="552" width="3" height="1" fill="#c0c0c0" />
<rect x="924" y="552" width="3" height="1" fill="#c0c0c0" />
<rect x="930" y="552" width="3" height="1" fill="#c0c0c0" />
<rect x="936" y="552" width="3" height="1" fill="#c0c0c0" />
<rect x="942" y="552" width="3" height="1" fill="#c0c0c0" />
<rect x="948" y="552" width="3" height="1" fill="#c0c0c0" />
<rect x="954" y="552" width="3" height="1" fill="#c0c0c0" />
<rect x="960" y="552" width="3" height="1" fill="#c0c0c0" />
<rect x="966" y="552" width="3" height="1" fill="#c0c0c0" />
<rect x="972" y="552" width="3" height="1" fill="#c0c0c0" />
<rect x="978" y="552" width="3" height="1" fill="#c0c0c0" />
<rect x="984" y="552" width="3" height="1" fill="#c0c0c0" />
<rect x="990" y="552" width="3" height="1" fill="#c0c0c0" />
<rect x="996" y="552" width="3" height="1" fill="#c0c0c0" />
<rect x="1002" y="552" width="3" height="1" fill="#c0c0c0" />
<rect x="1008" y="552" width="3" height="1" fill="#c0c0c0" />
<rect x="1014" y="552" width="3" height="1" fill="#c0c0c0" />
<rect x="1020" y="552" width="3" height="1" fill="#c0c0c0" />
<rect x="1026" y="552" width="3" height="1" fill="#c0c0c0" />
<rect x="1032" y="552" width="3" height="1" fill="#c0c0c0" />
<rect x="1038" y="552" width="3" height="1" fill="#c0c0c0" />
<rect x="1044" y="552" width="3" height="1" fill="#c0c0c0" />
<rect x="1050" y="552" width="3" height="1" fill="#c0c0c0" />
<rect x="1056" y="552" width="3" height="1" fill="#c0c0c0" />
<rect x="1062" y="552" width="3" height="1" fill="#c0c0c0" />
<rect x="1068" y="552" width="3" height="1" fill="#c0c0c0" />
<rect x="1074" y="552" width="3" height="1" fill="#c0c0c0" />
<rect x="1080" y="552" width="3" height="1" fill="#c0c0c0" />
<rect x="1086" y="552" width="3" height="1" fill="#c0c0c0" />
<rect x="1092" y="552" width="3" height="1" fill="#c0c0c0" />
<rect x="1098" y="552" width="3" height="1" fill="#c0c0c0" />
<rect x="1104" y="552" width="3" height="1" fill="#c0c0c0" />
<rect x="1110" y="552" width="3" height="1" fill="#c0c0c0" />
<rect x="1116" y="552" width="3" height="1" fill="#c0c0c0" />
<rect x="1122" y="552" width="3" height="1" fill="#c0c0c0" />
<rect x="1128" y="552" width="3" height="1" fill="#c0c0c0" />
<rect x="1134" y="552" width="3" height="1" fill="#c0c0c0" />
<rect x="1140" y="552" width="3" height="1" fill="#c0c0c0" />
<rect x="1146" y="552" width="3" height="1" fill="#c0c0c0" />
<rect x="1152" y="552" width="3" height="1" fill="#c0c0c0" />
<rect x="1158" y="552" width="3" height="1" fill="#c0c0c0" />
<rect x="1164" y="552" width="3" height="1" fill="#c0c0c0" />
</g>
<path class="c" d="M5.5 552v1M6.5 551v1M7.5 550v1M8.5 549v1M9.5 548v1M10.5 547v1M11.5 547v1M12.5 546v1M13.5 545v1M14.5 544v1M15.5 543v1M16.5 542v1M17.5 541v1M18.5 542v1M19.5 542v1M20.5 543v1M21.5 543v1M22.5 542v1M23.5 542v1M24.5 541v1M25.5 540v1M26.5 541v1M27.5 542v1M28.5 542v1M29.5 543v1M30.5 543v1M31.5 543v1M32.5 543v1M33.5 543v1M34.5 542v1M35.5 541v1M36.5 540v1M37.5 539v1M38.5 539v1M39.5 538v1M40.5 538v1M41.5 537v1M42.5 537v1M43.5 536v1M44.5 536v1M45.5 535v1M46.5 533v2M47.5 532v1M48.5 530v2M49.5 529v1M50.5 530v1M51.5 531v1M52.5 531v1M53.5 532v1M54.5 532v1M55.5 531v1M56.5 531v1M57.5 530v1M58.5 529v1M59.5 529v1M60.5 528v1M61.5 527v1M62.5 527v1M63.5 527v1M64.5 527v1M65.5 527v1M66.5 528v2M67.5 530v2M68.5 532v2M69.5 534v2M70.5 536v1M71.5 536v1M72.5 537v1M73.5 537v1M74.5 538v1M75.5 538v1M76.5 539v1M77.5 539v1M78.5 540v1M79.5 541v2M80.5 543v1M81.5 544v1M82.5 545v1M83.5 546v2M84.5 548v1M85.5 549v1M86.5 549v1M87.5 549v1M88.5 549v1M89.5 549v1M90.5 549v1M91.5 550v1M92.5 550v1M93.5 550v1M94.5 549v1M95.5 549v1M96.5 548v1M97.5 547v1M98.5 547v1M99.5 547v1M100.5 547v1M101.5 546v2M102.5 544v2M103.5 542v2M104.5 540v2M105.5 538v2M106.5 538v1M107.5 538v1M108.5 537v1M109.5 537v1M110.5 537v1M111.5 537v1M112.5 536v1M113.5 536v1M114.5 534v2M115.5 533v1M116.5 531v2M117.5 530v1M118.5 530v1M119.5 529v1M120.5 529v1M121.5 528v1M122.5 528v1M123.5 527v1M124.5 527v1M125.5 526v1M126.5 526v1M127.5 526v1M128.5 525v1M129.5 525v1M130.5 524v1M131.5 524v1M132.5 523v1M133.5 522v1M134.5 522v1M135.5 522v1M136.5 522v1M137.5 522v2M138.5 524v3M139.5 527v3M140.5 530v3M141.5 533v2M142.5 533v1M143.5 532v1M144.5 531v1M145.5 530v1M146.5 529v1M147.5 527v2M148.5 526v1M149.5 525v1M150.5 525v1M151.5 526v1M152.5 526v1M153.5 526v2M154.5 528v2M155.5 530v2M156.5 532v2M157.5 534v2M158.5 535v1M159.5 534v1M160.5 534v1M161.5 533v1M162.5 534v1M163.5 534v1M164.5 535v1M165.5 535v1M166.5 536v2M167.5 538v1M168.5 539v2M169.5 541v1M170.5 540v1M171.5 538v2M172.5 537v1M173.5 536v1M174.5 535v1M175.5 535v1M176.5 534v1M177.5 533v1M178.5 532v1M179.5 530v2M180.5 529v1M181.5 528v1M182.5 528v1M183.5 528v1M184.5 528v1M185.5 528v1M186.5 528v1M187.5 528v1M188.5 527v1M189.5 527v1M190.5 528v1M191.5 529v1M192.5 529v1M193.5 530v1M194.5 530v1M195.5 530v1M196.5 530v1M197.5 530v1M198.5 529v1M199.5 529v1M200.5 528v1M201.5 527v1M202.5 527v1M203.5 527v1M204.5 527v1M205.5 527v1M206.5 527v1M207.5 527v1M208.5 526v1M209.5 526v1M210.5 527v1M211.5 527v1M212.5 528v1M213.5 528v1M214.5 529v2M215.5 531v2M216.5 533v2M217.5 535v1M218.5 536v1M219.5 537v1M220.5 538v1M221.5 539v1M222.5 540v1M223.5 541v1M224.5 541v1M225.5 542v1M226.5 543v1M227.5 544v2M228.5 546v1M229.5 547v1M230.5 547v1M231.5 548v1M232.5 548v1M233.5 548v1M234.5 548v1M235.5 548v1M236.5 547v1M237.5 547v1M238.5 548v1M239.5 549v1M240.5 550v1M241.5 551v1M242.5 550v1M243.5 550v1M244.5 549v1M245.5 548v1M246.5 549v1M247.5 550v1M248.5 550v1M249.5 551v1M250.5 552v1M251.5 553v1M252.5 554v1M253.5 555v1M254.5 555v1M255.5 556v1M256.5 556v1M257.5 556v1M258.5 556v1M259.5 557v1M260.5 557v1M261.5 557v1M262.5 557v1M263.5 557v1M264.5 557v1M265.5 557v1M266.5 558v1M267.5 558v1M268.5 559v1M269.5 558v2M270.5 555v3M271.5 552v3M272.5 549v3M273.5 547v2M274.5 547v1M275.5 548v1M276.5 548v1M277.5 548v1M278.5 548v1M279.5 549v1M280.5 549v1M281.5 549v1M282.5 550v1M283.5 551v1M284.5 551v1M285.5 552v1M286.5 550v2M287.5 548v2M288.5 546v2M289.5 545v1M290.5 546v1M291.5 547v2M292.5 549v1M293.5 550v1M294.5 548v2M295.5 546v2M296.5 544v2M297.5 543v1M298.5 543v1M299.5 544v1M300.5 544v1M301.5 544v1M302.5 544v1M303.5 544v1M304.5 543v1M305.5 543v1M306.5 544v1M307.5 544v1M308.5 545v1M309.5 545v1M310.5 545v1M311.5 545v1M312.5 544v1M313.5 544v1M314.5 543v1M315.5 543v1M316.5 542v1M317.5 541v1M318.5 542v1M319.5 543v1M320.5 544v1M321.5 545v1M322.5 545v1M323.5 546v1M324.5 546v1M325.5 546v1M326.5 546v1M327.5 546v1M328.5 545v1M329.5 545v1M330.5 544v1M331.5 542v2M332.5 541v1M333.5 540v1M334.5 541v1M335.5 542v1M336.5 542v1M337.5 543v1M338.5 544v1M339.5 544v1M340.5 545v1M341.5 545v1M342.5 545v1M343.5 546v1M344.5 546v1M345.5 546v1M346.5 546v1M347.5 546v1M348.5 546v1M349.5 546v1M350.5 546v1M351.5 547v1M352.5 547v1M353.5 547v1M354.5 547v1M355.5 548v1M356.5 548v1M357.5 548v1M358.5 546v2M359.5 544v2M360.5 542v2M361.5 540v2M362.5 538v2M363.5 537v1M364.5 535v2M365.5 534v1M366.5 533v1M367.5 532v1M368.5 531v1M369.5 530v1M370.5 529v1M371.5 528v1M372.5 527v1M373.5 526v1M374.5 526v1M375.5 527v1M376.5 527v1M377.5 527v1M378.5 526v1M379.5 526v1M380.5 525v1M381.5 524v1M382.5 525v1M383.5 525v1M384.5 526v1M385.5 526v1M386.5 527v1M387.5 527v1M388.5 528v1M389.5 528v1M390.5 528v1M391.5 527v1M392.5 527v1M393.5 526v1M394.5 526v1M395.5 525v1M396.5 525v1M397.5 524v1M398.5 525v1M399.5 525v1M400.5 526v1M401.5 526v1M402.5 527v1M403.5 528v1M404.5 528v1M405.5 529v1M406.5 529v1M407.5 530v1M408.5 530v1M409.5 530v1M410.5 531v1M411.5 532v1M412.5 532v1M413.5 533v1M414.5 534v2M415.5 536v2M416.5 538v2M417.5 540v2M418.5 542v1M419.5 543v1M420.5 543v1M421.5 544v1M422.5 544v1M423.5 545v1M424.5 545v1M425.5 545v1M426.5 545v1M427.5 544v1M428.5 544v1M429.5 543v1M430.5 542v1M431.5 541v1M432.5 540v1M433.5 539v1M434.5 540v2M435.5 542v1M436.5 543v2M437.5 545v1M438.5 545v1M439.5 545v1M440.5 544v1M441.5 544v1M442.5 544v1M443.5 543v1M444.5 543v1M445.5 542v1M446.5 542v1M447.5 543v1M448.5 543v1M449.5 543v1M450.5 544v1M451.5 544v1M452.5 545v1M453.5 545v1M454.5 546v1M455.5 547v2M456.5 549v1M457.5 550v1M458.5 550v1M459.5 551v1M460.5 551v1M461.5 550v2M462.5 547v3M463.5 545v2M464.5 542v3M465.5 540v2M466.5 540v1M467.5 539v1M468.5 539v1M469.5 538v1M470.5 538v1M471.5 538v1M472.5 537v1M473.5 537v1M474.5 538v1M475.5 539v1M476.5 540v1M477.5 541v1M478.5 542v1M479.5 542v1M480.5 543v1M481.5 543v1M482.5 543v1M483.5 543v1M484.5 542v1M485.5 542v1M486.5 540v2M487.5 539v1M488.5 537v2M489.5 536v1M490.5 535v1M491.5 533v2M492.5 532v1M493.5 531v1M494.5 531v1M495.5 531v1M496.5 531v1M497.5 531v1M498.5 532v1M499.5 533v2M500.5 535v1M501.5 536v1M502.5 537v1M503.5 537v1M504.5 538v1M505.5 538v1M506.5 538v1M507.5 538v1M508.5 538v1M509.5 537v2M510.5 535v2M511.5 532v3M512.5 530v2M513.5 528v2M514.5 528v1M515.5 527v1M516.5 527v1M517.5 526v1M518.5 526v1M519.5 526v1M520.5 525v1M521.5 525v1M522.5 525v1M523.5 525v1M524.5 524v1M525.5 524v1M526.5 524v1M527.5 524v1M528.5 524v1M529.5 524v1M530.5 525v1M531.5 526v1M532.5 527v1M533.5 528v1M534.5 529v1M535.5 530v2M536.5 532v1M537.5 533v1M538.5 533v1M539.5 532v1M540.5 532v1M541.5 531v1M542.5 532v1M543.5 532v1M544.5 533v1M545.5 533v1M546.5 532v1M547.5 532v1M548.5 531v1M549.5 530v1M550.5 529v1M551.5 529v1M552.5 528v1M553.5 527v1M554.5 527v1M555.5 527v1M556.5 526v1M557.5 526v1M558.5 526v1M559.5 525v1M560.5 525v1M561.5 524v1M562.5 523v1M563.5 523v1M564.5 522v1M565.5 521v1M566.5 521v1M567.5 522v1M568.5 522v1M569.5 522v1M570.5 523v1M571.5 523v1M572.5 524v1M573.5 524v1M574.5 524v1M575.5 525v1M576.5 525v1M577.5 525v1M578.5 525v1M579.5 526v1M580.5 526v1M581.5 526v1M582.5 526v1M583.5 527v1M584.5 527v1M585.5 527v1M586.5 528v2M587.5 530v1M588.5 531v2M589.5 533v1M590.5 533v1M591.5 534v1M592.5 534v1M593.5 534v1M594.5 535v1M595.5 535v1M596.5 536v1M597.5 536v1M598.5 536v1M599.5 537v1M600.5 537v1M601.5 537v1M602.5 538v1M603.5 538v1M604.5 539v1M605.5 539v2M606.5 541v2M607.5 543v3M608.5 546v2M609.5 548v2M610.5 546v2M611.5 544v2M612.5 542v2M613.5 540v2M614.5 540v1M615.5 540v1M616.5 540v1M617.5 540v1M618.5 540v1M619.5 540v1M620.5 540v1M621.5 540v1M622.5 539v1M623.5 539v1M624.5 538v1M625.5 537v1M626.5 538v1M627.5 539v1M628.5 540v1M629.5 541v1M630.5 542v1M631.5 542v1M632.5 543v1M633.5 543v1M634.5 544v1M635.5 544v1M636.5 545v1M637.5 545v1M638.5 545v1M639.5 545v1M640.5 545v1M641.5 545v1M642.5 546v1M643.5 546v1M644.5 547v1M645.5 547v1M646.5 546v1M647.5 545v1M648.5 544v1M649.5 543v1M650.5 543v1M651.5 544v1M652.5 544v1M653.5 544v1M654.5 545v1M655.5 546v1M656.5 546v1M657.5 547v1M658.5 547v1M659.5 547v1M660.5 547v1M661.5 547v1M662.5 547v1M663.5 547v1M664.5 547v1M665.5 546v2M666.5 543v3M667.5 539v4M668.5 536v3M669.5 534v2M670.5 533v1M671.5 531v2M672.5 530v1M673.5 529v1M674.5 529v1M675.5 528v1M676.5 528v1M677.5 527v1M678.5 528v2M679.5 530v1M680.5 531v2M681.5 533v1M682.5 533v1M683.5 533v1M684.5 532v1M685.5 532v1M686.5 532v1M687.5 532v1M688.5 531v1M689.5 531v1M690.5 531v1M691.5 532v1M692.5 532v1M693.5 532v1M694.5 533v1M695.5 534v2M696.5 536v1M697.5 537v1M698.5 535v2M699.5 533v2M700.5 531v2M701.5 529v2M702.5 527v2M703.5 526v1M704.5 524v2M705.5 523v1M706.5 524v1M707.5 525v2M708.5 527v1M709.5 528v1M710.5 528v1M711.5 529v1M712.5 529v1M713.5 529v1M714.5 528v1M715.5 527v1M716.5 526v1M717.5 525v1M718.5 526v2M719.5 528v2M720.5 530v2M721.5 532v2M722.5 533v1M723.5 533v1M724.5 532v1M725.5 532v1M726.5 531v1M727.5 531v1M728.5 530v1M729.5 529v1M730.5 528v1M731.5 528v1M732.5 527v1M733.5 526v1M734.5 526v1M735.5 527v1M736.5 527v1M737.5 527v1M738.5 527v1M739.5 526v1M740.5 526v1M741.5 525v1M742.5 525v1M743.5 525v1M744.5 524v1M745.5 524v1M746.5 524v1M747.5 525v1M748.5 525v1M749.5 525v1M750.5 525v1M751.5 524v1M752.5 524v1M753.5 523v1M754.5 522v1M755.5 520v2M756.5 519v1M757.5 518v1M758.5 519v1M759.5 519v1M760.5 520v1M761.5 520v1M762.5 520v1M763.5 519v1M764.5 519v1M765.5 518v1M766.5 517v1M767.5 517v1M768.5 516v1M769.5 515v1M770.5 516v1M771.5 517v1M772.5 517v1M773.5 518v1M774.5 519v1M775.5 520v1M776.5 520v1M777.5 521v2M778.5 523v2M779.5 525v2M780.5 527v2M781.5 529v2M782.5 530v1M783.5 530v1M784.5 530v1M785.5 530v1M786.5 531v1M787.5 532v1M788.5 533v1M789.5 534v1M790.5 535v2M791.5 537v2M792.5 539v2M793.5 541v2M794.5 543v1M795.5 543v1M796.5 544v1M797.5 544v1M798.5 544v1M799.5 544v1M800.5 544v1M801.5 544v1M802.5 542v2M803.5 540v2M804.5 538v2M805.5 536v2M806.5 536v1M807.5 536v1M808.5 535v1M809.5 535v1M810.5 535v1M811.5 536v1M812.5 536v1M813.5 536v1M814.5 536v1M815.5 537v1M816.5 537v1M817.5 537v1M818.5 537v1M819.5 537v1M820.5 536v1M821.5 536v1M822.5 536v1M823.5 537v1M824.5 537v1M825.5 537v1M826.5 538v1M827.5 539v1M828.5 539v1M829.5 540v1M830.5 540v1M831.5 541v1M832.5 541v1M833.5 541v1M834.5 541v1M835.5 542v1M836.5 542v1M837.5 542v1M838.5 542v1M839.5 543v1M840.5 543v1M841.5 543v1M842.5 544v1M843.5 545v1M844.5 546v1M845.5 547v1M846.5 546v1M847.5 546v1M848.5 545v1M849.5 544v1M850.5 545v1M851.5 546v1M852.5 546v1M853.5 547v1M854.5 547v1M855.5 548v1M856.5 548v1M857.5 548v1M858.5 549v2M859.5 551v2M860.5 553v2M861.5 555v1M862.5 555v1M863.5 556v1M864.5 556v1M865.5 556v1M866.5 556v1M867.5 557v1M868.5 557v1M869.5 557v1M870.5 558v1M871.5 559v1M872.5 559v1M873.5 560v1M874.5 560v1M875.5 560v1M876.5 560v1M877.5 560v1M878.5 560v1M879.5 560v1M880.5 559v1M881.5 559v1M882.5 559v1M883.5 560v1M884.5 560v1M885.5 559v2M886.5 557v2M887.5 555v2M888.5 553v2M889.5 551v2M890.5 550v1M891.5 549v1M892.5 548v1M893.5 547v1M894.5 547v1M895.5 547v1M896.5 547v1M897.5 547v1M898.5 548v2M899.5 550v1M900.5 551v2M901.5 553v1M902.5 553v1M903.5 554v1M904.5 554v1M905.5 554v1M906.5 554v1M907.5 554v1M908.5 554v1M909.5 553v2M910.5 551v2M911.5 548v3M912.5 546v2M913.5 544v2M914.5 543v1M915.5 542v1M916.5 541v1M917.5 540v1M918.5 540v1M919.5 541v1M920.5 541v1M921.5 541v1M922.5 541v1M923.5 542v1M924.5 542v1M925.5 542v1" fill="none" stroke="#1e90ff" stroke-width="1"/>
<text x="9" y="506" font-size="10" fill="#000" textLength="68" lengthAdjust="spacingAndGlyphs" text-rendering="geometricPrecision" stroke="#000" stroke-width="0.2" >RSI(14) 41.8768</text>
<text x="1171.5" y="504" font-size="10" fill="#000" textLength="15.5" lengthAdjust="spacingAndGlyphs" text-rendering="geometricPrecision" stroke="#000" stroke-width="0.2" >100</text>
<text x="1171.5" y="523" font-size="10" fill="#000" textLength="10.5" lengthAdjust="spacingAndGlyphs" text-rendering="geometricPrecision" stroke="#000" stroke-width="0.2" >70</text>
<text x="1171.5" y="556" font-size="10" fill="#000" textLength="10.5" lengthAdjust="spacingAndGlyphs" text-rendering="geometricPrecision" stroke="#000" stroke-width="0.2" >30</text>
<text x="1171.5" y="574" font-size="10" fill="#000" textLength="5" lengthAdjust="spacingAndGlyphs" text-rendering="geometricPrecision" stroke="#000" stroke-width="0.2" >0</text>
<g class="c">
<rect x="5" y="578" width="1" height="3" fill="#000" />
<rect x="69" y="578" width="1" height="3" fill="#000" />
<rect x="133" y="578" width="1" height="3" fill="#000" />
<rect x="197" y="578" width="1" height="3" fill="#000" />
<rect x="261" y="578" width="1" height="3" fill="#000" />
<rect x="325" y="578" width="1" height="3" fill="#000" />
<rect x="389" y="578" width="1" height="3" fill="#000" />
<rect x="453" y="578" width="1" height="3" fill="#000" />
<rect x="517" y="578" width="1" height="3" fill="#000" />
<rect x="581" y="578" width="1" height="3" fill="#000" />
<rect x="645" y="578" width="1" height="3" fill="#000" />
<rect x="709" y="578" width="1" height="3" fill="#000" />
<rect x="773" y="578" width="1" height="3" fill="#000" />
<rect x="837" y="578" width="1" height="3" fill="#000" />
<rect x="901" y="578" width="1" height="3" fill="#000" />
</g>
<text x="4.5" y="590" font-size="10" fill="#000" textLength="54.5" lengthAdjust="spacingAndGlyphs" text-rendering="geometricPrecision" stroke="#000" stroke-width="0.2" >22 May 2019</text>
<text x="68.5" y="590" font-size="10" fill="#000" textLength="50" lengthAdjust="spacingAndGlyphs" text-rendering="geometricPrecision" stroke="#000" stroke-width="0.2" >10 Jun 2019</text>
<text x="132.5" y="590" font-size="10" fill="#000" textLength="50" lengthAdjust="spacingAndGlyphs" text-rendering="geometricPrecision" stroke="#000" stroke-width="0.2" >28 Jun 2019</text>
<text x="196.5" y="590" font-size="10" fill="#000" textLength="46" lengthAdjust="spacingAndGlyphs" text-rendering="geometricPrecision" stroke="#000" stroke-width="0.2" >17 Jul 2019</text>
<text x="260.5" y="590" font-size="10" fill="#000" textLength="48" lengthAdjust="spacingAndGlyphs" text-rendering="geometricPrecision" stroke="#000" stroke-width="0.2" >5 Aug 2019</text>
<text x="324.5" y="590" font-size="10" fill="#000" textLength="52" lengthAdjust="spacingAndGlyphs" text-rendering="geometricPrecision" stroke="#000" stroke-width="0.2" >23 Aug 2019</text>
<text x="388.5" y="590" font-size="10" fill="#000" textLength="51.5" lengthAdjust="spacingAndGlyphs" text-rendering="geometricPrecision" stroke="#000" stroke-width="0.2" >11 Sep 2019</text>
<text x="452.5" y="590" font-size="10" fill="#000" textLength="51.5" lengthAdjust="spacingAndGlyphs" text-rendering="geometricPrecision" stroke="#000" stroke-width="0.2" >30 Sep 2019</text>
<text x="516.5" y="590" font-size="10" fill="#000" textLength="50.5" lengthAdjust="spacingAndGlyphs" text-rendering="geometricPrecision" stroke="#000" stroke-width="0.2" >18 Oct 2019</text>
<text x="580.5" y="590" font-size="10" fill="#000" textLength="48.5" lengthAdjust="spacingAndGlyphs" text-rendering="geometricPrecision" stroke="#000" stroke-width="0.2" >6 Nov 2019</text>
<text x="644.5" y="590" font-size="10" fill="#000" textLength="54" lengthAdjust="spacingAndGlyphs" text-rendering="geometricPrecision" stroke="#000" stroke-width="0.2" >25 Nov 2019</text>
<text x="708.5" y="590" font-size="10" fill="#000" textLength="51.5" lengthAdjust="spacingAndGlyphs" text-rendering="geometricPrecision" stroke="#000" stroke-width="0.2" >13 Dec 2019</text>
<text x="772.5" y="590" font-size="10" fill="#000" textLength="44.5" lengthAdjust="spacingAndGlyphs" text-rendering="geometricPrecision" stroke="#000" stroke-width="0.2" >1 Jan 2020</text>
<text x="836.5" y="590" font-size="10" fill="#000" textLength="50" lengthAdjust="spacingAndGlyphs" text-rendering="geometricPrecision" stroke="#000" stroke-width="0.2" >20 Jan 2020</text>
<text x="900.5" y="590" font-size="10" fill="#000" textLength="46.5" lengthAdjust="spacingAndGlyphs" text-rendering="geometricPrecision" stroke="#000" stroke-width="0.2" >7 Feb 2020</text>
<rect x="0" y="598" width="1210" height="1" fill="#e2e2e2" />
<rect x="0" y="600" width="1210" height="22" fill="#f0f0f0" />
<rect x="0" y="619" width="1210" height="3" fill="#f4f4f4" />
<rect x="111" y="600" width="103" height="18" fill="#fff" />
<rect x="0" y="600" width="111" height="1" fill="#000" />
<rect x="110" y="600" width="1" height="19" fill="#000" />
<rect x="110" y="618" width="104" height="1" fill="#000" />
<rect x="213" y="600" width="1" height="19" fill="#000" />
<rect x="213" y="600" width="997" height="1" fill="#000" />
<rect x="0" y="600" width="2" height="19" fill="#a0a0a0" />
<text x="18" y="614.8" font-size="12.5" fill="#727272" textLength="80" lengthAdjust="spacingAndGlyphs" >EURUSD,Daily</text>
<text x="121" y="614.8" font-size="12.5" fill="#000" textLength="82" lengthAdjust="spacingAndGlyphs" >AUDUSD,Daily</text>
<text x="225" y="614.8" font-size="12.5" fill="#727272" textLength="78" lengthAdjust="spacingAndGlyphs" >USDCHF,Daily</text>
<text x="325" y="614.8" font-size="12.5" fill="#727272" textLength="81" lengthAdjust="spacingAndGlyphs" >USDCAD,Daily</text>
<text x="428" y="614.8" font-size="12.5" fill="#727272" textLength="83" lengthAdjust="spacingAndGlyphs" >USDCNH,Daily</text>
<text x="533" y="614.8" font-size="12.5" fill="#727272" textLength="81" lengthAdjust="spacingAndGlyphs" >XAUUSD,Daily</text>
<text x="636" y="614.8" font-size="12.5" fill="#727272" textLength="48" lengthAdjust="spacingAndGlyphs" >DJ30,H4</text>
<text x="706" y="614.8" font-size="12.5" fill="#727272" textLength="72" lengthAdjust="spacingAndGlyphs" >USDOil,Daily</text>
<text x="800" y="614.8" font-size="12.5" fill="#727272" textLength="79" lengthAdjust="spacingAndGlyphs" >USDCHF,Daily</text>
<text x="902" y="614.8" font-size="12.5" fill="#727272" textLength="80" lengthAdjust="spacingAndGlyphs" >GBPUSD,Daily</text>
<text x="1006" y="614.8" font-size="12.5" fill="#727272" textLength="68" lengthAdjust="spacingAndGlyphs" >EURUSD,H1</text>
<text x="1097" y="614.8" font-size="12.5" fill="#727272" textLength="69" lengthAdjust="spacingAndGlyphs" >GBPAUD,H1</text>
<rect x="314" y="603" width="1" height="14" fill="#8a8a8a" />
<rect x="416" y="603" width="1" height="14" fill="#8a8a8a" />
<rect x="522" y="603" width="1" height="14" fill="#8a8a8a" />
<rect x="625" y="603" width="1" height="14" fill="#8a8a8a" />
<rect x="695" y="603" width="1" height="14" fill="#8a8a8a" />
<rect x="789" y="603" width="1" height="14" fill="#8a8a8a" />
<rect x="890" y="603" width="1" height="14" fill="#8a8a8a" />
<rect x="993" y="603" width="1" height="14" fill="#8a8a8a" />
<rect x="1085" y="603" width="1" height="14" fill="#8a8a8a" />
<path d="M1186.2 606.2 L1183 609.1 L1186.2 612 Z" fill="#9a9a9a"/>
<path d="M1201.8 605.6 L1205.8 609.1 L1201.8 612.6 Z" fill="#000"/>
</svg>
</body></html>
